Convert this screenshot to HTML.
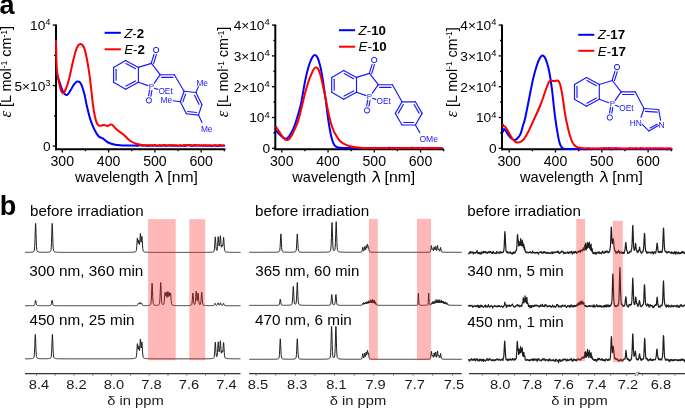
<!DOCTYPE html>
<html><head><meta charset="utf-8"><style>
html,body{margin:0;padding:0;background:#fff;}
svg{display:block;will-change:transform;}
text{font-family:"Liberation Sans", sans-serif;}
</style></head><body>
<svg width="685" height="409" viewBox="0 0 685 409">
<rect width="685" height="409" fill="#fff"/>
<text x="-0.5" y="14.3" font-size="27" font-weight="bold" fill="#000">a</text>
<text x="-0.3" y="215.2" font-size="27" font-weight="bold" fill="#000">b</text>
<line x1="55" y1="149.2" x2="225.5" y2="149.2" stroke="#000" stroke-width="2"/>
<line x1="56" y1="150.2" x2="56" y2="24.5" stroke="#000" stroke-width="2"/>
<line x1="62.3" y1="149.2" x2="62.3" y2="152.5" stroke="#000" stroke-width="1.3"/>
<line x1="85.45" y1="149.2" x2="85.45" y2="151.2" stroke="#000" stroke-width="1.3"/>
<line x1="108.6" y1="149.2" x2="108.6" y2="152.5" stroke="#000" stroke-width="1.3"/>
<line x1="131.75" y1="149.2" x2="131.75" y2="151.2" stroke="#000" stroke-width="1.3"/>
<line x1="154.9" y1="149.2" x2="154.9" y2="152.5" stroke="#000" stroke-width="1.3"/>
<line x1="178.05" y1="149.2" x2="178.05" y2="151.2" stroke="#000" stroke-width="1.3"/>
<line x1="201.2" y1="149.2" x2="201.2" y2="152.5" stroke="#000" stroke-width="1.3"/>
<line x1="224.35" y1="149.2" x2="224.35" y2="151.2" stroke="#000" stroke-width="1.3"/>
<line x1="52.7" y1="25.1" x2="56" y2="25.1" stroke="#000" stroke-width="1.3"/>
<line x1="52.7" y1="85.6" x2="56" y2="85.6" stroke="#000" stroke-width="1.3"/>
<line x1="52.7" y1="146.1" x2="56" y2="146.1" stroke="#000" stroke-width="1.3"/>
<line x1="54" y1="55.4" x2="56" y2="55.4" stroke="#000" stroke-width="1.3"/>
<line x1="54" y1="115.9" x2="56" y2="115.9" stroke="#000" stroke-width="1.3"/>
<text x="62.3" y="165.8" font-size="14.1" text-anchor="middle" fill="#000">300</text>
<text x="108.6" y="165.8" font-size="14.1" text-anchor="middle" fill="#000">400</text>
<text x="154.9" y="165.8" font-size="14.1" text-anchor="middle" fill="#000">500</text>
<text x="201.2" y="165.8" font-size="14.1" text-anchor="middle" fill="#000">600</text>
<text x="50.5" y="30" font-size="13.7" text-anchor="end" fill="#000">10<tspan dy="-4.9" font-size="9.4">4</tspan></text>
<text x="50.5" y="90.5" font-size="13.7" text-anchor="end" fill="#000">5×10<tspan dy="-4.9" font-size="9.4">3</tspan></text>
<text x="50.6" y="151" font-size="13.7" text-anchor="end" fill="#000">0</text>
<line x1="274.3" y1="149.2" x2="443.8" y2="149.2" stroke="#000" stroke-width="2"/>
<line x1="275.3" y1="150.2" x2="275.3" y2="24.5" stroke="#000" stroke-width="2"/>
<line x1="281.8" y1="149.2" x2="281.8" y2="152.5" stroke="#000" stroke-width="1.3"/>
<line x1="304.93" y1="149.2" x2="304.93" y2="151.2" stroke="#000" stroke-width="1.3"/>
<line x1="328.05" y1="149.2" x2="328.05" y2="152.5" stroke="#000" stroke-width="1.3"/>
<line x1="351.18" y1="149.2" x2="351.18" y2="151.2" stroke="#000" stroke-width="1.3"/>
<line x1="374.3" y1="149.2" x2="374.3" y2="152.5" stroke="#000" stroke-width="1.3"/>
<line x1="397.43" y1="149.2" x2="397.43" y2="151.2" stroke="#000" stroke-width="1.3"/>
<line x1="420.55" y1="149.2" x2="420.55" y2="152.5" stroke="#000" stroke-width="1.3"/>
<line x1="443.68" y1="149.2" x2="443.68" y2="151.2" stroke="#000" stroke-width="1.3"/>
<line x1="272" y1="25.1" x2="275.3" y2="25.1" stroke="#000" stroke-width="1.3"/>
<line x1="272" y1="55.9" x2="275.3" y2="55.9" stroke="#000" stroke-width="1.3"/>
<line x1="272" y1="86.7" x2="275.3" y2="86.7" stroke="#000" stroke-width="1.3"/>
<line x1="272" y1="117.5" x2="275.3" y2="117.5" stroke="#000" stroke-width="1.3"/>
<line x1="272" y1="148.3" x2="275.3" y2="148.3" stroke="#000" stroke-width="1.3"/>
<line x1="273.3" y1="40.5" x2="275.3" y2="40.5" stroke="#000" stroke-width="1.3"/>
<line x1="273.3" y1="71.3" x2="275.3" y2="71.3" stroke="#000" stroke-width="1.3"/>
<line x1="273.3" y1="102.1" x2="275.3" y2="102.1" stroke="#000" stroke-width="1.3"/>
<line x1="273.3" y1="132.9" x2="275.3" y2="132.9" stroke="#000" stroke-width="1.3"/>
<text x="281.8" y="165.8" font-size="14.1" text-anchor="middle" fill="#000">300</text>
<text x="328.05" y="165.8" font-size="14.1" text-anchor="middle" fill="#000">400</text>
<text x="374.3" y="165.8" font-size="14.1" text-anchor="middle" fill="#000">500</text>
<text x="420.55" y="165.8" font-size="14.1" text-anchor="middle" fill="#000">600</text>
<text x="269.7" y="30" font-size="13.7" text-anchor="end" fill="#000">4×10<tspan dy="-4.9" font-size="9.4">4</tspan></text>
<text x="269.7" y="60.8" font-size="13.7" text-anchor="end" fill="#000">3×10<tspan dy="-4.9" font-size="9.4">4</tspan></text>
<text x="269.7" y="91.6" font-size="13.7" text-anchor="end" fill="#000">2×10<tspan dy="-4.9" font-size="9.4">4</tspan></text>
<text x="269.7" y="122.4" font-size="13.7" text-anchor="end" fill="#000">10<tspan dy="-4.9" font-size="9.4">4</tspan></text>
<text x="270" y="153.2" font-size="13.7" text-anchor="end" fill="#000">0</text>
<line x1="501" y1="149.2" x2="672.5" y2="149.2" stroke="#000" stroke-width="2"/>
<line x1="502" y1="150.2" x2="502" y2="24.5" stroke="#000" stroke-width="2"/>
<line x1="509.2" y1="149.2" x2="509.2" y2="152.5" stroke="#000" stroke-width="1.3"/>
<line x1="532.35" y1="149.2" x2="532.35" y2="151.2" stroke="#000" stroke-width="1.3"/>
<line x1="555.5" y1="149.2" x2="555.5" y2="152.5" stroke="#000" stroke-width="1.3"/>
<line x1="578.65" y1="149.2" x2="578.65" y2="151.2" stroke="#000" stroke-width="1.3"/>
<line x1="601.8" y1="149.2" x2="601.8" y2="152.5" stroke="#000" stroke-width="1.3"/>
<line x1="624.95" y1="149.2" x2="624.95" y2="151.2" stroke="#000" stroke-width="1.3"/>
<line x1="648.1" y1="149.2" x2="648.1" y2="152.5" stroke="#000" stroke-width="1.3"/>
<line x1="671.25" y1="149.2" x2="671.25" y2="151.2" stroke="#000" stroke-width="1.3"/>
<line x1="498.7" y1="25.1" x2="502" y2="25.1" stroke="#000" stroke-width="1.3"/>
<line x1="498.7" y1="55.9" x2="502" y2="55.9" stroke="#000" stroke-width="1.3"/>
<line x1="498.7" y1="86.7" x2="502" y2="86.7" stroke="#000" stroke-width="1.3"/>
<line x1="498.7" y1="117.5" x2="502" y2="117.5" stroke="#000" stroke-width="1.3"/>
<line x1="498.7" y1="148.3" x2="502" y2="148.3" stroke="#000" stroke-width="1.3"/>
<line x1="500" y1="40.5" x2="502" y2="40.5" stroke="#000" stroke-width="1.3"/>
<line x1="500" y1="71.3" x2="502" y2="71.3" stroke="#000" stroke-width="1.3"/>
<line x1="500" y1="102.1" x2="502" y2="102.1" stroke="#000" stroke-width="1.3"/>
<line x1="500" y1="132.9" x2="502" y2="132.9" stroke="#000" stroke-width="1.3"/>
<text x="509.2" y="165.8" font-size="14.1" text-anchor="middle" fill="#000">300</text>
<text x="555.5" y="165.8" font-size="14.1" text-anchor="middle" fill="#000">400</text>
<text x="601.8" y="165.8" font-size="14.1" text-anchor="middle" fill="#000">500</text>
<text x="648.1" y="165.8" font-size="14.1" text-anchor="middle" fill="#000">600</text>
<text x="496.4" y="30" font-size="13.7" text-anchor="end" fill="#000">4×10<tspan dy="-4.9" font-size="9.4">4</tspan></text>
<text x="496.4" y="60.8" font-size="13.7" text-anchor="end" fill="#000">3×10<tspan dy="-4.9" font-size="9.4">4</tspan></text>
<text x="496.4" y="91.6" font-size="13.7" text-anchor="end" fill="#000">2×10<tspan dy="-4.9" font-size="9.4">4</tspan></text>
<text x="496.4" y="122.4" font-size="13.7" text-anchor="end" fill="#000">10<tspan dy="-4.9" font-size="9.4">4</tspan></text>
<text x="496.7" y="153.2" font-size="13.7" text-anchor="end" fill="#000">0</text>
<text transform="translate(11.2,71.7) rotate(-90)" x="0" y="0" font-size="14.5" text-anchor="middle" textLength="91.6" lengthAdjust="spacingAndGlyphs"><tspan font-style="italic" style="font-family:&quot;Liberation Serif&quot;,serif" font-size="16.5">ε</tspan> [L mol<tspan dy="-4.5" font-size="8.5">-1</tspan><tspan dy="4.5"> cm</tspan><tspan dy="-4.5" font-size="8.5">-1</tspan><tspan dy="4.5">]</tspan></text>
<text transform="translate(228.2,72) rotate(-90)" x="0" y="0" font-size="14.5" text-anchor="middle" textLength="90.6" lengthAdjust="spacingAndGlyphs"><tspan font-style="italic" style="font-family:&quot;Liberation Serif&quot;,serif" font-size="16.5">ε</tspan> [L mol<tspan dy="-4.5" font-size="8.5">-1</tspan><tspan dy="4.5"> cm</tspan><tspan dy="-4.5" font-size="8.5">-1</tspan><tspan dy="4.5">]</tspan></text>
<text transform="translate(456.5,72.3) rotate(-90)" x="0" y="0" font-size="14.5" text-anchor="middle" textLength="90" lengthAdjust="spacingAndGlyphs"><tspan font-style="italic" style="font-family:&quot;Liberation Serif&quot;,serif" font-size="16.5">ε</tspan> [L mol<tspan dy="-4.5" font-size="8.5">-1</tspan><tspan dy="4.5"> cm</tspan><tspan dy="-4.5" font-size="8.5">-1</tspan><tspan dy="4.5">]</tspan></text>
<text x="75" y="181.5" font-size="14.6" textLength="73.8" lengthAdjust="spacingAndGlyphs" fill="#000">wavelength</text>
<path d="M156.6 171.6 Q158.8 170.6 159.8 173.9 L162.2 181.7" fill="none" stroke="#000" stroke-width="1.35" stroke-linecap="round"/>
<path d="M159.8 175.1 L155.5 181.7" fill="none" stroke="#000" stroke-width="1.25" stroke-linecap="round"/>
<text x="167.3" y="181.5" font-size="14.6" textLength="30.6" lengthAdjust="spacingAndGlyphs" fill="#000">[nm]</text>
<text x="292.3" y="181.5" font-size="14.6" textLength="73.8" lengthAdjust="spacingAndGlyphs" fill="#000">wavelength</text>
<path d="M373.9 171.6 Q376.1 170.6 377.1 173.9 L379.5 181.7" fill="none" stroke="#000" stroke-width="1.35" stroke-linecap="round"/>
<path d="M377.1 175.1 L372.8 181.7" fill="none" stroke="#000" stroke-width="1.25" stroke-linecap="round"/>
<text x="384.6" y="181.5" font-size="14.6" textLength="30.6" lengthAdjust="spacingAndGlyphs" fill="#000">[nm]</text>
<text x="520" y="181.5" font-size="14.6" textLength="73.8" lengthAdjust="spacingAndGlyphs" fill="#000">wavelength</text>
<path d="M601.6 171.6 Q603.8 170.6 604.8 173.9 L607.2 181.7" fill="none" stroke="#000" stroke-width="1.35" stroke-linecap="round"/>
<path d="M604.8 175.1 L600.5 181.7" fill="none" stroke="#000" stroke-width="1.25" stroke-linecap="round"/>
<text x="612.3" y="181.5" font-size="14.6" textLength="30.6" lengthAdjust="spacingAndGlyphs" fill="#000">[nm]</text>
<path d="M56.2 72.5 C56.63 73.73 57.7 76.8 58.8 79.9 C59.9 83 61.47 88.57 62.8 91.1 C64.13 93.63 65.5 95.23 66.8 95.1 C68.1 94.97 69.4 92.1 70.6 90.3 C71.8 88.5 72.88 85.75 74 84.3 C75.12 82.85 76.17 81.75 77.3 81.6 C78.43 81.45 79.63 81.38 80.8 83.4 C81.97 85.42 83.3 89.98 84.3 93.7 C85.3 97.42 85.8 101.42 86.8 105.7 C87.8 109.98 89.02 115.4 90.3 119.4 C91.58 123.4 93.08 126.85 94.5 129.7 C95.92 132.55 97.37 135.02 98.8 136.5 C100.23 137.98 101.53 137.6 103.1 138.6 C104.67 139.6 106.2 141.47 108.2 142.5 C110.2 143.53 112.8 144.32 115.1 144.8 C117.4 145.28 119.52 145.27 122 145.4 C124.48 145.53 128.33 145.59 130 145.6 C131.67 145.61 131.42 145.44 132 145.44 C132.58 145.45 133 145.61 133.5 145.63 C134 145.64 134.5 145.52 135 145.52 C135.5 145.53 136 145.64 136.5 145.66 C137 145.69 137.5 145.73 138 145.68 C138.5 145.62 139 145.4 139.5 145.34 C140 145.28 140.5 145.23 141 145.31 C141.5 145.39 142 145.78 142.5 145.8 C143 145.83 143.5 145.52 144 145.46 C144.5 145.4 145 145.37 145.5 145.44 C146 145.51 146.5 145.87 147 145.9 C147.5 145.92 148 145.6 148.5 145.58 C149 145.57 149.5 145.8 150 145.8 C150.5 145.8 151 145.61 151.5 145.59 C152 145.57 152.5 145.72 153 145.68 C153.5 145.65 154 145.39 154.5 145.39 C155 145.39 155.5 145.61 156 145.68 C156.5 145.75 157 145.83 157.5 145.82 C158 145.81 158.5 145.63 159 145.61 C159.5 145.6 160 145.73 160.5 145.74 C161 145.76 161.5 145.77 162 145.7 C162.5 145.64 163 145.33 163.5 145.34 C164 145.35 164.5 145.7 165 145.75 C165.5 145.81 166 145.7 166.5 145.65 C167 145.61 167.5 145.54 168 145.48 C168.5 145.42 169 145.26 169.5 145.32 C170 145.38 170.5 145.78 171 145.82 C171.5 145.86 172 145.6 172.5 145.58 C173 145.57 173.5 145.69 174 145.73 C174.5 145.77 175 145.83 175.5 145.83 C176 145.83 176.5 145.72 177 145.73 C177.5 145.73 178 145.88 178.5 145.85 C179 145.82 179.5 145.55 180 145.54 C180.5 145.52 181 145.78 181.5 145.78 C182 145.79 182.5 145.55 183 145.57 C183.5 145.58 184 145.82 184.5 145.86 C185 145.9 185.5 145.91 186 145.83 C186.5 145.74 187 145.43 187.5 145.36 C188 145.28 188.5 145.37 189 145.38 C189.5 145.39 190 145.35 190.5 145.43 C191 145.51 191.5 145.86 192 145.88 C192.5 145.9 193 145.6 193.5 145.56 C194 145.53 194.5 145.69 195 145.68 C195.5 145.66 196 145.49 196.5 145.48 C197 145.47 197.5 145.6 198 145.6 C198.5 145.61 199 145.55 199.5 145.53 C200 145.52 200.5 145.49 201 145.51 C201.5 145.53 202 145.63 202.5 145.65 C203 145.67 203.5 145.62 204 145.65 C204.5 145.68 205 145.83 205.5 145.84 C206 145.85 206.5 145.71 207 145.71 C207.5 145.71 208 145.84 208.5 145.86 C209 145.87 209.5 145.81 210 145.81 C210.5 145.82 211 145.91 211.5 145.89 C212 145.88 212.5 145.79 213 145.7 C213.5 145.62 214 145.38 214.5 145.4 C215 145.42 215.5 145.74 216 145.82 C216.5 145.9 217 145.87 217.5 145.88 C218 145.88 218.5 145.88 219 145.84 C219.5 145.8 220 145.66 220.5 145.64 C221 145.62 221.5 145.76 222 145.73 C222.5 145.69 223 145.41 223.5 145.43 C224 145.44 224.75 145.74 225 145.8" fill="none" stroke="#0000ff" stroke-width="2" stroke-linejoin="round"/>
<path d="M56 40.3 C56.07 43.58 56.2 54.72 56.4 60 C56.6 65.28 56.77 68.25 57.2 72 C57.63 75.75 58.37 79.42 59 82.5 C59.63 85.58 60.37 88.72 61 90.5 C61.63 92.28 62.13 93.12 62.8 93.2 C63.47 93.28 64 93.2 65 91 C66 88.8 67.38 85.28 68.8 80 C70.22 74.72 72.13 64.72 73.5 59.3 C74.87 53.88 75.83 50.07 77 47.5 C78.17 44.93 79.33 43.9 80.5 43.9 C81.67 43.9 82.97 45.15 84 47.5 C85.03 49.85 85.78 53.42 86.7 58 C87.62 62.58 88.73 69.67 89.5 75 C90.27 80.33 90.72 85 91.3 90 C91.88 95 92.42 100.67 93 105 C93.58 109.33 94.17 113 94.8 116 C95.43 119 96.1 121.4 96.8 123 C97.5 124.6 98.22 125.17 99 125.6 C99.78 126.03 100.67 125.72 101.5 125.6 C102.33 125.48 103.02 124.85 104 124.9 C104.98 124.95 106.32 125.95 107.4 125.9 C108.48 125.85 109.65 124.75 110.5 124.6 C111.35 124.45 111.73 124.43 112.5 125 C113.27 125.57 114.1 127 115.1 128 C116.1 129 117.07 129.87 118.5 131 C119.93 132.13 121.78 133.17 123.7 134.8 C125.62 136.43 127.83 139.27 130 140.8 C132.17 142.33 134.37 143.27 136.7 144 C139.03 144.73 141.78 144.98 144 145.2 C146.22 145.42 148.67 145.27 150 145.3 C151.33 145.33 151.42 145.38 152 145.35 C152.58 145.33 153 145.21 153.5 145.15 C154 145.09 154.5 144.93 155 144.99 C155.5 145.06 156 145.44 156.5 145.55 C157 145.66 157.5 145.73 158 145.64 C158.5 145.55 159 145.03 159.5 145.01 C160 144.99 160.5 145.47 161 145.51 C161.5 145.55 162 145.31 162.5 145.24 C163 145.16 163.5 145.07 164 145.06 C164.5 145.04 165 145.08 165.5 145.16 C166 145.23 166.5 145.42 167 145.49 C167.5 145.56 168 145.65 168.5 145.56 C169 145.48 169.5 145.01 170 144.98 C170.5 144.95 171 145.38 171.5 145.38 C172 145.38 172.5 144.97 173 144.98 C173.5 144.99 174 145.42 174.5 145.45 C175 145.49 175.5 145.16 176 145.18 C176.5 145.2 177 145.49 177.5 145.57 C178 145.64 178.5 145.68 179 145.64 C179.5 145.59 180 145.3 180.5 145.3 C181 145.31 181.5 145.67 182 145.65 C182.5 145.63 183 145.27 183.5 145.17 C184 145.06 184.5 144.97 185 145 C185.5 145.04 186 145.38 186.5 145.37 C187 145.36 187.5 145.02 188 144.97 C188.5 144.93 189 145.04 189.5 145.09 C190 145.13 190.5 145.19 191 145.24 C191.5 145.28 192 145.41 192.5 145.38 C193 145.35 193.5 145.13 194 145.06 C194.5 144.99 195 144.9 195.5 144.98 C196 145.06 196.5 145.53 197 145.56 C197.5 145.59 198 145.16 198.5 145.17 C199 145.18 199.5 145.55 200 145.62 C200.5 145.69 201 145.65 201.5 145.58 C202 145.51 202.5 145.27 203 145.21 C203.5 145.16 204 145.26 204.5 145.27 C205 145.29 205.5 145.29 206 145.31 C206.5 145.34 207 145.39 207.5 145.4 C208 145.41 208.5 145.38 209 145.37 C209.5 145.36 210 145.34 210.5 145.34 C211 145.34 211.5 145.34 212 145.38 C212.5 145.43 213 145.62 213.5 145.61 C214 145.6 214.5 145.36 215 145.3 C215.5 145.25 216 145.23 216.5 145.25 C217 145.28 217.5 145.48 218 145.45 C218.5 145.43 219 145.17 219.5 145.12 C220 145.07 220.5 145.07 221 145.16 C221.5 145.25 222 145.61 222.5 145.63 C223 145.66 223.75 145.37 224 145.31" fill="none" stroke="#ff0000" stroke-width="2" stroke-linejoin="round"/>
<path d="M275.6 130.2 C276.33 130.97 278.68 133.53 280 134.8 C281.32 136.07 282.45 137.13 283.5 137.8 C284.55 138.47 285.38 139.03 286.3 138.8 C287.22 138.57 288.05 137.62 289 136.4 C289.95 135.18 291 133.48 292 131.5 C293 129.52 294.08 127 295 124.5 C295.92 122 296.5 119.97 297.5 116.5 C298.5 113.03 299.8 109.27 301 103.7 C302.2 98.13 303.7 88.3 304.7 83.1 C305.7 77.9 306.18 75.77 307 72.5 C307.82 69.23 308.72 66.05 309.6 63.5 C310.48 60.95 311.42 58.62 312.3 57.2 C313.18 55.78 314.03 54.95 314.9 55 C315.77 55.05 316.63 55.75 317.5 57.5 C318.37 59.25 319.32 62.42 320.1 65.5 C320.88 68.58 321.5 71.92 322.2 76 C322.9 80.08 323.67 85.67 324.3 90 C324.93 94.33 325.42 97.58 326 102 C326.58 106.42 327.2 112.17 327.8 116.5 C328.4 120.83 328.98 124.5 329.6 128 C330.22 131.5 330.85 134.92 331.5 137.5 C332.15 140.08 332.75 141.98 333.5 143.5 C334.25 145.02 334.88 145.88 336 146.6 C337.12 147.32 337.65 147.55 340.2 147.8 C342.75 148.05 349 148.05 351.3 148.1 C353.6 148.15 353.3 148.15 354 148.12 C354.7 148.09 355 147.91 355.5 147.9 C356 147.9 356.5 148.03 357 148.07 C357.5 148.1 358 148.16 358.5 148.13 C359 148.11 359.5 147.91 360 147.91 C360.5 147.91 361 148.11 361.5 148.15 C362 148.19 362.5 148.19 363 148.15 C363.5 148.12 364 147.92 364.5 147.92 C365 147.92 365.5 148.12 366 148.15 C366.5 148.18 367 148.08 367.5 148.09 C368 148.09 368.5 148.18 369 148.17 C369.5 148.16 370 148.04 370.5 148.04 C371 148.04 371.5 148.16 372 148.18 C372.5 148.21 373 148.24 373.5 148.2 C374 148.15 374.5 147.95 375 147.91 C375.5 147.86 376 147.88 376.5 147.92 C377 147.97 377.5 148.11 378 148.17 C378.5 148.23 379 148.31 379.5 148.29 C380 148.26 380.5 148.03 381 148 C381.5 147.97 382 148.06 382.5 148.08 C383 148.11 383.5 148.15 384 148.14 C384.5 148.13 385 148.04 385.5 148.03 C386 148.01 386.5 148.05 387 148.05 C387.5 148.05 388 148.02 388.5 148.03 C389 148.03 389.5 148.03 390 148.05 C390.5 148.07 391 148.14 391.5 148.14 C392 148.13 392.5 148.03 393 148.02 C393.5 148.01 394 148.02 394.5 148.05 C395 148.08 395.5 148.23 396 148.21 C396.5 148.19 397 147.92 397.5 147.91 C398 147.9 398.5 148.08 399 148.13 C399.5 148.17 400 148.21 400.5 148.19 C401 148.18 401.5 148.06 402 148.02 C402.5 147.99 403 147.96 403.5 147.99 C404 148.02 404.5 148.22 405 148.22 C405.5 148.22 406 148.04 406.5 148 C407 147.95 407.5 147.96 408 147.97 C408.5 147.99 409 148.04 409.5 148.07 C410 148.11 410.5 148.2 411 148.18 C411.5 148.16 412 147.97 412.5 147.94 C413 147.92 413.5 148.01 414 148.03 C414.5 148.04 415 148 415.5 148.03 C416 148.07 416.5 148.23 417 148.23 C417.5 148.24 418 148.07 418.5 148.08 C419 148.08 419.5 148.26 420 148.24 C420.5 148.22 421 148 421.5 147.97 C422 147.93 422.5 148 423 148.03 C423.5 148.07 424 148.12 424.5 148.16 C425 148.2 425.5 148.27 426 148.25 C426.5 148.24 427 148.12 427.5 148.08 C428 148.04 428.5 148.01 429 147.99 C429.5 147.97 430 147.93 430.5 147.95 C431 147.97 431.5 148.11 432 148.11 C432.5 148.12 433 147.96 433.5 147.98 C434 147.99 434.5 148.18 435 148.22 C435.5 148.27 436 148.28 436.5 148.24 C437 148.19 437.5 148.01 438 147.97 C438.5 147.94 439 147.97 439.5 148.01 C440 148.05 440.5 148.2 441 148.22 C441.5 148.25 442.25 148.17 442.5 148.16" fill="none" stroke="#0000ff" stroke-width="2" stroke-linejoin="round"/>
<path d="M275.6 126.2 C276 126.8 277.1 128.42 278 129.8 C278.9 131.18 280 133.05 281 134.5 C282 135.95 283.12 137.6 284 138.5 C284.88 139.4 285.47 139.78 286.3 139.9 C287.13 140.02 288.05 140.02 289 139.2 C289.95 138.38 291 136.78 292 135 C293 133.22 293.93 130.98 295 128.5 C296.07 126.02 297.15 124.23 298.4 120.1 C299.65 115.97 301.32 108.47 302.5 103.7 C303.68 98.93 304.5 95.2 305.5 91.5 C306.5 87.8 307.58 84.25 308.5 81.5 C309.42 78.75 310.17 77 311 75 C311.83 73 312.65 70.78 313.5 69.5 C314.35 68.22 315.27 67.3 316.1 67.3 C316.93 67.3 317.72 67.97 318.5 69.5 C319.28 71.03 320.08 73.92 320.8 76.5 C321.52 79.08 322.15 82.08 322.8 85 C323.45 87.92 324.08 91 324.7 94 C325.32 97 325.87 99.83 326.5 103 C327.13 106.17 327.83 109.92 328.5 113 C329.17 116.08 329.72 118.7 330.5 121.5 C331.28 124.3 332.35 127.62 333.2 129.8 C334.05 131.98 334.67 132.97 335.6 134.6 C336.53 136.23 337.73 138.27 338.8 139.6 C339.87 140.93 340.85 141.77 342 142.6 C343.15 143.43 344.37 144 345.7 144.6 C347.03 145.2 348.37 145.75 350 146.2 C351.63 146.65 353.5 147.02 355.5 147.3 C357.5 147.58 359.58 147.78 362 147.9 C364.42 148.02 368.33 147.96 370 148 C371.67 148.04 371.42 148.13 372 148.12 C372.58 148.11 373 147.98 373.5 147.94 C374 147.89 374.5 147.86 375 147.85 C375.5 147.85 376 147.87 376.5 147.92 C377 147.96 377.5 148.12 378 148.12 C378.5 148.12 379 147.94 379.5 147.91 C380 147.88 380.5 147.93 381 147.94 C381.5 147.95 382 147.96 382.5 147.97 C383 147.97 383.5 147.97 384 147.97 C384.5 147.97 385 147.93 385.5 147.96 C386 148 386.5 148.19 387 148.17 C387.5 148.15 388 147.92 388.5 147.86 C389 147.8 389.5 147.75 390 147.8 C390.5 147.85 391 148.12 391.5 148.18 C392 148.24 392.5 148.15 393 148.15 C393.5 148.15 394 148.22 394.5 148.19 C395 148.17 395.5 147.98 396 147.97 C396.5 147.97 397 148.15 397.5 148.18 C398 148.21 398.5 148.22 399 148.17 C399.5 148.12 400 147.9 400.5 147.89 C401 147.88 401.5 148.06 402 148.1 C402.5 148.14 403 148.14 403.5 148.13 C404 148.13 404.5 148.09 405 148.07 C405.5 148.04 406 148.03 406.5 148.01 C407 147.98 407.5 147.93 408 147.92 C408.5 147.9 409 147.94 409.5 147.94 C410 147.93 410.5 147.91 411 147.89 C411.5 147.87 412 147.8 412.5 147.83 C413 147.85 413.5 148.02 414 148.04 C414.5 148.05 415 147.9 415.5 147.91 C416 147.93 416.5 148.14 417 148.12 C417.5 148.11 418 147.81 418.5 147.82 C419 147.82 419.5 148.12 420 148.16 C420.5 148.2 421 148.08 421.5 148.08 C422 148.08 422.5 148.16 423 148.17 C423.5 148.18 424 148.16 424.5 148.16 C425 148.16 425.5 148.18 426 148.16 C426.5 148.14 427 148.09 427.5 148.03 C428 147.97 428.5 147.79 429 147.81 C429.5 147.82 430 148.09 430.5 148.1 C431 148.11 431.5 147.9 432 147.87 C432.5 147.84 433 147.89 433.5 147.92 C434 147.95 434.5 148.05 435 148.07 C435.5 148.08 436 148.03 436.5 148.01 C437 147.99 437.5 147.94 438 147.97 C438.5 147.99 439 148.16 439.5 148.18 C440 148.19 440.5 148.08 441 148.04 C441.5 148.01 442.25 147.95 442.5 147.94" fill="none" stroke="#ff0000" stroke-width="2" stroke-linejoin="round"/>
<path d="M502.8 132.5 C502.95 131.95 503.33 129.65 503.7 129.2 C504.07 128.75 504.52 129.3 505 129.8 C505.48 130.3 505.97 131.25 506.6 132.2 C507.23 133.15 507.98 134.45 508.8 135.5 C509.62 136.55 510.52 137.77 511.5 138.5 C512.48 139.23 513.7 139.95 514.7 139.9 C515.7 139.85 516.53 139.18 517.5 138.2 C518.47 137.22 519.58 136.12 520.5 134 C521.42 131.88 522.27 127.95 523 125.5 C523.73 123.05 524.08 122.77 524.9 119.3 C525.72 115.83 526.92 109.58 527.9 104.7 C528.88 99.82 529.92 94.37 530.8 90 C531.68 85.63 532.35 82.08 533.2 78.5 C534.05 74.92 534.93 71.62 535.9 68.5 C536.87 65.38 537.9 61.95 539 59.8 C540.1 57.65 541.42 55.77 542.5 55.6 C543.58 55.43 544.53 56.82 545.5 58.8 C546.47 60.78 547.47 64.13 548.3 67.5 C549.13 70.87 549.83 74.92 550.5 79 C551.17 83.08 551.75 87.5 552.3 92 C552.85 96.5 553.3 101.58 553.8 106 C554.3 110.42 554.73 114.33 555.3 118.5 C555.87 122.67 556.55 127.17 557.2 131 C557.85 134.83 558.52 138.87 559.2 141.5 C559.88 144.13 560.58 145.62 561.3 146.8 C562.02 147.98 562.55 148.23 563.5 148.6 C564.45 148.97 566.08 148.95 567 149 C567.92 149.05 568.42 148.88 569 148.9 C569.58 148.93 570 149.13 570.5 149.14 C571 149.16 571.5 149 572 148.99 C572.5 148.99 573 149.12 573.5 149.11 C574 149.1 574.5 148.98 575 148.94 C575.5 148.9 576 148.87 576.5 148.88 C577 148.89 577.5 148.97 578 149.01 C578.5 149.06 579 149.15 579.5 149.13 C580 149.1 580.5 148.87 581 148.87 C581.5 148.87 582 149.07 582.5 149.12 C583 149.17 583.5 149.17 584 149.17 C584.5 149.17 585 149.13 585.5 149.12 C586 149.12 586.5 149.18 587 149.13 C587.5 149.08 588 148.82 588.5 148.8 C589 148.79 589.5 148.99 590 149.05 C590.5 149.11 591 149.18 591.5 149.15 C592 149.11 592.5 148.86 593 148.82 C593.5 148.78 594 148.89 594.5 148.91 C595 148.92 595.5 148.89 596 148.91 C596.5 148.92 597 149 597.5 149.01 C598 149.02 598.5 148.97 599 148.97 C599.5 148.97 600 148.97 600.5 148.99 C601 149.01 601.5 149.14 602 149.11 C602.5 149.08 603 148.85 603.5 148.8 C604 148.75 604.5 148.81 605 148.82 C605.5 148.83 606 148.85 606.5 148.85 C607 148.86 607.5 148.85 608 148.85 C608.5 148.85 609 148.77 609.5 148.83 C610 148.88 610.5 149.14 611 149.19 C611.5 149.24 612 149.2 612.5 149.14 C613 149.08 613.5 148.86 614 148.83 C614.5 148.81 615 148.99 615.5 149 C616 149.02 616.5 148.94 617 148.93 C617.5 148.91 618 148.92 618.5 148.93 C619 148.93 619.5 148.92 620 148.94 C620.5 148.96 621 149.04 621.5 149.06 C622 149.07 622.5 149.05 623 149.03 C623.5 149.02 624 148.97 624.5 148.94 C625 148.92 625.5 148.88 626 148.88 C626.5 148.87 627 148.94 627.5 148.93 C628 148.93 628.5 148.83 629 148.85 C629.5 148.86 630 148.98 630.5 149.02 C631 149.06 631.5 149.1 632 149.09 C632.5 149.07 633 148.99 633.5 148.95 C634 148.91 634.5 148.85 635 148.83 C635.5 148.82 636 148.85 636.5 148.87 C637 148.89 637.5 148.92 638 148.95 C638.5 148.98 639 149.01 639.5 149.04 C640 149.07 640.5 149.13 641 149.11 C641.5 149.1 642 148.95 642.5 148.95 C643 148.95 643.5 149.1 644 149.12 C644.5 149.14 645 149.07 645.5 149.05 C646 149.02 646.5 148.99 647 148.97 C647.5 148.96 648 148.94 648.5 148.95 C649 148.95 649.5 148.98 650 149 C650.5 149.02 651 149.09 651.5 149.08 C652 149.08 652.5 148.97 653 148.97 C653.5 148.97 654 149.07 654.5 149.08 C655 149.08 655.5 149.01 656 148.98 C656.5 148.95 657 148.89 657.5 148.9 C658 148.9 658.5 148.98 659 149.01 C659.5 149.04 660 149.11 660.5 149.08 C661 149.05 661.5 148.85 662 148.83 C662.5 148.81 663 148.95 663.5 148.97 C664 148.99 664.5 148.94 665 148.97 C665.5 149 666 149.12 666.5 149.15 C667 149.19 667.5 149.21 668 149.17 C668.5 149.14 669 148.95 669.5 148.95 C670 148.95 670.75 149.12 671 149.16" fill="none" stroke="#0000ff" stroke-width="2" stroke-linejoin="round"/>
<path d="M502.8 124.2 C502.95 124.55 503.33 125.9 503.7 126.3 C504.07 126.7 504.52 126.18 505 126.6 C505.48 127.02 505.97 127.82 506.6 128.8 C507.23 129.78 508.07 131.22 508.8 132.5 C509.53 133.78 510.27 135.32 511 136.5 C511.73 137.68 512.45 138.72 513.2 139.6 C513.95 140.48 514.77 141.3 515.5 141.8 C516.23 142.3 516.77 142.58 517.6 142.6 C518.43 142.62 519.52 142.38 520.5 141.9 C521.48 141.42 522.5 140.85 523.5 139.7 C524.5 138.55 525.53 136.68 526.5 135 C527.47 133.32 528.22 131.85 529.3 129.6 C530.38 127.35 531.77 124.18 533 121.5 C534.23 118.82 535.53 116.08 536.7 113.5 C537.87 110.92 539.03 108.33 540 106 C540.97 103.67 541.75 101.58 542.5 99.5 C543.25 97.42 543.83 95.42 544.5 93.5 C545.17 91.58 545.88 89.67 546.5 88 C547.12 86.33 547.68 84.63 548.2 83.5 C548.72 82.37 549.13 81.68 549.6 81.2 C550.07 80.72 550.43 80.65 551 80.6 C551.57 80.55 552.33 80.85 553 80.9 C553.67 80.95 554.33 80.97 555 80.9 C555.67 80.83 556.42 80.48 557 80.5 C557.58 80.52 558.03 80.5 558.5 81 C558.97 81.5 559.38 82.33 559.8 83.5 C560.22 84.67 560.58 86.08 561 88 C561.42 89.92 561.88 92.5 562.3 95 C562.72 97.5 563.08 100.08 563.5 103 C563.92 105.92 564.3 109.42 564.8 112.5 C565.3 115.58 565.88 118.55 566.5 121.5 C567.12 124.45 567.87 127.65 568.5 130.2 C569.13 132.75 569.7 134.9 570.3 136.8 C570.9 138.7 571.4 140.2 572.1 141.6 C572.8 143 573.63 144.28 574.5 145.2 C575.37 146.12 576.3 146.65 577.3 147.1 C578.3 147.55 579.53 147.72 580.5 147.9 C581.47 148.08 582.35 148.11 583.1 148.2 C583.85 148.29 584.43 148.42 585 148.42 C585.57 148.42 586 148.23 586.5 148.2 C587 148.18 587.5 148.29 588 148.29 C588.5 148.28 589 148.13 589.5 148.15 C590 148.17 590.5 148.39 591 148.43 C591.5 148.46 592 148.36 592.5 148.36 C593 148.37 593.5 148.45 594 148.45 C594.5 148.46 595 148.43 595.5 148.42 C596 148.4 596.5 148.37 597 148.37 C597.5 148.36 598 148.4 598.5 148.39 C599 148.39 599.5 148.37 600 148.33 C600.5 148.28 601 148.14 601.5 148.14 C602 148.14 602.5 148.34 603 148.34 C603.5 148.33 604 148.13 604.5 148.1 C605 148.07 605.5 148.11 606 148.16 C606.5 148.21 607 148.42 607.5 148.41 C608 148.4 608.5 148.16 609 148.12 C609.5 148.07 610 148.13 610.5 148.14 C611 148.14 611.5 148.09 612 148.14 C612.5 148.19 613 148.45 613.5 148.45 C614 148.46 614.5 148.23 615 148.17 C615.5 148.11 616 148.07 616.5 148.11 C617 148.15 617.5 148.43 618 148.44 C618.5 148.44 619 148.15 619.5 148.15 C620 148.15 620.5 148.4 621 148.44 C621.5 148.47 622 148.37 622.5 148.37 C623 148.37 623.5 148.42 624 148.43 C624.5 148.45 625 148.5 625.5 148.48 C626 148.46 626.5 148.34 627 148.33 C627.5 148.32 628 148.46 628.5 148.42 C629 148.38 629.5 148.12 630 148.11 C630.5 148.11 631 148.38 631.5 148.41 C632 148.44 632.5 148.31 633 148.3 C633.5 148.3 634 148.41 634.5 148.39 C635 148.36 635.5 148.14 636 148.14 C636.5 148.14 637 148.34 637.5 148.4 C638 148.45 638.5 148.52 639 148.47 C639.5 148.43 640 148.17 640.5 148.12 C641 148.08 641.5 148.2 642 148.23 C642.5 148.26 643 148.29 643.5 148.33 C644 148.36 644.5 148.45 645 148.43 C645.5 148.41 646 148.24 646.5 148.2 C647 148.15 647.5 148.17 648 148.17 C648.5 148.17 649 148.17 649.5 148.2 C650 148.23 650.5 148.31 651 148.35 C651.5 148.38 652 148.42 652.5 148.4 C653 148.39 653.5 148.28 654 148.26 C654.5 148.23 655 148.25 655.5 148.25 C656 148.25 656.5 148.26 657 148.26 C657.5 148.26 658 148.24 658.5 148.24 C659 148.24 659.5 148.29 660 148.27 C660.5 148.25 661 148.13 661.5 148.13 C662 148.14 662.5 148.24 663 148.3 C663.5 148.36 664 148.5 664.5 148.49 C665 148.48 665.5 148.28 666 148.27 C666.5 148.25 667 148.42 667.5 148.4 C668 148.38 668.5 148.17 669 148.16 C669.5 148.16 670 148.34 670.5 148.38 C671 148.42 671.75 148.4 672 148.4" fill="none" stroke="#ff0000" stroke-width="2" stroke-linejoin="round"/>
<line x1="104.6" y1="32.8" x2="120.9" y2="32.8" stroke="#0000ff" stroke-width="2"/>
<line x1="104.6" y1="49.3" x2="120.9" y2="49.3" stroke="#ff0000" stroke-width="2"/>
<text x="124.2" y="37.6" font-size="13.3" fill="#000"><tspan font-style="italic">Z</tspan>-<tspan font-weight="bold">2</tspan></text>
<text x="124.2" y="53.7" font-size="13.3" fill="#000"><tspan font-style="italic">E</tspan>-<tspan font-weight="bold">2</tspan></text>
<line x1="339" y1="30.2" x2="355.1" y2="30.2" stroke="#0000ff" stroke-width="2"/>
<line x1="339" y1="46.7" x2="355.1" y2="46.7" stroke="#ff0000" stroke-width="2"/>
<text x="358.6" y="34.8" font-size="13.3" fill="#000"><tspan font-style="italic">Z</tspan>-<tspan font-weight="bold">10</tspan></text>
<text x="358.6" y="51.1" font-size="13.3" fill="#000"><tspan font-style="italic">E</tspan>-<tspan font-weight="bold">10</tspan></text>
<line x1="578.2" y1="34.8" x2="594.3" y2="34.8" stroke="#0000ff" stroke-width="2"/>
<line x1="578.2" y1="50.8" x2="594.3" y2="50.8" stroke="#ff0000" stroke-width="2"/>
<text x="597.8" y="39.4" font-size="13.3" fill="#000"><tspan font-style="italic">Z</tspan>-<tspan font-weight="bold">17</tspan></text>
<text x="597.8" y="55.7" font-size="13.3" fill="#000"><tspan font-style="italic">E</tspan>-<tspan font-weight="bold">17</tspan></text>
<line x1="125.6" y1="60.4" x2="138.4" y2="67.4" stroke="#1818ff" stroke-width="1.15" stroke-linecap="round"/>
<line x1="138.4" y1="67.4" x2="138.4" y2="82.2" stroke="#1818ff" stroke-width="1.15" stroke-linecap="round"/>
<line x1="138.4" y1="82.2" x2="125.6" y2="89.2" stroke="#1818ff" stroke-width="1.15" stroke-linecap="round"/>
<line x1="125.6" y1="89.2" x2="113.6" y2="82.2" stroke="#1818ff" stroke-width="1.15" stroke-linecap="round"/>
<line x1="113.6" y1="82.2" x2="113.6" y2="67.4" stroke="#1818ff" stroke-width="1.15" stroke-linecap="round"/>
<line x1="113.6" y1="67.4" x2="125.6" y2="60.4" stroke="#1818ff" stroke-width="1.15" stroke-linecap="round"/>
<line x1="126.03" y1="63.48" x2="135.5" y2="68.66" stroke="#1818ff" stroke-width="1.15" stroke-linecap="round"/>
<line x1="135.5" y1="80.94" x2="126.03" y2="86.12" stroke="#1818ff" stroke-width="1.15" stroke-linecap="round"/>
<line x1="116.1" y1="80.28" x2="116.1" y2="69.32" stroke="#1818ff" stroke-width="1.15" stroke-linecap="round"/>
<line x1="138.4" y1="67.4" x2="151.4" y2="63.4" stroke="#1818ff" stroke-width="1.15" stroke-linecap="round"/>
<line x1="151.4" y1="63.4" x2="160.2" y2="74.7" stroke="#1818ff" stroke-width="1.15" stroke-linecap="round"/>
<line x1="151.2" y1="63.4" x2="154" y2="54.3" stroke="#1818ff" stroke-width="1.15" stroke-linecap="round"/>
<line x1="153.6" y1="63.6" x2="156.4" y2="54.6" stroke="#1818ff" stroke-width="1.15" stroke-linecap="round"/>
<ellipse cx="156.1" cy="50" rx="2.65" ry="2.7" fill="none" stroke="#1818ff" stroke-width="1.0"/>
<line x1="160.2" y1="74.7" x2="174.3" y2="74.7" stroke="#1818ff" stroke-width="1.15" stroke-linecap="round"/>
<line x1="161.6" y1="77.4" x2="172.9" y2="77.4" stroke="#1818ff" stroke-width="1.15" stroke-linecap="round"/>
<line x1="138.4" y1="82.2" x2="147.9" y2="85.6" stroke="#1818ff" stroke-width="1.15" stroke-linecap="round"/>
<line x1="160.2" y1="74.7" x2="154.3" y2="83.2" stroke="#1818ff" stroke-width="1.15" stroke-linecap="round"/>
<text x="151.4" y="88.9" font-size="8" text-anchor="middle" fill="#1818ff">P</text>
<line x1="154.5" y1="88.2" x2="157.8" y2="89.4" stroke="#1818ff" stroke-width="1.15" stroke-linecap="round"/>
<text x="158.4" y="93.7" font-size="8.3" fill="#1818ff">OEt</text>
<line x1="149.6" y1="90.2" x2="148.6" y2="95.8" stroke="#1818ff" stroke-width="1.15" stroke-linecap="round"/>
<line x1="151.9" y1="90.5" x2="150.9" y2="96.1" stroke="#1818ff" stroke-width="1.15" stroke-linecap="round"/>
<ellipse cx="148.9" cy="100.4" rx="2.65" ry="2.7" fill="none" stroke="#1818ff" stroke-width="1.0"/>
<line x1="174.3" y1="74.7" x2="184.1" y2="91.2" stroke="#1818ff" stroke-width="1.15" stroke-linecap="round"/>
<line x1="184.1" y1="91.2" x2="195.9" y2="92.5" stroke="#1818ff" stroke-width="1.15" stroke-linecap="round"/>
<line x1="195.9" y1="92.5" x2="201.9" y2="104.6" stroke="#1818ff" stroke-width="1.15" stroke-linecap="round"/>
<line x1="201.9" y1="104.6" x2="198.5" y2="115.1" stroke="#1818ff" stroke-width="1.15" stroke-linecap="round"/>
<line x1="198.5" y1="115.1" x2="186.4" y2="113.8" stroke="#1818ff" stroke-width="1.15" stroke-linecap="round"/>
<line x1="186.4" y1="113.8" x2="180.3" y2="101.7" stroke="#1818ff" stroke-width="1.15" stroke-linecap="round"/>
<line x1="180.3" y1="101.7" x2="184.1" y2="91.2" stroke="#1818ff" stroke-width="1.15" stroke-linecap="round"/>
<line x1="185.6" y1="94.08" x2="182.79" y2="101.85" stroke="#1818ff" stroke-width="1.15" stroke-linecap="round"/>
<line x1="194.53" y1="95.35" x2="198.97" y2="104.31" stroke="#1818ff" stroke-width="1.15" stroke-linecap="round"/>
<line x1="196.63" y1="112.45" x2="187.68" y2="111.49" stroke="#1818ff" stroke-width="1.15" stroke-linecap="round"/>
<line x1="195.9" y1="92.5" x2="198.4" y2="86.6" stroke="#1818ff" stroke-width="1.15" stroke-linecap="round"/>
<text x="196.4" y="86" font-size="8.4" fill="#1818ff">Me</text>
<line x1="180.3" y1="101.7" x2="173.3" y2="100.8" stroke="#1818ff" stroke-width="1.15" stroke-linecap="round"/>
<text x="160.6" y="103.4" font-size="8.4" fill="#1818ff">Me</text>
<line x1="198.5" y1="115.1" x2="202" y2="122.4" stroke="#1818ff" stroke-width="1.15" stroke-linecap="round"/>
<text x="200.9" y="131.6" font-size="8.4" fill="#1818ff">Me</text>
<line x1="343.7" y1="70.4" x2="356.5" y2="77.4" stroke="#1818ff" stroke-width="1.15" stroke-linecap="round"/>
<line x1="356.5" y1="77.4" x2="356.5" y2="92.2" stroke="#1818ff" stroke-width="1.15" stroke-linecap="round"/>
<line x1="356.5" y1="92.2" x2="343.7" y2="99.2" stroke="#1818ff" stroke-width="1.15" stroke-linecap="round"/>
<line x1="343.7" y1="99.2" x2="331.7" y2="92.2" stroke="#1818ff" stroke-width="1.15" stroke-linecap="round"/>
<line x1="331.7" y1="92.2" x2="331.7" y2="77.4" stroke="#1818ff" stroke-width="1.15" stroke-linecap="round"/>
<line x1="331.7" y1="77.4" x2="343.7" y2="70.4" stroke="#1818ff" stroke-width="1.15" stroke-linecap="round"/>
<line x1="344.13" y1="73.48" x2="353.6" y2="78.66" stroke="#1818ff" stroke-width="1.15" stroke-linecap="round"/>
<line x1="353.6" y1="90.94" x2="344.13" y2="96.12" stroke="#1818ff" stroke-width="1.15" stroke-linecap="round"/>
<line x1="334.2" y1="90.28" x2="334.2" y2="79.32" stroke="#1818ff" stroke-width="1.15" stroke-linecap="round"/>
<line x1="356.5" y1="77.4" x2="369.5" y2="73.4" stroke="#1818ff" stroke-width="1.15" stroke-linecap="round"/>
<line x1="369.5" y1="73.4" x2="378.3" y2="84.7" stroke="#1818ff" stroke-width="1.15" stroke-linecap="round"/>
<line x1="369.3" y1="73.4" x2="372.1" y2="64.3" stroke="#1818ff" stroke-width="1.15" stroke-linecap="round"/>
<line x1="371.7" y1="73.6" x2="374.5" y2="64.6" stroke="#1818ff" stroke-width="1.15" stroke-linecap="round"/>
<ellipse cx="374.2" cy="60" rx="2.65" ry="2.7" fill="none" stroke="#1818ff" stroke-width="1.0"/>
<line x1="378.3" y1="84.7" x2="392.4" y2="84.7" stroke="#1818ff" stroke-width="1.15" stroke-linecap="round"/>
<line x1="379.7" y1="87.4" x2="391" y2="87.4" stroke="#1818ff" stroke-width="1.15" stroke-linecap="round"/>
<line x1="356.5" y1="92.2" x2="366" y2="95.6" stroke="#1818ff" stroke-width="1.15" stroke-linecap="round"/>
<line x1="378.3" y1="84.7" x2="372.4" y2="93.2" stroke="#1818ff" stroke-width="1.15" stroke-linecap="round"/>
<text x="369.5" y="98.9" font-size="8" text-anchor="middle" fill="#1818ff">P</text>
<line x1="372.6" y1="98.2" x2="375.9" y2="99.4" stroke="#1818ff" stroke-width="1.15" stroke-linecap="round"/>
<text x="376.5" y="103.7" font-size="8.3" fill="#1818ff">OEt</text>
<line x1="367.7" y1="100.2" x2="366.7" y2="105.8" stroke="#1818ff" stroke-width="1.15" stroke-linecap="round"/>
<line x1="370" y1="100.5" x2="369" y2="106.1" stroke="#1818ff" stroke-width="1.15" stroke-linecap="round"/>
<ellipse cx="367" cy="110.4" rx="2.65" ry="2.7" fill="none" stroke="#1818ff" stroke-width="1.0"/>
<line x1="392.4" y1="84.7" x2="402" y2="101.8" stroke="#1818ff" stroke-width="1.15" stroke-linecap="round"/>
<line x1="402" y1="101.8" x2="415.4" y2="101.8" stroke="#1818ff" stroke-width="1.15" stroke-linecap="round"/>
<line x1="415.4" y1="101.8" x2="422.1" y2="113.4" stroke="#1818ff" stroke-width="1.15" stroke-linecap="round"/>
<line x1="422.1" y1="113.4" x2="415.4" y2="125" stroke="#1818ff" stroke-width="1.15" stroke-linecap="round"/>
<line x1="415.4" y1="125" x2="402" y2="125" stroke="#1818ff" stroke-width="1.15" stroke-linecap="round"/>
<line x1="402" y1="125" x2="395.3" y2="113.4" stroke="#1818ff" stroke-width="1.15" stroke-linecap="round"/>
<line x1="395.3" y1="113.4" x2="402" y2="101.8" stroke="#1818ff" stroke-width="1.15" stroke-linecap="round"/>
<line x1="403.29" y1="104.55" x2="398.34" y2="113.14" stroke="#1818ff" stroke-width="1.15" stroke-linecap="round"/>
<line x1="414.11" y1="104.55" x2="419.06" y2="113.14" stroke="#1818ff" stroke-width="1.15" stroke-linecap="round"/>
<line x1="413.66" y1="122.5" x2="403.74" y2="122.5" stroke="#1818ff" stroke-width="1.15" stroke-linecap="round"/>
<line x1="415.4" y1="125" x2="419.8" y2="132.6" stroke="#1818ff" stroke-width="1.15" stroke-linecap="round"/>
<text x="419.4" y="141.5" font-size="8.6" fill="#1818ff">OMe</text>
<line x1="586.5" y1="77.5" x2="599.3" y2="84.5" stroke="#1818ff" stroke-width="1.15" stroke-linecap="round"/>
<line x1="599.3" y1="84.5" x2="599.3" y2="99.3" stroke="#1818ff" stroke-width="1.15" stroke-linecap="round"/>
<line x1="599.3" y1="99.3" x2="586.5" y2="106.3" stroke="#1818ff" stroke-width="1.15" stroke-linecap="round"/>
<line x1="586.5" y1="106.3" x2="574.5" y2="99.3" stroke="#1818ff" stroke-width="1.15" stroke-linecap="round"/>
<line x1="574.5" y1="99.3" x2="574.5" y2="84.5" stroke="#1818ff" stroke-width="1.15" stroke-linecap="round"/>
<line x1="574.5" y1="84.5" x2="586.5" y2="77.5" stroke="#1818ff" stroke-width="1.15" stroke-linecap="round"/>
<line x1="586.93" y1="80.58" x2="596.4" y2="85.76" stroke="#1818ff" stroke-width="1.15" stroke-linecap="round"/>
<line x1="596.4" y1="98.04" x2="586.93" y2="103.22" stroke="#1818ff" stroke-width="1.15" stroke-linecap="round"/>
<line x1="577" y1="97.38" x2="577" y2="86.42" stroke="#1818ff" stroke-width="1.15" stroke-linecap="round"/>
<line x1="599.3" y1="84.5" x2="612.3" y2="80.5" stroke="#1818ff" stroke-width="1.15" stroke-linecap="round"/>
<line x1="612.3" y1="80.5" x2="621.1" y2="91.8" stroke="#1818ff" stroke-width="1.15" stroke-linecap="round"/>
<line x1="612.1" y1="80.5" x2="614.9" y2="71.4" stroke="#1818ff" stroke-width="1.15" stroke-linecap="round"/>
<line x1="614.5" y1="80.7" x2="617.3" y2="71.7" stroke="#1818ff" stroke-width="1.15" stroke-linecap="round"/>
<ellipse cx="617" cy="67.1" rx="2.65" ry="2.7" fill="none" stroke="#1818ff" stroke-width="1.0"/>
<line x1="621.1" y1="91.8" x2="635.2" y2="91.8" stroke="#1818ff" stroke-width="1.15" stroke-linecap="round"/>
<line x1="622.5" y1="94.5" x2="633.8" y2="94.5" stroke="#1818ff" stroke-width="1.15" stroke-linecap="round"/>
<line x1="599.3" y1="99.3" x2="608.8" y2="102.7" stroke="#1818ff" stroke-width="1.15" stroke-linecap="round"/>
<line x1="621.1" y1="91.8" x2="615.2" y2="100.3" stroke="#1818ff" stroke-width="1.15" stroke-linecap="round"/>
<text x="612.3" y="106" font-size="8" text-anchor="middle" fill="#1818ff">P</text>
<line x1="615.4" y1="105.3" x2="618.7" y2="106.5" stroke="#1818ff" stroke-width="1.15" stroke-linecap="round"/>
<text x="619.3" y="110.8" font-size="8.3" fill="#1818ff">OEt</text>
<line x1="610.5" y1="107.3" x2="609.5" y2="112.9" stroke="#1818ff" stroke-width="1.15" stroke-linecap="round"/>
<line x1="612.8" y1="107.6" x2="611.8" y2="113.2" stroke="#1818ff" stroke-width="1.15" stroke-linecap="round"/>
<ellipse cx="609.8" cy="117.5" rx="2.65" ry="2.7" fill="none" stroke="#1818ff" stroke-width="1.0"/>
<line x1="635.2" y1="91.8" x2="644" y2="108.5" stroke="#1818ff" stroke-width="1.15" stroke-linecap="round"/>
<line x1="644" y1="108.5" x2="658.6" y2="109.5" stroke="#1818ff" stroke-width="1.15" stroke-linecap="round"/>
<line x1="645.4" y1="111.4" x2="657.2" y2="112.1" stroke="#1818ff" stroke-width="1.15" stroke-linecap="round"/>
<line x1="658.6" y1="109.5" x2="660.6" y2="120.2" stroke="#1818ff" stroke-width="1.15" stroke-linecap="round"/>
<text x="661.6" y="128" font-size="8.4" text-anchor="middle" fill="#1818ff">N</text>
<line x1="648.8" y1="130.9" x2="658.4" y2="125.6" stroke="#1818ff" stroke-width="1.15" stroke-linecap="round"/>
<line x1="650.1" y1="128" x2="657.2" y2="124.2" stroke="#1818ff" stroke-width="1.15" stroke-linecap="round"/>
<line x1="641" y1="117.3" x2="644" y2="108.5" stroke="#1818ff" stroke-width="1.15" stroke-linecap="round"/>
<line x1="642.2" y1="124.3" x2="648.8" y2="130.9" stroke="#1818ff" stroke-width="1.15" stroke-linecap="round"/>
<text x="641.9" y="125.6" font-size="8.4" text-anchor="end" fill="#1818ff">HN</text>
<polyline points="25,252.37 25.25,252.37 25.5,252.37 25.75,252.36 26,252.36 26.25,252.36 26.5,252.36 26.75,252.36 27,252.35 27.25,252.35 27.5,252.35 27.75,252.34 28,252.34 28.25,252.34 28.5,252.33 28.75,252.33 29,252.32 29.25,252.31 29.5,252.31 29.75,252.3 30,252.29 30.25,252.28 30.5,252.27 30.75,252.25 31,252.24 31.25,252.22 31.5,252.19 31.75,252.17 32,252.14 32.25,252.1 32.5,252.05 32.75,251.98 33,251.9 33.25,251.8 33.5,251.65 33.75,251.45 34,251.12 34.25,250.48 34.5,248.99 34.75,245.65 35,239.48 35.25,231 35.5,224.17 35.6,223.4 35.75,225.08 36,232.75 36.25,240.95 36.5,246.53 36.75,249.4 37,250.65 37.25,251.21 37.5,251.5 37.75,251.69 38,251.82 38.25,251.92 38.5,251.98 38.75,252.04 39,252.08 39.25,252.12 39.5,252.15 39.75,252.18 40,252.2 40.25,252.22 40.5,252.23 40.75,252.24 41,252.25 41.25,252.26 41.5,252.27 41.75,252.28 42,252.28 42.25,252.29 42.5,252.29 42.75,252.29 43,252.29 43.25,252.3 43.5,252.3 43.75,252.3 44,252.3 44.25,252.3 44.5,252.3 44.75,252.3 45,252.29 45.25,252.29 45.5,252.29 45.75,252.28 46,252.28 46.25,252.27 46.5,252.26 46.75,252.25 47,252.24 47.25,252.23 47.5,252.22 47.75,252.2 48,252.18 48.25,252.16 48.5,252.13 48.75,252.09 49,252.05 49.25,251.99 49.5,251.94 49.75,251.84 50,251.72 50.25,251.54 50.5,251.28 50.75,250.8 51,249.74 51.25,247.29 51.5,242.31 51.75,234.51 52,226.28 52.2,223.4 52.25,223.59 52.5,229.3 52.75,237.9 53,244.66 53.25,248.51 53.5,250.28 53.75,251.03 54,251.4 54.25,251.62 54.5,251.77 54.75,251.88 55,251.97 55.25,252.03 55.5,252.09 55.75,252.13 56,252.16 56.25,252.19 56.5,252.21 56.75,252.23 57,252.25 57.25,252.26 57.5,252.28 57.75,252.29 58,252.3 58.25,252.3 58.5,252.31 58.75,252.32 59,252.32 59.25,252.33 59.5,252.33 59.75,252.34 60,252.34 60.25,252.35 60.5,252.35 60.75,252.35 61,252.35 61.25,252.36 61.5,252.36 61.75,252.36 62,252.36 62.25,252.37 62.5,252.37 62.75,252.37 63,252.37 63.25,252.37 63.5,252.37 63.75,252.37 64,252.37 64.25,252.38 64.5,252.38 64.75,252.38 65,252.38 65.25,252.38 65.5,252.38 65.75,252.38 66,252.4 66.25,252.4 66.5,252.4 66.75,252.4 67,252.4 67.25,252.4 67.5,252.4 67.75,252.4 68,252.4 68.25,252.4 68.5,252.4 68.75,252.4 69,252.4 69.25,252.4 69.5,252.4 69.75,252.4 70,252.4 70.25,252.4 70.5,252.4 70.75,252.4 71,252.4 71.25,252.4 71.5,252.4 71.75,252.4 72,252.4 72.25,252.4 72.5,252.4 72.75,252.4 73,252.4 73.25,252.4 73.5,252.4 73.75,252.4 74,252.4 74.25,252.4 74.5,252.4 74.75,252.4 75,252.4 75.25,252.4 75.5,252.4 75.75,252.4 76,252.4 76.25,252.4 76.5,252.4 76.75,252.4 77,252.4 77.25,252.4 77.5,252.4 77.75,252.4 78,252.4 78.25,252.4 78.5,252.4 78.75,252.4 79,252.4 79.25,252.4 79.5,252.4 79.75,252.4 80,252.4 80.25,252.4 80.5,252.4 80.75,252.4 81,252.4 81.25,252.4 81.5,252.4 81.75,252.4 82,252.4 82.25,252.4 82.5,252.4 82.75,252.4 83,252.4 83.25,252.4 83.5,252.4 83.75,252.4 84,252.4 84.25,252.4 84.5,252.4 84.75,252.4 85,252.4 85.25,252.4 85.5,252.4 85.75,252.4 86,252.4 86.25,252.4 86.5,252.4 86.75,252.4 87,252.4 87.25,252.4 87.5,252.4 87.75,252.4 88,252.4 88.25,252.4 88.5,252.4 88.75,252.4 89,252.4 89.25,252.4 89.5,252.4 89.75,252.4 90,252.4 90.25,252.4 90.5,252.4 90.75,252.4 91,252.4 91.25,252.4 91.5,252.4 91.75,252.4 92,252.4 92.25,252.4 92.5,252.4 92.75,252.4 93,252.4 93.25,252.4 93.5,252.4 93.75,252.4 94,252.4 94.25,252.4 94.5,252.4 94.75,252.4 95,252.4 95.25,252.4 95.5,252.4 95.75,252.4 96,252.4 96.25,252.4 96.5,252.4 96.75,252.4 97,252.4 97.25,252.4 97.5,252.4 97.75,252.4 98,252.4 98.25,252.4 98.5,252.4 98.75,252.4 99,252.4 99.25,252.4 99.5,252.4 99.75,252.4 100,252.4 100.25,252.4 100.5,252.4 100.75,252.4 101,252.4 101.25,252.4 101.5,252.4 101.75,252.4 102,252.4 102.25,252.4 102.5,252.4 102.75,252.4 103,252.4 103.25,252.4 103.5,252.4 103.75,252.4 104,252.4 104.25,252.4 104.5,252.4 104.75,252.4 105,252.4 105.25,252.4 105.5,252.4 105.75,252.4 106,252.4 106.25,252.4 106.5,252.4 106.75,252.4 107,252.4 107.25,252.4 107.5,252.4 107.75,252.4 108,252.4 108.25,252.4 108.5,252.4 108.75,252.4 109,252.4 109.25,252.4 109.5,252.4 109.75,252.4 110,252.4 110.25,252.4 110.5,252.4 110.75,252.4 111,252.4 111.25,252.4 111.5,252.4 111.75,252.4 112,252.4 112.25,252.4 112.5,252.4 112.75,252.4 113,252.4 113.25,252.4 113.5,252.4 113.75,252.4 114,252.4 114.25,252.4 114.5,252.4 114.75,252.4 115,252.4 115.25,252.4 115.5,252.4 115.75,252.4 116,252.4 116.25,252.4 116.5,252.4 116.75,252.4 117,252.4 117.25,252.4 117.5,252.4 117.75,252.4 118,252.4 118.25,252.4 118.5,252.4 118.75,252.4 119,252.4 119.25,252.4 119.5,252.4 119.75,252.4 120,252.4 120.25,252.4 120.5,252.4 120.75,252.4 121,252.4 121.25,252.4 121.5,252.4 121.75,252.4 122,252.4 122.25,252.4 122.5,252.4 122.75,252.4 123,252.4 123.25,252.4 123.5,252.4 123.75,252.39 124,252.39 124.25,252.39 124.5,252.39 124.75,252.39 125,252.39 125.25,252.38 125.5,252.38 125.75,252.38 126,252.38 126.25,252.38 126.5,252.38 126.75,252.37 127,252.36 127.25,252.36 127.5,252.36 127.75,252.36 128,252.36 128.25,252.35 128.5,252.34 128.75,252.34 129,252.34 129.25,252.33 129.5,252.33 129.75,252.33 130,252.32 130.25,252.32 130.5,252.31 130.75,252.31 131,252.3 131.25,252.29 131.5,252.29 131.75,252.28 132,252.27 132.25,252.26 132.5,252.25 132.75,252.23 133,252.22 133.25,252.2 133.5,252.18 133.75,252.16 134,252.13 134.25,252.09 134.5,252.05 134.75,252 135,251.93 135.25,251.85 135.5,251.74 135.75,251.57 136,251.27 136.25,250.64 136.5,249.24 136.75,246.57 137,242.64 137.25,238.9 137.4,237.95 137.5,238.15 137.75,240.64 138,243.12 138.25,243.45 138.5,241.75 138.75,240.18 138.8,240.13 139,241.09 139.25,243.42 139.5,244.56 139.75,242.99 140,238.89 140.25,234.52 140.4,233.5 140.5,233.89 140.75,237.48 141,241.19 141.25,242.1 141.5,239.92 141.75,236.88 141.9,236.3 142,236.83 142.25,240.59 142.5,245.11 142.75,248.41 143,250.22 143.25,251.05 143.5,251.43 143.75,251.63 144,251.77 144.25,251.87 144.5,251.95 144.75,252.01 145,252.06 145.25,252.1 145.5,252.13 145.75,252.16 146,252.18 146.25,252.2 146.5,252.22 146.75,252.23 147,252.25 147.25,252.26 147.5,252.27 147.75,252.28 148,252.29 148.25,252.29 148.5,252.3 148.75,252.31 149,252.31 149.25,252.32 149.5,252.32 149.75,252.33 150,252.33 150.25,252.33 150.5,252.34 150.75,252.34 151,252.34 151.25,252.35 151.5,252.36 151.75,252.36 152,252.36 152.25,252.36 152.5,252.36 152.75,252.37 153,252.37 153.25,252.37 153.5,252.37 153.75,252.38 154,252.38 154.25,252.39 154.5,252.39 154.75,252.39 155,252.39 155.25,252.39 155.5,252.39 155.75,252.4 156,252.4 156.25,252.4 156.5,252.4 156.75,252.4 157,252.4 157.25,252.4 157.5,252.4 157.75,252.4 158,252.4 158.25,252.4 158.5,252.4 158.75,252.4 159,252.4 159.25,252.4 159.5,252.4 159.75,252.4 160,252.4 160.25,252.4 160.5,252.4 160.75,252.4 161,252.4 161.25,252.4 161.5,252.4 161.75,252.4 162,252.4 162.25,252.4 162.5,252.4 162.75,252.4 163,252.4 163.25,252.4 163.5,252.4 163.75,252.4 164,252.4 164.25,252.4 164.5,252.4 164.75,252.4 165,252.4 165.25,252.4 165.5,252.4 165.75,252.4 166,252.4 166.25,252.4 166.5,252.4 166.75,252.4 167,252.4 167.25,252.4 167.5,252.4 167.75,252.4 168,252.4 168.25,252.4 168.5,252.4 168.75,252.4 169,252.4 169.25,252.4 169.5,252.4 169.75,252.4 170,252.4 170.25,252.4 170.5,252.4 170.75,252.4 171,252.4 171.25,252.4 171.5,252.4 171.75,252.4 172,252.4 172.25,252.4 172.5,252.4 172.75,252.4 173,252.4 173.25,252.4 173.5,252.4 173.75,252.4 174,252.4 174.25,252.4 174.5,252.4 174.75,252.4 175,252.4 175.25,252.4 175.5,252.4 175.75,252.4 176,252.4 176.25,252.4 176.5,252.4 176.75,252.4 177,252.4 177.25,252.4 177.5,252.4 177.75,252.4 178,252.4 178.25,252.4 178.5,252.4 178.75,252.4 179,252.4 179.25,252.4 179.5,252.4 179.75,252.4 180,252.4 180.25,252.4 180.5,252.4 180.75,252.4 181,252.4 181.25,252.4 181.5,252.4 181.75,252.4 182,252.4 182.25,252.4 182.5,252.4 182.75,252.4 183,252.4 183.25,252.4 183.5,252.4 183.75,252.4 184,252.4 184.25,252.4 184.5,252.4 184.75,252.4 185,252.4 185.25,252.4 185.5,252.4 185.75,252.4 186,252.4 186.25,252.4 186.5,252.4 186.75,252.4 187,252.4 187.25,252.4 187.5,252.4 187.75,252.4 188,252.4 188.25,252.4 188.5,252.4 188.75,252.4 189,252.4 189.25,252.4 189.5,252.4 189.75,252.4 190,252.4 190.25,252.4 190.5,252.4 190.75,252.4 191,252.4 191.25,252.4 191.5,252.4 191.75,252.4 192,252.4 192.25,252.4 192.5,252.4 192.75,252.4 193,252.4 193.25,252.4 193.5,252.4 193.75,252.4 194,252.4 194.25,252.4 194.5,252.4 194.75,252.4 195,252.4 195.25,252.4 195.5,252.4 195.75,252.4 196,252.4 196.25,252.4 196.5,252.4 196.75,252.4 197,252.4 197.25,252.4 197.5,252.4 197.75,252.4 198,252.4 198.25,252.4 198.5,252.4 198.75,252.4 199,252.4 199.25,252.4 199.5,252.4 199.75,252.4 200,252.4 200.25,252.4 200.5,252.4 200.75,252.4 201,252.4 201.25,252.4 201.5,252.4 201.75,252.39 202,252.39 202.25,252.39 202.5,252.39 202.75,252.39 203,252.39 203.25,252.39 203.5,252.39 203.75,252.39 204,252.39 204.25,252.38 204.5,252.37 204.75,252.37 205,252.37 205.25,252.37 205.5,252.37 205.75,252.37 206,252.37 206.25,252.36 206.5,252.36 206.75,252.35 207,252.35 207.25,252.34 207.5,252.34 207.75,252.34 208,252.33 208.25,252.33 208.5,252.32 208.75,252.32 209,252.31 209.25,252.31 209.5,252.3 209.75,252.29 210,252.27 210.25,252.26 210.5,252.25 210.75,252.24 211,252.23 211.25,252.21 211.5,252.19 211.75,252.17 212,252.14 212.25,252.1 212.5,252.06 212.75,252.01 213,251.94 213.25,251.85 213.5,251.72 213.75,251.51 214,251.1 214.25,250.16 214.5,248.12 214.75,244.55 215,240.01 215.25,236.98 215.3,236.86 215.5,238.33 215.75,242.59 216,246.59 216.25,249.09 216.5,250.22 216.75,250.5 217,250.18 217.25,249.02 217.5,246.52 217.75,242.53 218,238.27 218.2,236.69 218.25,236.75 218.5,239.33 218.75,243.09 219,245.54 219.25,246.16 219.4,245.86 219.5,245.44 219.75,243.41 220,239.91 220.25,236.39 220.4,235.7 220.5,236.19 220.75,239.87 221,244.15 221.25,246.78 221.5,247.26 221.75,246.24 222,245.03 222.1,244.87 222.25,245.1 222.5,246.07 222.75,246.19 223,244.33 223.25,240.74 223.5,237.62 223.6,237.31 223.75,238.23 224,242.16 224.25,246.32 224.5,249.16 224.75,250.63 225,251.29 225.25,251.59 225.5,251.76 225.75,251.87 226,251.95 226.25,252.02 226.5,252.07 226.75,252.11 227,252.14 227.25,252.16 227.5,252.19 227.75,252.21 228,252.22 228.25,252.24 228.5,252.25 228.75,252.26 229,252.27 229.25,252.29 229.5,252.3 229.75,252.3 230,252.31 230.25,252.32 230.5,252.32 230.75,252.33 231,252.33 231.25,252.33 231.5,252.34 231.75,252.34 232,252.35 232.25,252.35 232.5,252.36 232.75,252.36 233,252.36 233.25,252.36 233.5,252.37 233.75,252.37 234,252.37 234.25,252.38 234.5,252.38 234.75,252.38 235,252.38 235.25,252.38 235.5,252.38 235.75,252.38 236,252.39 236.25,252.39 236.5,252.39 236.75,252.39 237,252.39 237.25,252.39 237.5,252.4 237.75,252.4 238,252.4 238.25,252.4 238.5,252.4 238.75,252.4 239,252.4 239.25,252.4 239.5,252.4 239.75,252.4 240,252.4 240.25,252.4 240.5,252.4" fill="none" stroke="#1e1e1e" stroke-width="1" stroke-linejoin="round"/>
<polyline points="25,305.69 25.25,305.69 25.5,305.69 25.75,305.69 26,305.69 26.25,305.69 26.5,305.69 26.75,305.69 27,305.69 27.25,305.69 27.5,305.69 27.75,305.69 28,305.69 28.25,305.69 28.5,305.69 28.75,305.69 29,305.68 29.25,305.68 29.5,305.68 29.75,305.68 30,305.68 30.25,305.68 30.5,305.67 30.75,305.67 31,305.67 31.25,305.67 31.5,305.66 31.75,305.66 32,305.65 32.25,305.64 32.5,305.63 32.75,305.62 33,305.61 33.25,305.59 33.5,305.56 33.75,305.52 34,305.46 34.25,305.34 34.5,305.05 34.75,304.42 35,303.25 35.25,301.64 35.5,300.35 35.6,300.2 35.75,300.52 36,301.97 36.25,303.53 36.5,304.59 36.75,305.13 37,305.37 37.25,305.47 37.5,305.53 37.75,305.56 38,305.59 38.25,305.61 38.5,305.62 38.75,305.63 39,305.64 39.25,305.65 39.5,305.65 39.75,305.66 40,305.66 40.25,305.66 40.5,305.67 40.75,305.67 41,305.67 41.25,305.67 41.5,305.68 41.75,305.68 42,305.68 42.25,305.68 42.5,305.68 42.75,305.68 43,305.68 43.25,305.68 43.5,305.68 43.75,305.68 44,305.68 44.25,305.68 44.5,305.68 44.75,305.68 45,305.68 45.25,305.68 45.5,305.68 45.75,305.68 46,305.68 46.25,305.67 46.5,305.67 46.75,305.67 47,305.67 47.25,305.67 47.5,305.66 47.75,305.66 48,305.66 48.25,305.65 48.5,305.65 48.75,305.64 49,305.63 49.25,305.62 49.5,305.61 49.75,305.59 50,305.56 50.25,305.52 50.5,305.46 50.75,305.34 51,305.05 51.25,304.42 51.5,303.25 51.75,301.64 52,300.35 52.1,300.2 52.25,300.52 52.5,301.97 52.75,303.53 53,304.59 53.25,305.13 53.5,305.37 53.75,305.47 54,305.53 54.25,305.56 54.5,305.59 54.75,305.61 55,305.62 55.25,305.63 55.5,305.64 55.75,305.65 56,305.66 56.25,305.66 56.5,305.67 56.75,305.67 57,305.67 57.25,305.68 57.5,305.68 57.75,305.68 58,305.68 58.25,305.68 58.5,305.68 58.75,305.69 59,305.69 59.25,305.69 59.5,305.69 59.75,305.69 60,305.69 60.25,305.69 60.5,305.69 60.75,305.69 61,305.69 61.25,305.69 61.5,305.69 61.75,305.69 62,305.69 62.25,305.69 62.5,305.69 62.75,305.69 63,305.69 63.25,305.69 63.5,305.69 63.75,305.7 64,305.7 64.25,305.7 64.5,305.7 64.75,305.7 65,305.7 65.25,305.7 65.5,305.7 65.75,305.7 66,305.7 66.25,305.7 66.5,305.7 66.75,305.7 67,305.7 67.25,305.7 67.5,305.7 67.75,305.7 68,305.7 68.25,305.7 68.5,305.7 68.75,305.7 69,305.7 69.25,305.7 69.5,305.7 69.75,305.7 70,305.7 70.25,305.7 70.5,305.7 70.75,305.7 71,305.7 71.25,305.7 71.5,305.7 71.75,305.7 72,305.7 72.25,305.7 72.5,305.7 72.75,305.7 73,305.7 73.25,305.7 73.5,305.7 73.75,305.7 74,305.7 74.25,305.7 74.5,305.7 74.75,305.7 75,305.7 75.25,305.7 75.5,305.7 75.75,305.7 76,305.7 76.25,305.7 76.5,305.7 76.75,305.7 77,305.7 77.25,305.7 77.5,305.7 77.75,305.7 78,305.7 78.25,305.7 78.5,305.7 78.75,305.7 79,305.7 79.25,305.7 79.5,305.7 79.75,305.7 80,305.7 80.25,305.7 80.5,305.7 80.75,305.7 81,305.7 81.25,305.7 81.5,305.7 81.75,305.7 82,305.7 82.25,305.7 82.5,305.7 82.75,305.7 83,305.7 83.25,305.7 83.5,305.7 83.75,305.7 84,305.7 84.25,305.7 84.5,305.7 84.75,305.7 85,305.7 85.25,305.7 85.5,305.7 85.75,305.7 86,305.7 86.25,305.7 86.5,305.7 86.75,305.7 87,305.7 87.25,305.7 87.5,305.7 87.75,305.7 88,305.7 88.25,305.7 88.5,305.7 88.75,305.7 89,305.7 89.25,305.7 89.5,305.7 89.75,305.7 90,305.7 90.25,305.7 90.5,305.7 90.75,305.7 91,305.7 91.25,305.7 91.5,305.7 91.75,305.7 92,305.7 92.25,305.7 92.5,305.7 92.75,305.7 93,305.7 93.25,305.7 93.5,305.7 93.75,305.7 94,305.7 94.25,305.7 94.5,305.7 94.75,305.7 95,305.7 95.25,305.7 95.5,305.7 95.75,305.7 96,305.7 96.25,305.7 96.5,305.7 96.75,305.7 97,305.7 97.25,305.7 97.5,305.7 97.75,305.7 98,305.7 98.25,305.7 98.5,305.7 98.75,305.7 99,305.7 99.25,305.7 99.5,305.7 99.75,305.7 100,305.7 100.25,305.7 100.5,305.7 100.75,305.7 101,305.7 101.25,305.7 101.5,305.7 101.75,305.7 102,305.7 102.25,305.7 102.5,305.7 102.75,305.7 103,305.7 103.25,305.7 103.5,305.7 103.75,305.7 104,305.7 104.25,305.7 104.5,305.7 104.75,305.7 105,305.7 105.25,305.7 105.5,305.7 105.75,305.7 106,305.7 106.25,305.7 106.5,305.7 106.75,305.7 107,305.7 107.25,305.7 107.5,305.7 107.75,305.7 108,305.7 108.25,305.7 108.5,305.7 108.75,305.7 109,305.7 109.25,305.7 109.5,305.7 109.75,305.7 110,305.7 110.25,305.7 110.5,305.7 110.75,305.7 111,305.7 111.25,305.7 111.5,305.7 111.75,305.7 112,305.7 112.25,305.7 112.5,305.7 112.75,305.7 113,305.7 113.25,305.7 113.5,305.7 113.75,305.7 114,305.7 114.25,305.7 114.5,305.7 114.75,305.7 115,305.7 115.25,305.7 115.5,305.7 115.75,305.7 116,305.7 116.25,305.7 116.5,305.7 116.75,305.7 117,305.7 117.25,305.7 117.5,305.7 117.75,305.7 118,305.7 118.25,305.7 118.5,305.7 118.75,305.7 119,305.7 119.25,305.7 119.5,305.7 119.75,305.7 120,305.7 120.25,305.7 120.5,305.7 120.75,305.7 121,305.7 121.25,305.7 121.5,305.7 121.75,305.7 122,305.7 122.25,305.7 122.5,305.7 122.75,305.7 123,305.7 123.25,305.7 123.5,305.7 123.75,305.7 124,305.7 124.25,305.7 124.5,305.7 124.75,305.7 125,305.7 125.25,305.7 125.5,305.7 125.75,305.7 126,305.7 126.25,305.7 126.5,305.7 126.75,305.7 127,305.7 127.25,305.7 127.5,305.7 127.75,305.69 128,305.69 128.25,305.69 128.5,305.69 128.75,305.69 129,305.69 129.25,305.69 129.5,305.69 129.75,305.69 130,305.69 130.25,305.69 130.5,305.69 130.75,305.69 131,305.69 131.25,305.69 131.5,305.69 131.75,305.69 132,305.68 132.25,305.68 132.5,305.68 132.75,305.68 133,305.68 133.25,305.68 133.5,305.68 133.75,305.67 134,305.67 134.25,305.67 134.5,305.66 134.75,305.66 135,305.66 135.25,305.65 135.5,305.64 135.75,305.64 136,305.62 136.25,305.61 136.5,305.59 136.75,305.57 137,305.53 137.25,305.45 137.5,305.27 137.75,304.91 138,304.31 138.25,303.6 138.5,303.2 138.75,303.44 139,303.89 139.25,304.01 139.5,303.58 139.75,302.85 140,302.43 140.25,302.83 140.5,303.54 140.75,303.92 141,303.73 141.25,303.18 141.5,302.89 141.75,303.33 142,304.12 142.25,304.79 142.5,305.2 142.75,305.4 143,305.48 143.25,305.52 143.5,305.55 143.75,305.57 144,305.58 144.25,305.59 144.5,305.59 144.75,305.6 145,305.6 145.25,305.6 145.5,305.6 145.75,305.6 146,305.6 146.25,305.59 146.5,305.59 146.75,305.58 147,305.56 147.25,305.55 147.5,305.54 147.75,305.52 148,305.51 148.25,305.49 148.5,305.46 148.75,305.43 149,305.39 149.25,305.34 149.5,305.28 149.75,305.2 150,305.09 150.25,304.93 150.5,304.67 150.75,304.17 151,303.02 151.25,300.42 151.5,295.63 151.75,289.05 152,283.74 152.1,283.15 152.25,284.45 152.5,290.4 152.75,296.75 153,301.07 153.25,303.3 153.5,304.27 153.75,304.69 154,304.92 154.25,305.05 154.5,305.15 154.75,305.22 155,305.27 155.25,305.3 155.5,305.32 155.75,305.34 156,305.35 156.25,305.35 156.5,305.35 156.75,305.34 157,305.32 157.25,305.3 157.5,305.27 157.75,305.23 158,305.17 158.25,305.1 158.5,305 158.75,304.86 159,304.64 159.25,304.26 159.5,303.42 159.75,301.46 160,297.51 160.25,291.31 160.5,284.77 160.7,282.48 160.75,282.63 161,287.14 161.25,293.94 161.5,299.28 161.75,302.3 162,303.67 162.25,304.22 162.5,304.46 162.75,304.56 163,304.59 163.25,304.55 163.5,304.4 163.75,304.04 164,303.15 164.25,301.29 164.5,298.17 164.75,294.49 165,292.38 165.25,293.43 165.5,295.38 165.75,295.65 166,293.97 166.25,292.39 166.3,292.36 166.5,293.47 166.75,296.1 167,297.57 167.25,296.62 167.5,293.81 167.75,291.6 167.8,291.51 168,292.52 168.25,295.18 168.5,296.59 168.75,295.62 169,293.3 169.2,292.33 169.25,292.38 169.5,294.05 169.75,295.86 170,295.74 170.25,293.96 170.5,293 170.75,295.06 171,298.62 171.25,301.64 171.5,303.47 171.75,304.36 172,304.77 172.25,304.97 172.5,305.1 172.75,305.2 173,305.27 173.25,305.32 173.5,305.37 173.75,305.4 174,305.43 174.25,305.46 174.5,305.5 174.75,305.51 175,305.53 175.25,305.54 175.5,305.56 175.75,305.57 176,305.58 176.25,305.58 176.5,305.59 176.75,305.6 177,305.6 177.25,305.61 177.5,305.62 177.75,305.62 178,305.62 178.25,305.63 178.5,305.63 178.75,305.64 179,305.65 179.25,305.64 179.5,305.64 179.75,305.64 180,305.65 180.25,305.65 180.5,305.66 180.75,305.66 181,305.66 181.25,305.66 181.5,305.66 181.75,305.67 182,305.67 182.25,305.67 182.5,305.66 182.75,305.66 183,305.67 183.25,305.67 183.5,305.66 183.75,305.66 184,305.66 184.25,305.66 184.5,305.66 184.75,305.66 185,305.65 185.25,305.65 185.5,305.65 185.75,305.65 186,305.64 186.25,305.64 186.5,305.63 186.75,305.63 187,305.63 187.25,305.62 187.5,305.61 187.75,305.61 188,305.59 188.25,305.58 188.5,305.57 188.75,305.56 189,305.54 189.25,305.53 189.5,305.5 189.75,305.48 190,305.45 190.25,305.41 190.5,305.36 190.75,305.3 191,305.21 191.25,305.07 191.5,304.82 191.75,304.27 192,303.02 192.25,300.6 192.5,297.05 192.75,293.71 192.9,292.97 193,293.29 193.25,296.2 193.5,299.81 193.75,302.42 194,303.79 194.25,304.33 194.5,304.47 194.75,304.36 195,303.91 195.25,302.76 195.5,300.37 195.75,296.59 196,292.58 196.2,291.14 196.25,291.22 196.5,293.85 196.75,297.74 197,300.39 197.25,300.87 197.5,299.17 197.75,296.02 198,293.36 198.1,293.09 198.25,293.83 198.5,297.06 198.75,300.49 199,302.81 199.25,303.99 199.5,304.47 199.75,304.64 200,304.66 200.25,304.53 200.5,304.11 200.75,303.02 201,300.74 201.25,297.14 201.5,293.34 201.7,292.01 201.75,292.11 202,294.78 202.25,298.8 202.5,301.96 202.75,303.77 203,304.6 203.25,304.96 203.5,305.14 203.75,305.25 204,305.32 204.25,305.38 204.5,305.42 204.75,305.46 205,305.49 205.25,305.51 205.5,305.53 205.75,305.54 206,305.56 206.25,305.57 206.5,305.58 206.75,305.59 207,305.6 207.25,305.61 207.5,305.61 207.75,305.62 208,305.62 208.25,305.62 208.5,305.63 208.75,305.63 209,305.63 209.25,305.63 209.5,305.64 209.75,305.64 210,305.64 210.25,305.64 210.5,305.64 210.75,305.64 211,305.64 211.25,305.64 211.5,305.64 211.75,305.63 212,305.64 212.25,305.63 212.5,305.62 212.75,305.61 213,305.6 213.25,305.58 213.5,305.54 213.75,305.46 214,305.29 214.25,304.92 214.5,304.31 214.75,303.6 215,303.24 215.25,303.59 215.5,304.29 215.75,304.88 216,305.23 216.25,305.38 216.5,305.41 216.75,305.35 217,305.17 217.25,304.75 217.5,304.05 217.75,303.23 218,302.81 218.25,303.22 218.5,304.03 218.75,304.71 219,305.1 219.25,305.21 219.5,305.1 219.75,304.71 220,304.03 220.25,303.22 220.5,302.81 220.75,303.23 221,304.05 221.25,304.75 221.5,305.17 221.75,305.35 222,305.41 222.25,305.38 222.5,305.23 222.75,304.88 223,304.29 223.25,303.6 223.5,303.25 223.75,303.61 224,304.32 224.25,304.93 224.5,305.3 224.75,305.48 225,305.55 225.25,305.59 225.5,305.61 225.75,305.63 226,305.64 226.25,305.65 226.5,305.65 226.75,305.66 227,305.66 227.25,305.67 227.5,305.67 227.75,305.67 228,305.67 228.25,305.68 228.5,305.68 228.75,305.68 229,305.68 229.25,305.68 229.5,305.69 229.75,305.69 230,305.69 230.25,305.69 230.5,305.69 230.75,305.69 231,305.69 231.25,305.69 231.5,305.69 231.75,305.69 232,305.69 232.25,305.69 232.5,305.69 232.75,305.69 233,305.69 233.25,305.69 233.5,305.7 233.75,305.7 234,305.7 234.25,305.7 234.5,305.7 234.75,305.7 235,305.7 235.25,305.7 235.5,305.7 235.75,305.7 236,305.7 236.25,305.7 236.5,305.7 236.75,305.7 237,305.7 237.25,305.7 237.5,305.7 237.75,305.7 238,305.7 238.25,305.7 238.5,305.7 238.75,305.7 239,305.7 239.25,305.7 239.5,305.7 239.75,305.7 240,305.7 240.25,305.7 240.5,305.7" fill="none" stroke="#1e1e1e" stroke-width="1" stroke-linejoin="round"/>
<polyline points="25,358.77 25.25,358.77 25.5,358.77 25.75,358.77 26,358.77 26.25,358.76 26.5,358.76 26.75,358.76 27,358.76 27.25,358.75 27.5,358.75 27.75,358.75 28,358.74 28.25,358.74 28.5,358.74 28.75,358.73 29,358.73 29.25,358.72 29.5,358.71 29.75,358.71 30,358.7 30.25,358.69 30.5,358.67 30.75,358.66 31,358.64 31.25,358.62 31.5,358.6 31.75,358.57 32,358.54 32.25,358.49 32.5,358.44 32.75,358.37 33,358.27 33.25,358.14 33.5,357.96 33.75,357.65 34,357.01 34.25,355.53 34.5,352.29 34.75,346.6 35,339.37 35.25,334.56 35.3,334.4 35.5,336.82 35.75,343.75 36,350.31 36.25,354.5 36.5,356.57 36.75,357.45 37,357.86 37.25,358.08 37.5,358.23 37.75,358.33 38,358.41 38.25,358.47 38.5,358.52 38.75,358.54 39,358.57 39.25,358.6 39.5,358.62 39.75,358.63 40,358.65 40.25,358.66 40.5,358.67 40.75,358.68 41,358.69 41.25,358.69 41.5,358.7 41.75,358.7 42,358.71 42.25,358.71 42.5,358.71 42.75,358.72 43,358.72 43.25,358.72 43.5,358.72 43.75,358.72 44,358.72 44.25,358.72 44.5,358.72 44.75,358.72 45,358.72 45.25,358.71 45.5,358.71 45.75,358.71 46,358.7 46.25,358.7 46.5,358.69 46.75,358.69 47,358.68 47.25,358.67 47.5,358.66 47.75,358.65 48,358.63 48.25,358.61 48.5,358.59 48.75,358.57 49,358.54 49.25,358.51 49.5,358.46 49.75,358.4 50,358.31 50.25,358.2 50.5,358.04 50.75,357.8 51,357.33 51.25,356.28 51.5,353.86 51.75,349.17 52,342.27 52.25,335.81 52.4,334.4 52.5,335.04 52.75,340.8 53,347.93 53.25,353.12 53.5,355.93 53.75,357.19 54,357.73 54.25,358 54.5,358.17 54.75,358.29 55,358.38 55.25,358.45 55.5,358.5 55.75,358.54 56,358.58 56.25,358.6 56.5,358.63 56.75,358.65 57,358.66 57.25,358.68 57.5,358.69 57.75,358.7 58,358.71 58.25,358.71 58.5,358.72 58.75,358.73 59,358.73 59.25,358.74 59.5,358.74 59.75,358.75 60,358.75 60.25,358.75 60.5,358.76 60.75,358.76 61,358.76 61.25,358.76 61.5,358.76 61.75,358.77 62,358.77 62.25,358.77 62.5,358.77 62.75,358.77 63,358.77 63.25,358.77 63.5,358.78 63.75,358.78 64,358.78 64.25,358.78 64.5,358.78 64.75,358.78 65,358.78 65.25,358.78 65.5,358.78 65.75,358.78 66,358.78 66.25,358.8 66.5,358.8 66.75,358.8 67,358.8 67.25,358.8 67.5,358.8 67.75,358.8 68,358.8 68.25,358.8 68.5,358.8 68.75,358.8 69,358.8 69.25,358.8 69.5,358.8 69.75,358.8 70,358.8 70.25,358.8 70.5,358.8 70.75,358.8 71,358.8 71.25,358.8 71.5,358.8 71.75,358.8 72,358.8 72.25,358.8 72.5,358.8 72.75,358.8 73,358.8 73.25,358.8 73.5,358.8 73.75,358.8 74,358.8 74.25,358.8 74.5,358.8 74.75,358.8 75,358.8 75.25,358.8 75.5,358.8 75.75,358.8 76,358.8 76.25,358.8 76.5,358.8 76.75,358.8 77,358.8 77.25,358.8 77.5,358.8 77.75,358.8 78,358.8 78.25,358.8 78.5,358.8 78.75,358.8 79,358.8 79.25,358.8 79.5,358.8 79.75,358.8 80,358.8 80.25,358.8 80.5,358.8 80.75,358.8 81,358.8 81.25,358.8 81.5,358.8 81.75,358.8 82,358.8 82.25,358.8 82.5,358.8 82.75,358.8 83,358.8 83.25,358.8 83.5,358.8 83.75,358.8 84,358.8 84.25,358.8 84.5,358.8 84.75,358.8 85,358.8 85.25,358.8 85.5,358.8 85.75,358.8 86,358.8 86.25,358.8 86.5,358.8 86.75,358.8 87,358.8 87.25,358.8 87.5,358.8 87.75,358.8 88,358.8 88.25,358.8 88.5,358.8 88.75,358.8 89,358.8 89.25,358.8 89.5,358.8 89.75,358.8 90,358.8 90.25,358.8 90.5,358.8 90.75,358.8 91,358.8 91.25,358.8 91.5,358.8 91.75,358.8 92,358.8 92.25,358.8 92.5,358.8 92.75,358.8 93,358.8 93.25,358.8 93.5,358.8 93.75,358.8 94,358.8 94.25,358.8 94.5,358.8 94.75,358.8 95,358.8 95.25,358.8 95.5,358.8 95.75,358.8 96,358.8 96.25,358.8 96.5,358.8 96.75,358.8 97,358.8 97.25,358.8 97.5,358.8 97.75,358.8 98,358.8 98.25,358.8 98.5,358.8 98.75,358.8 99,358.8 99.25,358.8 99.5,358.8 99.75,358.8 100,358.8 100.25,358.8 100.5,358.8 100.75,358.8 101,358.8 101.25,358.8 101.5,358.8 101.75,358.8 102,358.8 102.25,358.8 102.5,358.8 102.75,358.8 103,358.8 103.25,358.8 103.5,358.8 103.75,358.8 104,358.8 104.25,358.8 104.5,358.8 104.75,358.8 105,358.8 105.25,358.8 105.5,358.8 105.75,358.8 106,358.8 106.25,358.8 106.5,358.8 106.75,358.8 107,358.8 107.25,358.8 107.5,358.8 107.75,358.8 108,358.8 108.25,358.8 108.5,358.8 108.75,358.8 109,358.8 109.25,358.8 109.5,358.8 109.75,358.8 110,358.8 110.25,358.8 110.5,358.8 110.75,358.8 111,358.8 111.25,358.8 111.5,358.8 111.75,358.8 112,358.8 112.25,358.8 112.5,358.8 112.75,358.8 113,358.8 113.25,358.8 113.5,358.8 113.75,358.8 114,358.8 114.25,358.8 114.5,358.8 114.75,358.8 115,358.8 115.25,358.8 115.5,358.8 115.75,358.8 116,358.8 116.25,358.8 116.5,358.8 116.75,358.8 117,358.8 117.25,358.8 117.5,358.8 117.75,358.8 118,358.8 118.25,358.8 118.5,358.8 118.75,358.8 119,358.8 119.25,358.8 119.5,358.8 119.75,358.8 120,358.8 120.25,358.8 120.5,358.8 120.75,358.8 121,358.8 121.25,358.8 121.5,358.8 121.75,358.8 122,358.8 122.25,358.8 122.5,358.8 122.75,358.8 123,358.8 123.25,358.8 123.5,358.8 123.75,358.79 124,358.79 124.25,358.79 124.5,358.79 124.75,358.79 125,358.79 125.25,358.78 125.5,358.78 125.75,358.78 126,358.78 126.25,358.78 126.5,358.78 126.75,358.76 127,358.76 127.25,358.76 127.5,358.76 127.75,358.76 128,358.75 128.25,358.74 128.5,358.74 128.75,358.74 129,358.73 129.25,358.73 129.5,358.73 129.75,358.72 130,358.72 130.25,358.71 130.5,358.71 130.75,358.7 131,358.7 131.25,358.69 131.5,358.68 131.75,358.67 132,358.66 132.25,358.65 132.5,358.64 132.75,358.63 133,358.61 133.25,358.59 133.5,358.57 133.75,358.54 134,358.51 134.25,358.48 134.5,358.43 134.75,358.38 135,358.31 135.25,358.22 135.5,358.1 135.75,357.93 136,357.62 136.25,356.95 136.5,355.48 136.75,352.67 137,348.55 137.25,344.62 137.4,343.63 137.5,343.84 137.75,346.45 138,349.05 138.25,349.4 138.5,347.62 138.75,345.97 138.8,345.92 139,346.92 139.25,349.37 139.5,350.56 139.75,348.92 140,344.61 140.25,340.03 140.4,338.95 140.5,339.36 140.75,343.14 141,347.03 141.25,347.98 141.5,345.69 141.75,342.51 141.9,341.9 142,342.45 142.25,346.4 142.5,351.15 142.75,354.61 143,356.51 143.25,357.38 143.5,357.78 143.75,358 144,358.14 144.25,358.25 144.5,358.33 144.75,358.39 145,358.44 145.25,358.48 145.5,358.52 145.75,358.55 146,358.57 146.25,358.59 146.5,358.61 146.75,358.62 147,358.64 147.25,358.65 147.5,358.66 147.75,358.67 148,358.68 148.25,358.69 148.5,358.69 148.75,358.7 149,358.71 149.25,358.71 149.5,358.72 149.75,358.72 150,358.73 150.25,358.73 150.5,358.73 150.75,358.74 151,358.74 151.25,358.75 151.5,358.75 151.75,358.76 152,358.76 152.25,358.76 152.5,358.76 152.75,358.77 153,358.77 153.25,358.77 153.5,358.77 153.75,358.77 154,358.78 154.25,358.79 154.5,358.79 154.75,358.79 155,358.79 155.25,358.79 155.5,358.79 155.75,358.8 156,358.8 156.25,358.8 156.5,358.8 156.75,358.8 157,358.8 157.25,358.8 157.5,358.8 157.75,358.8 158,358.8 158.25,358.8 158.5,358.8 158.75,358.8 159,358.8 159.25,358.8 159.5,358.8 159.75,358.8 160,358.8 160.25,358.8 160.5,358.8 160.75,358.8 161,358.8 161.25,358.8 161.5,358.8 161.75,358.8 162,358.8 162.25,358.8 162.5,358.8 162.75,358.8 163,358.8 163.25,358.8 163.5,358.8 163.75,358.8 164,358.8 164.25,358.8 164.5,358.8 164.75,358.8 165,358.8 165.25,358.8 165.5,358.8 165.75,358.8 166,358.8 166.25,358.8 166.5,358.8 166.75,358.8 167,358.8 167.25,358.8 167.5,358.8 167.75,358.8 168,358.8 168.25,358.8 168.5,358.8 168.75,358.8 169,358.8 169.25,358.8 169.5,358.8 169.75,358.8 170,358.8 170.25,358.8 170.5,358.8 170.75,358.8 171,358.8 171.25,358.8 171.5,358.8 171.75,358.8 172,358.8 172.25,358.8 172.5,358.8 172.75,358.8 173,358.8 173.25,358.8 173.5,358.8 173.75,358.8 174,358.8 174.25,358.8 174.5,358.8 174.75,358.8 175,358.8 175.25,358.8 175.5,358.8 175.75,358.8 176,358.8 176.25,358.8 176.5,358.8 176.75,358.8 177,358.8 177.25,358.8 177.5,358.8 177.75,358.8 178,358.8 178.25,358.8 178.5,358.8 178.75,358.8 179,358.8 179.25,358.8 179.5,358.8 179.75,358.8 180,358.8 180.25,358.8 180.5,358.8 180.75,358.8 181,358.8 181.25,358.8 181.5,358.8 181.75,358.8 182,358.8 182.25,358.8 182.5,358.8 182.75,358.8 183,358.8 183.25,358.8 183.5,358.8 183.75,358.8 184,358.8 184.25,358.8 184.5,358.8 184.75,358.8 185,358.8 185.25,358.8 185.5,358.8 185.75,358.8 186,358.8 186.25,358.8 186.5,358.8 186.75,358.8 187,358.8 187.25,358.8 187.5,358.8 187.75,358.8 188,358.8 188.25,358.8 188.5,358.8 188.75,358.8 189,358.8 189.25,358.8 189.5,358.8 189.75,358.8 190,358.8 190.25,358.8 190.5,358.8 190.75,358.8 191,358.8 191.25,358.8 191.5,358.8 191.75,358.8 192,358.8 192.25,358.8 192.5,358.8 192.75,358.8 193,358.8 193.25,358.8 193.5,358.8 193.75,358.8 194,358.8 194.25,358.8 194.5,358.8 194.75,358.8 195,358.8 195.25,358.8 195.5,358.8 195.75,358.8 196,358.8 196.25,358.8 196.5,358.8 196.75,358.8 197,358.8 197.25,358.8 197.5,358.8 197.75,358.8 198,358.8 198.25,358.8 198.5,358.8 198.75,358.8 199,358.8 199.25,358.8 199.5,358.8 199.75,358.8 200,358.8 200.25,358.8 200.5,358.8 200.75,358.8 201,358.8 201.25,358.8 201.5,358.8 201.75,358.79 202,358.79 202.25,358.79 202.5,358.79 202.75,358.79 203,358.79 203.25,358.79 203.5,358.79 203.75,358.79 204,358.78 204.25,358.78 204.5,358.77 204.75,358.77 205,358.77 205.25,358.77 205.5,358.77 205.75,358.76 206,358.76 206.25,358.76 206.5,358.76 206.75,358.75 207,358.74 207.25,358.74 207.5,358.74 207.75,358.73 208,358.73 208.25,358.72 208.5,358.72 208.75,358.71 209,358.7 209.25,358.7 209.5,358.69 209.75,358.68 210,358.66 210.25,358.65 210.5,358.64 210.75,358.63 211,358.61 211.25,358.59 211.5,358.57 211.75,358.55 212,358.52 212.25,358.48 212.5,358.43 212.75,358.38 213,358.3 213.25,358.2 213.5,358.07 213.75,357.84 214,357.4 214.25,356.38 214.5,354.17 214.75,350.32 215,345.42 215.25,342.14 215.3,342.02 215.5,343.61 215.75,348.2 216,352.53 216.25,355.23 216.5,356.45 216.75,356.75 217,356.4 217.25,355.15 217.5,352.45 217.75,348.14 218,343.54 218.2,341.83 218.25,341.89 218.5,344.68 218.75,348.74 219,351.39 219.25,352.06 219.4,351.74 219.5,351.28 219.75,349.09 220,345.31 220.25,341.51 220.4,340.76 220.5,341.29 220.75,345.27 221,349.89 221.25,352.73 221.5,353.25 221.75,352.15 222,350.84 222.1,350.67 222.25,350.92 222.5,351.97 222.75,352.09 223,350.08 223.25,346.21 223.5,342.84 223.6,342.51 223.75,343.5 224,347.74 224.25,352.23 224.5,355.3 224.75,356.89 225,357.6 225.25,357.93 225.5,358.11 225.75,358.23 226,358.32 226.25,358.38 226.5,358.44 226.75,358.48 227,358.52 227.25,358.55 227.5,358.57 227.75,358.59 228,358.61 228.25,358.63 228.5,358.64 228.75,358.65 229,358.66 229.25,358.68 229.5,358.69 229.75,358.7 230,358.7 230.25,358.71 230.5,358.71 230.75,358.72 231,358.72 231.25,358.73 231.5,358.73 231.75,358.73 232,358.75 232.25,358.75 232.5,358.75 232.75,358.76 233,358.76 233.25,358.76 233.5,358.76 233.75,358.76 234,358.77 234.25,358.78 234.5,358.78 234.75,358.78 235,358.78 235.25,358.78 235.5,358.78 235.75,358.78 236,358.79 236.25,358.79 236.5,358.79 236.75,358.79 237,358.79 237.25,358.79 237.5,358.8 237.75,358.8 238,358.8 238.25,358.8 238.5,358.8 238.75,358.8 239,358.8 239.25,358.8 239.5,358.8 239.75,358.8 240,358.8 240.25,358.8 240.5,358.8" fill="none" stroke="#1e1e1e" stroke-width="1" stroke-linejoin="round"/>
<rect x="148.1" y="219.1" width="27.6" height="141.1" fill="rgba(255,40,40,0.33)"/>
<rect x="189.3" y="219.1" width="15.9" height="141.1" fill="rgba(255,40,40,0.33)"/>
<polyline points="249.2,252.3 249.45,252.3 249.7,252.3 249.95,252.3 250.2,252.3 250.45,252.3 250.7,252.3 250.95,252.3 251.2,252.3 251.45,252.3 251.7,252.3 251.95,252.3 252.2,252.3 252.45,252.3 252.7,252.3 252.95,252.3 253.2,252.3 253.45,252.3 253.7,252.3 253.95,252.3 254.2,252.3 254.45,252.3 254.7,252.3 254.95,252.3 255.2,252.3 255.45,252.3 255.7,252.3 255.95,252.3 256.2,252.3 256.45,252.3 256.7,252.3 256.95,252.3 257.2,252.3 257.45,252.3 257.7,252.3 257.95,252.3 258.2,252.3 258.45,252.3 258.7,252.3 258.95,252.3 259.2,252.3 259.45,252.3 259.7,252.3 259.95,252.3 260.2,252.3 260.45,252.3 260.7,252.3 260.95,252.3 261.2,252.3 261.45,252.3 261.7,252.3 261.95,252.3 262.2,252.3 262.45,252.3 262.7,252.3 262.95,252.3 263.2,252.3 263.45,252.3 263.7,252.3 263.95,252.3 264.2,252.3 264.45,252.3 264.7,252.3 264.95,252.3 265.2,252.3 265.45,252.3 265.7,252.3 265.95,252.3 266.2,252.3 266.45,252.3 266.7,252.3 266.95,252.3 267.2,252.29 267.45,252.29 267.7,252.29 267.95,252.29 268.2,252.29 268.45,252.29 268.7,252.29 268.95,252.28 269.2,252.28 269.45,252.28 269.7,252.28 269.95,252.28 270.2,252.28 270.45,252.28 270.7,252.28 270.95,252.28 271.2,252.28 271.45,252.28 271.7,252.27 271.95,252.27 272.2,252.27 272.45,252.27 272.7,252.27 272.95,252.26 273.2,252.26 273.45,252.26 273.7,252.26 273.95,252.25 274.2,252.25 274.45,252.25 274.7,252.24 274.95,252.24 275.2,252.23 275.45,252.23 275.7,252.22 275.95,252.21 276.2,252.2 276.45,252.19 276.7,252.18 276.95,252.16 277.2,252.14 277.45,252.12 277.7,252.09 277.95,252.05 278.2,252.01 278.45,251.95 278.7,251.87 278.95,251.76 279.2,251.59 279.45,251.28 279.7,250.61 279.95,249.06 280.2,245.9 280.45,240.95 280.7,235.73 280.9,233.9 280.95,234.02 281.2,237.64 281.45,243.1 281.7,247.39 281.95,249.83 282.2,250.95 282.45,251.43 282.7,251.66 282.95,251.81 283.2,251.9 283.45,251.97 283.7,252.01 283.95,252.06 284.2,252.09 284.45,252.11 284.7,252.13 284.95,252.15 285.2,252.17 285.45,252.18 285.7,252.19 285.95,252.2 286.2,252.2 286.45,252.21 286.7,252.21 286.95,252.22 287.2,252.22 287.45,252.23 287.7,252.23 287.95,252.23 288.2,252.23 288.45,252.23 288.7,252.23 288.95,252.23 289.2,252.23 289.45,252.23 289.7,252.23 289.95,252.23 290.2,252.23 290.45,252.23 290.7,252.23 290.95,252.22 291.2,252.22 291.45,252.22 291.7,252.21 291.95,252.2 292.2,252.2 292.45,252.19 292.7,252.18 292.95,252.17 293.2,252.16 293.45,252.14 293.7,252.12 293.95,252.09 294.2,252.06 294.45,252.02 294.7,251.98 294.95,251.92 295.2,251.83 295.45,251.7 295.7,251.49 295.95,251.08 296.2,250.14 296.45,248.02 296.7,244.1 296.95,238.72 297.2,234.39 297.3,233.9 297.45,234.96 297.7,239.83 297.95,245.04 298.2,248.57 298.45,250.4 298.7,251.19 298.95,251.54 299.2,251.73 299.45,251.85 299.7,251.93 299.95,252 300.2,252.04 300.45,252.08 300.7,252.11 300.95,252.14 301.2,252.16 301.45,252.17 301.7,252.19 301.95,252.2 302.2,252.21 302.45,252.22 302.7,252.22 302.95,252.23 303.2,252.24 303.45,252.24 303.7,252.25 303.95,252.25 304.2,252.25 304.45,252.26 304.7,252.26 304.95,252.26 305.2,252.26 305.45,252.27 305.7,252.27 305.95,252.27 306.2,252.27 306.45,252.27 306.7,252.27 306.95,252.28 307.2,252.28 307.45,252.28 307.7,252.28 307.95,252.28 308.2,252.28 308.45,252.28 308.7,252.28 308.95,252.28 309.2,252.28 309.45,252.28 309.7,252.29 309.95,252.29 310.2,252.29 310.45,252.29 310.7,252.29 310.95,252.29 311.2,252.3 311.45,252.3 311.7,252.3 311.95,252.3 312.2,252.3 312.45,252.3 312.7,252.3 312.95,252.3 313.2,252.3 313.45,252.3 313.7,252.3 313.95,252.3 314.2,252.3 314.45,252.3 314.7,252.3 314.95,252.3 315.2,252.3 315.45,252.3 315.7,252.3 315.95,252.3 316.2,252.3 316.45,252.3 316.7,252.3 316.95,252.3 317.2,252.3 317.45,252.3 317.7,252.3 317.95,252.3 318.2,252.3 318.45,252.28 318.7,252.28 318.95,252.28 319.2,252.28 319.45,252.28 319.7,252.28 319.95,252.28 320.2,252.27 320.45,252.27 320.7,252.27 320.95,252.27 321.2,252.27 321.45,252.27 321.7,252.27 321.95,252.26 322.2,252.26 322.45,252.24 322.7,252.24 322.95,252.24 323.2,252.23 323.45,252.23 323.7,252.22 323.95,252.22 324.2,252.22 324.45,252.21 324.7,252.21 324.95,252.2 325.2,252.19 325.45,252.19 325.7,252.18 325.95,252.17 326.2,252.16 326.45,252.15 326.7,252.13 326.95,252.12 327.2,252.1 327.45,252.08 327.7,252.06 327.95,252.03 328.2,252 328.45,251.96 328.7,251.91 328.95,251.86 329.2,251.79 329.45,251.69 329.7,251.57 329.95,251.41 330.2,251.18 330.45,250.79 330.7,250.01 330.95,248.2 331.2,244.26 331.45,237.34 331.7,228.55 331.95,222.7 332,222.49 332.2,225.41 332.45,233.78 332.7,241.71 332.95,246.74 333.2,249.19 333.45,250.2 333.7,250.59 333.95,250.74 334.2,250.75 334.45,250.62 334.7,250.28 334.95,249.42 335.2,247.29 335.45,242.73 335.7,235.1 335.95,226.19 336.2,221.7 336.45,226.24 336.7,235.2 336.95,242.88 337.2,247.5 337.45,249.7 337.7,250.64 337.95,251.09 338.2,251.35 338.45,251.53 338.7,251.66 338.95,251.76 339.2,251.84 339.45,251.9 339.7,251.95 339.95,251.99 340.2,252.02 340.45,252.05 340.7,252.07 340.95,252.09 341.2,252.11 341.45,252.13 341.7,252.14 341.95,252.15 342.2,252.16 342.45,252.17 342.7,252.18 342.95,252.19 343.2,252.2 343.45,252.2 343.7,252.21 343.95,252.21 344.2,252.22 344.45,252.22 344.7,252.23 344.95,252.23 345.2,252.23 345.45,252.24 345.7,252.24 345.95,252.26 346.2,252.26 346.45,252.27 346.7,252.27 346.95,252.27 347.2,252.27 347.45,252.27 347.7,252.27 347.95,252.27 348.2,252.27 348.45,252.28 348.7,252.28 348.95,252.28 349.2,252.28 349.45,252.28 349.7,252.28 349.95,252.28 350.2,252.3 350.45,252.3 350.7,252.3 350.95,252.3 351.2,252.3 351.45,252.3 351.7,252.3 351.95,252.3 352.2,252.3 352.45,252.3 352.7,252.3 352.95,252.3 353.2,252.3 353.45,252.3 353.7,252.29 353.95,252.29 354.2,252.29 354.45,252.29 354.7,252.29 354.95,252.29 355.2,252.28 355.45,252.28 355.7,252.28 355.95,252.28 356.2,252.28 356.45,252.27 356.7,252.27 356.95,252.27 357.2,252.27 357.45,252.26 357.7,252.26 357.95,252.26 358.2,252.25 358.45,252.25 358.7,252.24 358.95,252.24 359.2,252.23 359.45,252.22 359.7,252.22 359.95,252.2 360.2,252.19 360.45,252.17 360.7,252.15 360.95,252.12 361.2,252.08 361.45,252.01 361.7,251.87 361.95,251.5 362.2,250.58 362.45,248.93 362.7,247.32 362.8,247.11 362.95,247.5 363.2,249.17 363.45,250.57 363.7,251.12 363.95,250.82 364.2,249.62 364.45,247.74 364.7,246.59 364.95,247.62 365.2,249.26 365.45,249.88 365.7,248.96 365.95,246.97 366.2,245.68 366.45,246.74 366.7,248.24 366.95,248.12 367.2,246.16 367.45,244.23 367.5,244.13 367.7,244.88 367.95,246.53 368.2,246.85 368.45,246.47 368.5,246.53 368.7,247.5 368.95,249.44 369.2,250.88 369.45,251.57 369.7,251.85 369.95,251.97 370.2,252.04 370.45,252.09 370.7,252.12 370.95,252.15 371.2,252.17 371.45,252.18 371.7,252.2 371.95,252.21 372.2,252.22 372.45,252.23 372.7,252.23 372.95,252.24 373.2,252.24 373.45,252.25 373.7,252.25 373.95,252.26 374.2,252.26 374.45,252.26 374.7,252.27 374.95,252.27 375.2,252.27 375.45,252.27 375.7,252.27 375.95,252.28 376.2,252.28 376.45,252.28 376.7,252.28 376.95,252.28 377.2,252.28 377.45,252.29 377.7,252.29 377.95,252.29 378.2,252.29 378.45,252.29 378.7,252.29 378.95,252.3 379.2,252.3 379.45,252.3 379.7,252.3 379.95,252.3 380.2,252.3 380.45,252.3 380.7,252.3 380.95,252.3 381.2,252.3 381.45,252.3 381.7,252.3 381.95,252.3 382.2,252.3 382.45,252.3 382.7,252.3 382.95,252.3 383.2,252.3 383.45,252.3 383.7,252.3 383.95,252.3 384.2,252.3 384.45,252.3 384.7,252.3 384.95,252.3 385.2,252.3 385.45,252.3 385.7,252.3 385.95,252.3 386.2,252.3 386.45,252.3 386.7,252.3 386.95,252.3 387.2,252.3 387.45,252.3 387.7,252.3 387.95,252.3 388.2,252.3 388.45,252.3 388.7,252.3 388.95,252.3 389.2,252.3 389.45,252.3 389.7,252.3 389.95,252.3 390.2,252.3 390.45,252.3 390.7,252.3 390.95,252.3 391.2,252.3 391.45,252.3 391.7,252.3 391.95,252.3 392.2,252.3 392.45,252.3 392.7,252.3 392.95,252.3 393.2,252.3 393.45,252.3 393.7,252.3 393.95,252.3 394.2,252.3 394.45,252.3 394.7,252.3 394.95,252.3 395.2,252.3 395.45,252.3 395.7,252.3 395.95,252.3 396.2,252.3 396.45,252.3 396.7,252.3 396.95,252.3 397.2,252.3 397.45,252.3 397.7,252.3 397.95,252.3 398.2,252.3 398.45,252.3 398.7,252.3 398.95,252.3 399.2,252.3 399.45,252.3 399.7,252.3 399.95,252.3 400.2,252.3 400.45,252.3 400.7,252.3 400.95,252.3 401.2,252.3 401.45,252.3 401.7,252.3 401.95,252.3 402.2,252.3 402.45,252.3 402.7,252.3 402.95,252.3 403.2,252.3 403.45,252.3 403.7,252.3 403.95,252.3 404.2,252.3 404.45,252.3 404.7,252.3 404.95,252.3 405.2,252.3 405.45,252.3 405.7,252.3 405.95,252.3 406.2,252.3 406.45,252.3 406.7,252.3 406.95,252.3 407.2,252.3 407.45,252.3 407.7,252.3 407.95,252.3 408.2,252.3 408.45,252.3 408.7,252.3 408.95,252.3 409.2,252.3 409.45,252.3 409.7,252.3 409.95,252.3 410.2,252.3 410.45,252.3 410.7,252.3 410.95,252.3 411.2,252.3 411.45,252.3 411.7,252.3 411.95,252.3 412.2,252.3 412.45,252.3 412.7,252.3 412.95,252.3 413.2,252.3 413.45,252.3 413.7,252.3 413.95,252.3 414.2,252.3 414.45,252.3 414.7,252.3 414.95,252.3 415.2,252.3 415.45,252.3 415.7,252.3 415.95,252.3 416.2,252.3 416.45,252.3 416.7,252.3 416.95,252.3 417.2,252.3 417.45,252.3 417.7,252.3 417.95,252.3 418.2,252.3 418.45,252.3 418.7,252.3 418.95,252.3 419.2,252.3 419.45,252.3 419.7,252.3 419.95,252.3 420.2,252.3 420.45,252.3 420.7,252.3 420.95,252.3 421.2,252.3 421.45,252.29 421.7,252.29 421.95,252.29 422.2,252.29 422.45,252.29 422.7,252.29 422.95,252.29 423.2,252.29 423.45,252.29 423.7,252.28 423.95,252.28 424.2,252.28 424.45,252.28 424.7,252.28 424.95,252.27 425.2,252.27 425.45,252.27 425.7,252.27 425.95,252.27 426.2,252.26 426.45,252.26 426.7,252.25 426.95,252.25 427.2,252.24 427.45,252.24 427.7,252.23 427.95,252.22 428.2,252.21 428.45,252.2 428.7,252.18 428.95,252.16 429.2,252.14 429.45,252.1 429.7,252.06 429.95,251.99 430.2,251.86 430.45,251.54 430.7,250.7 430.95,248.94 431.2,246.61 431.4,245.64 431.45,245.68 431.7,247.24 431.95,248.96 432.2,249.38 432.45,248.87 432.6,248.73 432.7,248.88 432.95,249.83 433.2,250.64 433.45,250.67 433.7,249.67 433.95,247.95 434.2,246.89 434.45,247.88 434.7,249.45 434.95,250.06 435.2,249.24 435.45,247.41 435.7,246.28 435.95,247.45 436.2,249.38 436.45,250.54 436.7,250.56 436.95,249.38 437.2,247.18 437.45,245.4 437.5,245.33 437.7,246.23 437.95,248.4 438.2,249.65 438.45,249.53 438.7,248.88 438.8,248.81 438.95,249.11 439.2,250.17 439.45,251.01 439.7,251.22 439.95,250.69 440.2,249.33 440.45,247.72 440.6,247.34 440.7,247.54 440.95,249.08 441.2,250.66 441.45,251.54 441.7,251.89 441.95,252.03 442.2,252.09 442.45,252.13 442.7,252.16 442.95,252.18 443.2,252.2 443.45,252.21 443.7,252.22 443.95,252.23 444.2,252.24 444.45,252.25 444.7,252.25 444.95,252.25 445.2,252.26 445.45,252.26 445.7,252.27 445.95,252.27 446.2,252.27 446.45,252.27 446.7,252.28 446.95,252.28 447.2,252.28 447.45,252.28 447.7,252.28 447.95,252.29 448.2,252.29 448.45,252.29 448.7,252.29 448.95,252.29 449.2,252.29 449.45,252.29 449.7,252.29 449.95,252.29 450.2,252.3 450.45,252.3 450.7,252.3 450.95,252.3 451.2,252.3 451.45,252.3 451.7,252.3 451.95,252.3 452.2,252.3 452.45,252.3 452.7,252.3 452.95,252.3 453.2,252.3 453.45,252.3 453.7,252.3 453.95,252.3 454.2,252.3 454.45,252.3 454.7,252.3 454.95,252.3 455.2,252.3 455.45,252.3 455.7,252.3 455.95,252.3 456.2,252.3 456.45,252.3 456.7,252.3 456.95,252.3 457.2,252.3 457.45,252.3 457.7,252.3 457.95,252.3 458.2,252.3 458.45,252.3 458.7,252.3 458.95,252.3 459.2,252.3 459.45,252.3 459.7,252.3 459.95,252.3 460.2,252.3 460.45,252.3 460.7,252.3 460.95,252.3 461.2,252.3 461.45,252.3 461.7,252.3" fill="none" stroke="#1e1e1e" stroke-width="1" stroke-linejoin="round"/>
<polyline points="249.2,305.4 249.45,305.4 249.7,305.4 249.95,305.4 250.2,305.4 250.45,305.4 250.7,305.4 250.95,305.4 251.2,305.4 251.45,305.4 251.7,305.4 251.95,305.4 252.2,305.4 252.45,305.4 252.7,305.4 252.95,305.4 253.2,305.4 253.45,305.4 253.7,305.4 253.95,305.4 254.2,305.4 254.45,305.4 254.7,305.4 254.95,305.4 255.2,305.4 255.45,305.4 255.7,305.4 255.95,305.4 256.2,305.4 256.45,305.4 256.7,305.4 256.95,305.4 257.2,305.4 257.45,305.4 257.7,305.4 257.95,305.4 258.2,305.4 258.45,305.4 258.7,305.4 258.95,305.4 259.2,305.4 259.45,305.4 259.7,305.4 259.95,305.4 260.2,305.4 260.45,305.4 260.7,305.4 260.95,305.4 261.2,305.4 261.45,305.4 261.7,305.4 261.95,305.4 262.2,305.4 262.45,305.4 262.7,305.4 262.95,305.4 263.2,305.4 263.45,305.4 263.7,305.4 263.95,305.4 264.2,305.4 264.45,305.4 264.7,305.4 264.95,305.4 265.2,305.4 265.45,305.4 265.7,305.4 265.95,305.4 266.2,305.4 266.45,305.4 266.7,305.4 266.95,305.4 267.2,305.4 267.45,305.4 267.7,305.4 267.95,305.4 268.2,305.39 268.45,305.39 268.7,305.39 268.95,305.39 269.2,305.39 269.45,305.39 269.7,305.39 269.95,305.39 270.2,305.39 270.45,305.39 270.7,305.39 270.95,305.39 271.2,305.39 271.45,305.39 271.7,305.39 271.95,305.39 272.2,305.39 272.45,305.39 272.7,305.39 272.95,305.39 273.2,305.38 273.45,305.38 273.7,305.38 273.95,305.38 274.2,305.38 274.45,305.38 274.7,305.38 274.95,305.37 275.2,305.37 275.45,305.37 275.7,305.36 275.95,305.36 276.2,305.35 276.45,305.35 276.7,305.34 276.95,305.33 277.2,305.32 277.45,305.31 277.7,305.29 277.95,305.27 278.2,305.24 278.45,305.19 278.7,305.12 278.95,304.98 279.2,304.66 279.45,303.93 279.7,302.58 279.95,300.74 280.2,299.25 280.3,299.09 280.45,299.45 280.7,301.12 280.95,302.9 281.2,304.11 281.45,304.73 281.7,305 281.95,305.12 282.2,305.18 282.45,305.22 282.7,305.25 282.95,305.27 283.2,305.29 283.45,305.3 283.7,305.3 283.95,305.3 284.2,305.31 284.45,305.31 284.7,305.31 284.95,305.31 285.2,305.31 285.45,305.31 285.7,305.31 285.95,305.31 286.2,305.31 286.45,305.31 286.7,305.3 286.95,305.3 287.2,305.3 287.45,305.29 287.7,305.28 287.95,305.28 288.2,305.27 288.45,305.26 288.7,305.24 288.95,305.23 289.2,305.21 289.45,305.19 289.7,305.17 289.95,305.14 290.2,305.11 290.45,305.06 290.7,305.01 290.95,304.93 291.2,304.84 291.45,304.7 291.7,304.48 291.95,304.05 292.2,303.08 292.45,300.9 292.7,296.89 292.95,291.38 293.2,286.93 293.3,286.42 293.45,287.5 293.7,292.45 293.95,297.73 294.2,301.31 294.45,303.13 294.7,303.88 294.95,304.15 295.2,304.23 295.45,304.19 295.7,304.02 295.95,303.58 296.2,302.46 296.45,299.87 296.7,295.05 296.95,288.41 297.2,283.05 297.3,282.46 297.45,283.79 297.7,289.84 297.95,296.29 298.2,300.69 298.45,302.96 298.7,303.95 298.95,304.39 299.2,304.63 299.45,304.78 299.7,304.89 299.95,304.97 300.2,305.03 300.45,305.08 300.7,305.12 300.95,305.16 301.2,305.18 301.45,305.21 301.7,305.23 301.95,305.24 302.2,305.26 302.45,305.27 302.7,305.28 302.95,305.29 303.2,305.3 303.45,305.3 303.7,305.31 303.95,305.32 304.2,305.32 304.45,305.33 304.7,305.33 304.95,305.33 305.2,305.34 305.45,305.34 305.7,305.34 305.95,305.35 306.2,305.35 306.45,305.35 306.7,305.35 306.95,305.36 307.2,305.37 307.45,305.37 307.7,305.37 307.95,305.37 308.2,305.37 308.45,305.38 308.7,305.38 308.95,305.38 309.2,305.38 309.45,305.38 309.7,305.38 309.95,305.38 310.2,305.38 310.45,305.38 310.7,305.38 310.95,305.38 311.2,305.4 311.45,305.4 311.7,305.4 311.95,305.4 312.2,305.4 312.45,305.4 312.7,305.4 312.95,305.4 313.2,305.4 313.45,305.4 313.7,305.4 313.95,305.4 314.2,305.4 314.45,305.4 314.7,305.4 314.95,305.4 315.2,305.4 315.45,305.4 315.7,305.4 315.95,305.4 316.2,305.4 316.45,305.4 316.7,305.4 316.95,305.4 317.2,305.4 317.45,305.4 317.7,305.4 317.95,305.4 318.2,305.39 318.45,305.39 318.7,305.39 318.95,305.39 319.2,305.39 319.45,305.39 319.7,305.39 319.95,305.39 320.2,305.39 320.45,305.39 320.7,305.39 320.95,305.38 321.2,305.38 321.45,305.38 321.7,305.38 321.95,305.38 322.2,305.37 322.45,305.37 322.7,305.37 322.95,305.37 323.2,305.37 323.45,305.37 323.7,305.37 323.95,305.37 324.2,305.36 324.45,305.36 324.7,305.36 324.95,305.36 325.2,305.35 325.45,305.35 325.7,305.35 325.95,305.34 326.2,305.34 326.45,305.34 326.7,305.33 326.95,305.32 327.2,305.32 327.45,305.31 327.7,305.3 327.95,305.29 328.2,305.27 328.45,305.26 328.7,305.24 328.95,305.21 329.2,305.18 329.45,305.14 329.7,305.08 329.95,305 330.2,304.88 330.45,304.64 330.7,304.08 330.95,302.83 331.2,300.52 331.45,297.36 331.7,294.81 331.8,294.52 331.95,295.14 332.2,297.98 332.45,301.02 332.7,303.08 332.95,304.13 333.2,304.57 333.45,304.74 333.7,304.8 333.95,304.81 334.2,304.76 334.45,304.62 334.7,304.25 334.95,303.36 335.2,301.52 335.45,298.63 335.7,295.58 335.9,294.52 335.95,294.59 336.2,296.72 336.45,299.93 336.7,302.46 336.95,303.89 337.2,304.56 337.45,304.84 337.7,304.98 337.95,305.07 338.2,305.13 338.45,305.17 338.7,305.2 338.95,305.23 339.2,305.25 339.45,305.27 339.7,305.28 339.95,305.29 340.2,305.3 340.45,305.31 340.7,305.32 340.95,305.32 341.2,305.33 341.45,305.33 341.7,305.34 341.95,305.34 342.2,305.34 342.45,305.35 342.7,305.35 342.95,305.35 343.2,305.35 343.45,305.36 343.7,305.36 343.95,305.36 344.2,305.36 344.45,305.36 344.7,305.36 344.95,305.36 345.2,305.36 345.45,305.36 345.7,305.37 345.95,305.37 346.2,305.37 346.45,305.37 346.7,305.37 346.95,305.37 347.2,305.37 347.45,305.37 347.7,305.37 347.95,305.37 348.2,305.37 348.45,305.37 348.7,305.37 348.95,305.37 349.2,305.37 349.45,305.37 349.7,305.38 349.95,305.38 350.2,305.38 350.45,305.38 350.7,305.38 350.95,305.38 351.2,305.38 351.45,305.38 351.7,305.38 351.95,305.38 352.2,305.38 352.45,305.37 352.7,305.37 352.95,305.37 353.2,305.37 353.45,305.37 353.7,305.37 353.95,305.37 354.2,305.37 354.45,305.37 354.7,305.37 354.95,305.37 355.2,305.36 355.45,305.36 355.7,305.36 355.95,305.36 356.2,305.36 356.45,305.36 356.7,305.36 356.95,305.35 357.2,305.35 357.45,305.35 357.7,305.35 357.95,305.34 358.2,305.34 358.45,305.34 358.7,305.33 358.95,305.33 359.2,305.32 359.45,305.32 359.7,305.31 359.95,305.31 360.2,305.3 360.45,305.29 360.7,305.27 360.95,305.26 361.2,305.24 361.45,305.21 361.7,305.17 361.95,305.07 362.2,304.68 362.45,303.83 362.6,303.52 362.7,303.63 362.95,304.29 363.2,304.01 363.45,302.67 363.5,302.59 363.7,303.44 363.95,304.35 364.2,303.72 364.4,303.05 364.45,303.1 364.7,304.03 364.95,303.96 365.2,302.46 365.3,302.14 365.45,302.72 365.7,303.95 365.95,303.54 366.2,302.53 366.45,303.42 366.7,303.69 366.95,302.19 367.1,301.47 367.2,301.79 367.45,303.34 367.7,303.23 367.95,301.93 368,301.84 368.2,302.61 368.45,303.29 368.7,301.89 368.9,300.62 368.95,300.72 369.2,302.58 369.45,302.94 369.7,301.42 369.8,301.09 369.95,301.72 370,302.07 370.2,302.95 370.45,301.78 370.7,299.74 370.95,301.79 371.2,302.89 371.45,301.35 371.6,300.59 371.7,300.99 371.95,302.81 372.2,302.18 372.45,299.54 372.5,299.39 372.7,301.17 372.95,303.07 373.2,301.85 373.4,300.53 373.45,300.66 373.7,302.79 373.95,302.97 374.2,300.49 374.3,299.98 374.45,301.1 374.7,303.46 374.95,303.09 375.2,301.76 375.45,303.31 375.7,304.27 375.95,303.67 376.1,303.36 376.2,303.58 376.45,304.59 376.7,304.98 376.95,305.08 377.2,305.13 377.45,305.16 377.7,305.19 377.95,305.21 378.2,305.23 378.45,305.25 378.7,305.26 378.95,305.28 379.2,305.29 379.45,305.29 379.7,305.3 379.95,305.31 380.2,305.32 380.45,305.32 380.7,305.33 380.95,305.33 381.2,305.33 381.45,305.34 381.7,305.34 381.95,305.34 382.2,305.35 382.45,305.35 382.7,305.35 382.95,305.35 383.2,305.35 383.45,305.36 383.7,305.36 383.95,305.36 384.2,305.36 384.45,305.36 384.7,305.36 384.95,305.36 385.2,305.36 385.45,305.37 385.7,305.37 385.95,305.37 386.2,305.37 386.45,305.37 386.7,305.37 386.95,305.37 387.2,305.37 387.45,305.37 387.7,305.37 387.95,305.37 388.2,305.37 388.45,305.37 388.7,305.37 388.95,305.37 389.2,305.37 389.45,305.37 389.7,305.38 389.95,305.38 390.2,305.38 390.45,305.38 390.7,305.38 390.95,305.38 391.2,305.38 391.45,305.38 391.7,305.38 391.95,305.38 392.2,305.38 392.45,305.38 392.7,305.38 392.95,305.38 393.2,305.38 393.45,305.38 393.7,305.38 393.95,305.38 394.2,305.38 394.45,305.38 394.7,305.38 394.95,305.38 395.2,305.38 395.45,305.38 395.7,305.38 395.95,305.38 396.2,305.38 396.45,305.38 396.7,305.38 396.95,305.38 397.2,305.38 397.45,305.38 397.7,305.38 397.95,305.38 398.2,305.38 398.45,305.38 398.7,305.38 398.95,305.38 399.2,305.38 399.45,305.38 399.7,305.38 399.95,305.38 400.2,305.38 400.45,305.38 400.7,305.38 400.95,305.38 401.2,305.38 401.45,305.38 401.7,305.38 401.95,305.38 402.2,305.38 402.45,305.38 402.7,305.38 402.95,305.38 403.2,305.38 403.45,305.38 403.7,305.38 403.95,305.38 404.2,305.38 404.45,305.38 404.7,305.38 404.95,305.38 405.2,305.38 405.45,305.38 405.7,305.38 405.95,305.38 406.2,305.38 406.45,305.38 406.7,305.38 406.95,305.38 407.2,305.38 407.45,305.38 407.7,305.38 407.95,305.38 408.2,305.38 408.45,305.38 408.7,305.38 408.95,305.38 409.2,305.38 409.45,305.38 409.7,305.38 409.95,305.38 410.2,305.38 410.45,305.37 410.7,305.37 410.95,305.37 411.2,305.37 411.45,305.37 411.7,305.37 411.95,305.37 412.2,305.36 412.45,305.36 412.7,305.36 412.95,305.36 413.2,305.36 413.45,305.36 413.7,305.35 413.95,305.35 414.2,305.35 414.45,305.34 414.7,305.34 414.95,305.33 415.2,305.33 415.45,305.32 415.7,305.31 415.95,305.29 416.2,305.27 416.45,305.24 416.7,305.2 416.95,305.14 417.2,305.05 417.45,304.86 417.7,304.26 417.95,301.87 418.2,296.27 418.4,293.17 418.45,293.41 418.7,298.79 418.95,303.19 419.2,304.6 419.45,304.95 419.7,305.08 419.95,305.16 420.2,305.21 420.45,305.24 420.7,305.27 420.95,305.28 421.2,305.29 421.45,305.29 421.7,305.3 421.95,305.3 422.2,305.31 422.45,305.31 422.7,305.31 422.95,305.31 423.2,305.31 423.45,305.31 423.7,305.31 423.95,305.31 424.2,305.3 424.45,305.3 424.7,305.29 424.95,305.29 425.2,305.28 425.45,305.27 425.7,305.26 425.95,305.25 426.2,305.23 426.45,305.22 426.7,305.19 426.95,305.15 427.2,305.09 427.45,304.99 427.7,304.82 427.95,304.36 428.2,302.5 428.45,297.43 428.7,293.05 428.95,297.41 429.2,302.46 429.45,304.29 429.7,304.73 429.95,304.86 430.2,304.93 430.45,304.95 430.7,304.94 430.95,304.87 431.2,304.54 431.45,303.41 431.6,302.89 431.7,303.1 431.95,304.08 432.2,303.53 432.45,301.69 432.5,301.58 432.7,302.71 432.95,303.92 433.2,303.08 433.4,302.19 433.45,302.26 433.7,303.5 433.95,303.38 434.2,301.32 434.3,300.88 434.45,301.69 434.7,303.43 434.95,302.93 435.2,301.64 435.45,302.8 435.7,303.03 435.95,300.65 436.1,299.54 436.2,300.05 436.45,302.58 436.7,302.65 436.95,301 437,300.9 437.2,301.94 437.45,302.87 437.7,301.18 437.9,299.63 437.95,299.75 438.2,302.08 438.45,302.64 438.7,301.04 438.8,300.69 438.95,301.37 439.2,302.73 439.45,301.66 439.5,301.17 439.7,299.73 439.95,301.68 440.2,302.79 440.45,301.56 440.6,300.94 440.7,301.27 440.95,302.78 441.2,302.31 441.45,300.22 441.5,300.1 441.7,301.52 441.95,303.05 442.2,302.18 442.4,301.23 442.45,301.33 442.7,302.92 442.95,303.1 443.2,301.39 443.3,301.04 443.45,301.83 443.7,303.46 443.95,303.09 444.2,302 444.45,303.2 444.7,303.74 444.95,302.43 445.1,301.8 445.2,302.15 445.45,303.76 445.7,303.82 445.95,302.79 446,302.74 446.2,303.49 446.45,304.24 446.7,303.47 446.9,302.71 446.95,302.79 447.2,304.09 447.45,304.56 447.7,304.11 447.8,304.03 447.95,304.3 448.2,304.88 448.45,305.07 448.7,305.13 448.95,305.16 449.2,305.18 449.45,305.2 449.7,305.22 449.95,305.23 450.2,305.25 450.45,305.26 450.7,305.27 450.95,305.28 451.2,305.28 451.45,305.29 451.7,305.3 451.95,305.3 452.2,305.31 452.45,305.32 452.7,305.32 452.95,305.32 453.2,305.33 453.45,305.33 453.7,305.33 453.95,305.34 454.2,305.34 454.45,305.34 454.7,305.34 454.95,305.34 455.2,305.35 455.45,305.35 455.7,305.35 455.95,305.35 456.2,305.35 456.45,305.35 456.7,305.36 456.95,305.36 457.2,305.36 457.45,305.36 457.7,305.36 457.95,305.36 458.2,305.36 458.45,305.36 458.7,305.36 458.95,305.36 459.2,305.37 459.45,305.37 459.7,305.37 459.95,305.37 460.2,305.37 460.45,305.37 460.7,305.37 460.95,305.37 461.2,305.37 461.45,305.37 461.7,305.37" fill="none" stroke="#1e1e1e" stroke-width="1" stroke-linejoin="round"/>
<polyline points="249.2,359.3 249.45,359.3 249.7,359.3 249.95,359.3 250.2,359.3 250.45,359.3 250.7,359.3 250.95,359.3 251.2,359.3 251.45,359.3 251.7,359.3 251.95,359.3 252.2,359.3 252.45,359.3 252.7,359.3 252.95,359.3 253.2,359.3 253.45,359.3 253.7,359.3 253.95,359.3 254.2,359.3 254.45,359.3 254.7,359.3 254.95,359.3 255.2,359.3 255.45,359.3 255.7,359.3 255.95,359.3 256.2,359.3 256.45,359.3 256.7,359.3 256.95,359.3 257.2,359.3 257.45,359.3 257.7,359.3 257.95,359.3 258.2,359.3 258.45,359.3 258.7,359.3 258.95,359.3 259.2,359.3 259.45,359.3 259.7,359.3 259.95,359.3 260.2,359.3 260.45,359.3 260.7,359.3 260.95,359.3 261.2,359.3 261.45,359.3 261.7,359.3 261.95,359.3 262.2,359.3 262.45,359.3 262.7,359.3 262.95,359.3 263.2,359.3 263.45,359.3 263.7,359.3 263.95,359.3 264.2,359.3 264.45,359.3 264.7,359.3 264.95,359.3 265.2,359.3 265.45,359.3 265.7,359.3 265.95,359.3 266.2,359.3 266.45,359.3 266.7,359.29 266.95,359.29 267.2,359.29 267.45,359.29 267.7,359.28 267.95,359.28 268.2,359.28 268.45,359.28 268.7,359.28 268.95,359.28 269.2,359.28 269.45,359.28 269.7,359.28 269.95,359.28 270.2,359.28 270.45,359.27 270.7,359.27 270.95,359.27 271.2,359.27 271.45,359.27 271.7,359.27 271.95,359.26 272.2,359.26 272.45,359.26 272.7,359.26 272.95,359.25 273.2,359.25 273.45,359.25 273.7,359.24 273.95,359.24 274.2,359.23 274.45,359.23 274.7,359.22 274.95,359.21 275.2,359.21 275.45,359.2 275.7,359.18 275.95,359.17 276.2,359.16 276.45,359.14 276.7,359.11 276.95,359.08 277.2,359.05 277.45,359.01 277.7,358.95 277.95,358.87 278.2,358.77 278.45,358.63 278.7,358.4 278.95,357.94 279.2,356.89 279.45,354.53 279.7,350.17 279.95,344.17 280.2,339.34 280.3,338.8 280.45,339.99 280.7,345.41 280.95,351.21 281.2,355.15 281.45,357.18 281.7,358.07 281.95,358.46 282.2,358.66 282.45,358.8 282.7,358.89 282.95,358.96 283.2,359.02 283.45,359.06 283.7,359.08 283.95,359.1 284.2,359.13 284.45,359.14 284.7,359.16 284.95,359.17 285.2,359.18 285.45,359.19 285.7,359.2 285.95,359.2 286.2,359.21 286.45,359.21 286.7,359.22 286.95,359.22 287.2,359.22 287.45,359.23 287.7,359.23 287.95,359.23 288.2,359.23 288.45,359.23 288.7,359.23 288.95,359.23 289.2,359.23 289.45,359.23 289.7,359.23 289.95,359.23 290.2,359.23 290.45,359.22 290.7,359.22 290.95,359.22 291.2,359.21 291.45,359.21 291.7,359.2 291.95,359.2 292.2,359.19 292.45,359.18 292.7,359.17 292.95,359.16 293.2,359.14 293.45,359.12 293.7,359.1 293.95,359.07 294.2,359.05 294.45,359.01 294.7,358.95 294.95,358.87 295.2,358.77 295.45,358.63 295.7,358.4 295.95,357.94 296.2,356.89 296.45,354.53 296.7,350.17 296.95,344.17 297.2,339.34 297.3,338.8 297.45,339.99 297.7,345.41 297.95,351.21 298.2,355.15 298.45,357.18 298.7,358.07 298.95,358.46 299.2,358.66 299.45,358.8 299.7,358.89 299.95,358.96 300.2,359.02 300.45,359.06 300.7,359.09 300.95,359.12 301.2,359.14 301.45,359.16 301.7,359.17 301.95,359.19 302.2,359.2 302.45,359.21 302.7,359.22 302.95,359.22 303.2,359.23 303.45,359.23 303.7,359.24 303.95,359.24 304.2,359.25 304.45,359.25 304.7,359.25 304.95,359.26 305.2,359.26 305.45,359.26 305.7,359.26 305.95,359.27 306.2,359.27 306.45,359.27 306.7,359.27 306.95,359.27 307.2,359.27 307.45,359.28 307.7,359.28 307.95,359.28 308.2,359.28 308.45,359.28 308.7,359.28 308.95,359.28 309.2,359.28 309.45,359.28 309.7,359.28 309.95,359.28 310.2,359.29 310.45,359.29 310.7,359.29 310.95,359.29 311.2,359.3 311.45,359.3 311.7,359.3 311.95,359.3 312.2,359.3 312.45,359.3 312.7,359.3 312.95,359.3 313.2,359.3 313.45,359.3 313.7,359.3 313.95,359.3 314.2,359.3 314.45,359.3 314.7,359.3 314.95,359.3 315.2,359.3 315.45,359.3 315.7,359.3 315.95,359.3 316.2,359.3 316.45,359.3 316.7,359.3 316.95,359.3 317.2,359.3 317.45,359.3 317.7,359.3 317.95,359.28 318.2,359.28 318.45,359.28 318.7,359.28 318.95,359.28 319.2,359.27 319.45,359.27 319.7,359.27 319.95,359.27 320.2,359.27 320.45,359.27 320.7,359.27 320.95,359.27 321.2,359.26 321.45,359.26 321.7,359.26 321.95,359.26 322.2,359.23 322.45,359.23 322.7,359.23 322.95,359.22 323.2,359.22 323.45,359.22 323.7,359.21 323.95,359.21 324.2,359.2 324.45,359.19 324.7,359.19 324.95,359.18 325.2,359.17 325.45,359.16 325.7,359.15 325.95,359.14 326.2,359.12 326.45,359.11 326.7,359.09 326.95,359.07 327.2,359.05 327.45,359.02 327.7,358.99 327.95,358.95 328.2,358.9 328.45,358.84 328.7,358.77 328.95,358.68 329.2,358.56 329.45,358.4 329.7,358.18 329.95,357.85 330.2,357.22 330.45,355.8 330.7,352.55 330.95,346.27 331.2,337.04 331.45,328.39 331.6,326.49 331.7,327.34 331.95,335 332.2,344.49 332.45,351.39 332.7,355.1 332.95,356.71 333.2,357.35 333.45,357.61 333.7,357.69 333.95,357.66 334.2,357.48 334.45,357.03 334.7,355.92 334.95,353.21 335.2,347.66 335.45,338.93 335.7,329.71 335.9,326.49 335.95,326.71 336.2,333.15 336.45,342.83 336.7,350.45 336.95,354.79 337.2,356.79 337.45,357.65 337.7,358.07 337.95,358.33 338.2,358.5 338.45,358.64 338.7,358.74 338.95,358.82 339.2,358.88 339.45,358.93 339.7,358.97 339.95,359.01 340.2,359.04 340.45,359.06 340.7,359.08 340.95,359.1 341.2,359.12 341.45,359.13 341.7,359.15 341.95,359.16 342.2,359.17 342.45,359.18 342.7,359.18 342.95,359.19 343.2,359.2 343.45,359.2 343.7,359.21 343.95,359.21 344.2,359.22 344.45,359.22 344.7,359.23 344.95,359.23 345.2,359.23 345.45,359.26 345.7,359.26 345.95,359.26 346.2,359.26 346.45,359.26 346.7,359.27 346.95,359.27 347.2,359.27 347.45,359.27 347.7,359.27 347.95,359.27 348.2,359.27 348.45,359.28 348.7,359.28 348.95,359.28 349.2,359.28 349.45,359.28 349.7,359.3 349.95,359.3 350.2,359.3 350.45,359.3 350.7,359.3 350.95,359.3 351.2,359.3 351.45,359.3 351.7,359.3 351.95,359.3 352.2,359.3 352.45,359.3 352.7,359.3 352.95,359.3 353.2,359.3 353.45,359.29 353.7,359.29 353.95,359.29 354.2,359.29 354.45,359.29 354.7,359.29 354.95,359.29 355.2,359.28 355.45,359.28 355.7,359.28 355.95,359.28 356.2,359.28 356.45,359.27 356.7,359.27 356.95,359.27 357.2,359.26 357.45,359.26 357.7,359.26 357.95,359.25 358.2,359.25 358.45,359.24 358.7,359.24 358.95,359.23 359.2,359.23 359.45,359.22 359.7,359.21 359.95,359.19 360.2,359.18 360.45,359.16 360.7,359.14 360.95,359.1 361.2,359.05 361.45,358.98 361.7,358.83 361.95,358.42 362.2,357.4 362.45,355.59 362.7,353.82 362.8,353.59 362.95,354.02 363.2,355.86 363.45,357.4 363.7,358 363.95,357.67 364.2,356.35 364.45,354.28 364.7,353.02 364.95,354.15 365.2,355.96 365.45,356.64 365.7,355.63 365.95,353.44 366.2,352.02 366.45,353.19 366.7,354.84 366.95,354.7 367.2,352.54 367.45,350.42 367.5,350.31 367.7,351.13 367.95,352.95 368.2,353.31 368.45,352.89 368.5,352.95 368.7,354.02 368.95,356.15 369.2,357.73 369.45,358.5 369.7,358.8 369.95,358.93 370.2,359.01 370.45,359.06 370.7,359.1 370.95,359.13 371.2,359.15 371.45,359.17 371.7,359.19 371.95,359.2 372.2,359.21 372.45,359.22 372.7,359.23 372.95,359.23 373.2,359.24 373.45,359.24 373.7,359.25 373.95,359.25 374.2,359.26 374.45,359.26 374.7,359.26 374.95,359.27 375.2,359.27 375.45,359.27 375.7,359.27 375.95,359.28 376.2,359.28 376.45,359.28 376.7,359.28 376.95,359.28 377.2,359.28 377.45,359.29 377.7,359.29 377.95,359.29 378.2,359.29 378.45,359.29 378.7,359.29 378.95,359.3 379.2,359.3 379.45,359.3 379.7,359.3 379.95,359.3 380.2,359.3 380.45,359.3 380.7,359.3 380.95,359.3 381.2,359.3 381.45,359.3 381.7,359.3 381.95,359.3 382.2,359.3 382.45,359.3 382.7,359.3 382.95,359.3 383.2,359.3 383.45,359.3 383.7,359.3 383.95,359.3 384.2,359.3 384.45,359.3 384.7,359.3 384.95,359.3 385.2,359.3 385.45,359.3 385.7,359.3 385.95,359.3 386.2,359.3 386.45,359.3 386.7,359.3 386.95,359.3 387.2,359.3 387.45,359.3 387.7,359.3 387.95,359.3 388.2,359.3 388.45,359.3 388.7,359.3 388.95,359.3 389.2,359.3 389.45,359.3 389.7,359.3 389.95,359.3 390.2,359.3 390.45,359.3 390.7,359.3 390.95,359.3 391.2,359.3 391.45,359.3 391.7,359.3 391.95,359.3 392.2,359.3 392.45,359.3 392.7,359.3 392.95,359.3 393.2,359.3 393.45,359.3 393.7,359.3 393.95,359.3 394.2,359.3 394.45,359.3 394.7,359.3 394.95,359.3 395.2,359.3 395.45,359.3 395.7,359.3 395.95,359.3 396.2,359.3 396.45,359.3 396.7,359.3 396.95,359.3 397.2,359.3 397.45,359.3 397.7,359.3 397.95,359.3 398.2,359.3 398.45,359.3 398.7,359.3 398.95,359.3 399.2,359.3 399.45,359.3 399.7,359.3 399.95,359.3 400.2,359.3 400.45,359.3 400.7,359.3 400.95,359.3 401.2,359.3 401.45,359.3 401.7,359.3 401.95,359.3 402.2,359.3 402.45,359.3 402.7,359.3 402.95,359.3 403.2,359.3 403.45,359.3 403.7,359.3 403.95,359.3 404.2,359.3 404.45,359.3 404.7,359.3 404.95,359.3 405.2,359.3 405.45,359.3 405.7,359.3 405.95,359.3 406.2,359.3 406.45,359.3 406.7,359.3 406.95,359.3 407.2,359.3 407.45,359.3 407.7,359.3 407.95,359.3 408.2,359.3 408.45,359.3 408.7,359.3 408.95,359.3 409.2,359.3 409.45,359.3 409.7,359.3 409.95,359.3 410.2,359.3 410.45,359.3 410.7,359.3 410.95,359.3 411.2,359.3 411.45,359.3 411.7,359.3 411.95,359.3 412.2,359.3 412.45,359.3 412.7,359.3 412.95,359.3 413.2,359.3 413.45,359.3 413.7,359.3 413.95,359.3 414.2,359.3 414.45,359.3 414.7,359.3 414.95,359.3 415.2,359.3 415.45,359.3 415.7,359.3 415.95,359.3 416.2,359.3 416.45,359.3 416.7,359.3 416.95,359.3 417.2,359.3 417.45,359.3 417.7,359.3 417.95,359.3 418.2,359.3 418.45,359.3 418.7,359.3 418.95,359.3 419.2,359.3 419.45,359.3 419.7,359.3 419.95,359.3 420.2,359.3 420.45,359.29 420.7,359.29 420.95,359.29 421.2,359.29 421.45,359.29 421.7,359.29 421.95,359.29 422.2,359.29 422.45,359.29 422.7,359.29 422.95,359.29 423.2,359.28 423.45,359.28 423.7,359.28 423.95,359.28 424.2,359.28 424.45,359.28 424.7,359.27 424.95,359.27 425.2,359.27 425.45,359.27 425.7,359.26 425.95,359.26 426.2,359.26 426.45,359.25 426.7,359.24 426.95,359.24 427.2,359.23 427.45,359.22 427.7,359.21 427.95,359.2 428.2,359.19 428.45,359.18 428.7,359.16 428.95,359.14 429.2,359.11 429.45,359.06 429.7,359.01 429.95,358.92 430.2,358.77 430.45,358.39 430.7,357.38 430.95,355.27 431.2,352.47 431.4,351.31 431.45,351.36 431.7,353.22 431.95,355.29 432.2,355.8 432.45,355.18 432.6,355.01 432.7,355.2 432.95,356.33 433.2,357.31 433.45,357.34 433.7,356.15 433.95,354.08 434.2,352.81 434.45,353.99 434.7,355.88 434.95,356.61 435.2,355.62 435.45,353.44 435.7,352.08 435.95,353.48 436.2,355.8 436.45,357.19 436.7,357.21 436.95,355.8 437.2,353.16 437.45,351.02 437.5,350.94 437.7,352.02 437.95,354.62 438.2,356.12 438.45,355.97 438.7,355.19 438.8,355.11 438.95,355.47 439.2,356.74 439.45,357.75 439.7,358.01 439.95,357.36 440.2,355.74 440.45,353.81 440.6,353.34 440.7,353.58 440.95,355.44 441.2,357.33 441.45,358.39 441.7,358.81 441.95,358.97 442.2,359.05 442.45,359.1 442.7,359.14 442.95,359.16 443.2,359.18 443.45,359.2 443.7,359.21 443.95,359.22 444.2,359.23 444.45,359.23 444.7,359.24 444.95,359.25 445.2,359.25 445.45,359.26 445.7,359.26 445.95,359.26 446.2,359.27 446.45,359.27 446.7,359.27 446.95,359.28 447.2,359.28 447.45,359.28 447.7,359.28 447.95,359.28 448.2,359.28 448.45,359.28 448.7,359.28 448.95,359.29 449.2,359.29 449.45,359.29 449.7,359.29 449.95,359.29 450.2,359.29 450.45,359.3 450.7,359.3 450.95,359.3 451.2,359.3 451.45,359.3 451.7,359.3 451.95,359.3 452.2,359.3 452.45,359.3 452.7,359.3 452.95,359.3 453.2,359.3 453.45,359.3 453.7,359.3 453.95,359.3 454.2,359.3 454.45,359.3 454.7,359.3 454.95,359.3 455.2,359.3 455.45,359.3 455.7,359.3 455.95,359.3 456.2,359.3 456.45,359.3 456.7,359.3 456.95,359.3 457.2,359.3 457.45,359.3 457.7,359.3 457.95,359.3 458.2,359.3 458.45,359.3 458.7,359.3 458.95,359.3 459.2,359.3 459.45,359.3 459.7,359.3 459.95,359.3 460.2,359.3 460.45,359.3 460.7,359.3 460.95,359.3 461.2,359.3 461.45,359.3 461.7,359.3" fill="none" stroke="#1e1e1e" stroke-width="1" stroke-linejoin="round"/>
<rect x="369" y="218.9" width="8.8" height="141.2" fill="rgba(255,40,40,0.33)"/>
<rect x="417" y="218.9" width="14" height="141.2" fill="rgba(255,40,40,0.33)"/>
<polyline points="468.4,252.91 468.65,253.34 468.9,253.76 469.15,253.1 469.4,252.6 469.65,252.79 469.9,251.94 470.15,251.75 470.4,251.6 470.65,252.43 470.9,253.34 471.15,252.66 471.4,252.46 471.65,252.13 471.9,252.13 472.15,251.67 472.4,252.29 472.65,252.08 472.9,252.83 473.15,253.98 473.4,253.54 473.65,252.24 473.9,253.34 474.15,252.41 474.4,252.88 474.65,252.96 474.9,252.75 475.15,252.56 475.4,253.11 475.65,252.79 475.9,252.45 476.15,252.06 476.4,252.75 476.65,251.82 476.9,251.16 477.15,250.55 477.4,252.31 477.65,252.36 477.9,253.5 478.15,252.84 478.4,252.41 478.65,253.14 478.9,253.74 479.15,253.07 479.4,252.49 479.65,252.98 479.9,252.93 480.15,254.15 480.4,253.76 480.65,253.1 480.9,252.76 481.15,251.81 481.4,252.83 481.65,253.95 481.9,253.03 482.15,253.14 482.4,252.71 482.65,252.26 482.9,252.1 483.15,251.55 483.4,251.33 483.65,252.88 483.9,252.77 484.15,251.58 484.4,252.31 484.65,251.92 484.9,252.29 485.15,252.67 485.4,251.76 485.65,251.61 485.9,252.24 486.15,251.92 486.4,252.98 486.65,253.19 486.9,252.39 487.15,252.47 487.4,253.12 487.65,252.61 487.9,252.42 488.15,251.8 488.4,251.67 488.65,252.28 488.9,252.71 489.15,252.73 489.4,252.79 489.65,251.89 489.9,251.37 490.15,251.23 490.4,251.71 490.65,252.28 490.9,251.94 491.15,252.45 491.4,252.38 491.65,253.4 491.9,253.22 492.15,252.11 492.4,252.91 492.65,253.56 492.9,253.16 493.15,251.95 493.4,251.46 493.65,252.22 493.9,252.66 494.15,252.67 494.4,253.13 494.65,252.83 494.9,252.86 495.15,253.53 495.4,253.36 495.65,253.1 495.9,253.3 496.15,253.55 496.4,252.55 496.65,251.51 496.9,252.19 497.15,252.6 497.4,252.3 497.65,252.54 497.9,252.97 498.15,251.99 498.4,252.83 498.65,253.08 498.9,253.16 499.15,253.32 499.4,253.04 499.65,252.45 499.9,251.67 500.15,251.71 500.4,252.06 500.65,252.94 500.9,252.71 501.15,253.07 501.4,252.77 501.65,252.01 501.9,252.03 502.15,252.24 502.4,252.61 502.65,252.33 502.9,252.05 503.15,252.37 503.4,252.08 503.65,250.7 503.9,250.23 504.15,246.96 504.4,242.11 504.65,234.74 504.9,231.55 505.15,234.57 505.4,240.65 505.65,245.9 505.9,249.05 506.15,251.58 506.4,251.72 506.65,251.58 506.9,252.65 507.15,251.97 507.4,251.75 507.65,252.86 507.9,252.85 508.15,252.77 508.4,252.86 508.65,252.41 508.9,253.11 509.15,252.88 509.4,252.53 509.65,252.08 509.9,252.23 510.15,252.46 510.4,252.07 510.65,253.35 510.9,252.38 511.15,252.57 511.4,253.19 511.65,253.04 511.9,253.74 512.15,254.19 512.4,253.48 512.65,253.36 512.9,252.45 513.15,252.89 513.4,253.32 513.65,253.34 513.9,251.86 514.15,252.03 514.4,252.44 514.65,252.83 514.9,253.04 515.15,252.59 515.4,251.97 515.65,251.17 515.9,250.62 516.15,250.51 516.4,250.24 516.65,248.61 516.9,245.82 517.15,240.39 517.4,235.21 517.5,234.63 517.65,235.03 517.9,239.29 518.15,239.84 518.3,240.35 518.4,242.08 518.65,245.99 518.9,244.92 519.1,241.53 519.15,241.86 519.4,245.09 519.65,245.41 519.9,242.65 520.15,244.71 520.4,244.94 520.65,238.65 520.7,239 520.9,242.24 521.15,245.58 521.3,243.28 521.4,242.98 521.5,241.29 521.65,243.3 521.9,245.66 522.15,242.56 522.3,240.17 522.4,241.11 522.65,245.8 522.9,245.22 523.1,243.3 523.15,243.26 523.4,247.24 523.65,247.38 523.9,244.85 524.15,247.62 524.4,249.65 524.65,247.62 524.7,247.77 524.9,249.96 525.15,251.06 525.4,250.65 525.65,251.53 525.9,252.4 526.15,252.81 526.4,252.07 526.65,252.53 526.9,252.67 527.15,252.16 527.4,252.28 527.65,252.29 527.9,252.67 528.15,252.91 528.4,252.6 528.65,252.45 528.9,252.14 529.15,252.59 529.4,252.36 529.65,252.17 529.9,252.29 530.15,252.1 530.4,251.75 530.65,252.03 530.9,252.24 531.15,252.92 531.4,252.56 531.65,252.61 531.9,252.75 532.15,253.11 532.4,252.52 532.65,251.13 532.9,251.61 533.15,252.04 533.4,252.06 533.65,252.64 533.9,252.55 534.15,252.92 534.4,253.1 534.65,252.7 534.9,252.51 535.15,252.6 535.4,253.02 535.65,252.65 535.9,253.21 536.15,252.47 536.4,252.71 536.65,252.64 536.9,252.18 537.15,252.07 537.4,253.04 537.65,252.94 537.9,252.56 538.15,253.17 538.4,254.2 538.65,253.43 538.9,253.03 539.15,252.57 539.4,252.53 539.65,252.48 539.9,252.4 540.15,251.74 540.4,251.89 540.65,251.94 540.9,252.48 541.15,251.91 541.4,252.35 541.65,252.06 541.9,253.48 542.15,252.9 542.4,252.79 542.65,252.94 542.9,252.06 543.15,252.1 543.4,252.42 543.65,252.79 543.9,251.66 544.15,251.71 544.4,251.79 544.65,252.61 544.9,251.88 545.15,251.93 545.4,252.4 545.65,252.55 545.9,253.46 546.15,252.67 546.4,253.23 546.65,252.44 546.9,252.76 547.15,253.01 547.4,252.6 547.65,252.48 547.9,253.15 548.15,252.91 548.4,252.42 548.65,252.64 548.9,253.35 549.15,253.1 549.4,253.37 549.65,253.3 549.9,252.92 550.15,252.78 550.4,252.8 550.65,253.6 550.9,252.9 551.15,252.86 551.4,252.95 551.65,252.68 551.9,251.58 552.15,252.79 552.4,253.57 552.65,252.66 552.9,253.06 553.15,252.11 553.4,252.89 553.65,253.01 553.9,252.34 554.15,251.97 554.4,252.03 554.65,252.06 554.9,252.4 555.15,252.73 555.4,252.77 555.65,251.99 555.9,251.9 556.15,252.23 556.4,252.24 556.65,251.96 556.9,251.63 557.15,252.18 557.4,252.43 557.65,252.33 557.9,251.03 558.15,251.68 558.4,251.44 558.65,252.85 558.9,252.26 559.15,253.19 559.4,253.48 559.65,253.38 559.9,253.06 560.15,252.73 560.4,252.46 560.65,252.4 560.9,252.73 561.15,251.24 561.4,251.7 561.65,251.78 561.9,251.08 562.15,251.3 562.4,251.63 562.65,251.93 562.9,251.24 563.15,252.5 563.4,253.06 563.65,252.74 563.9,253.78 564.15,253.6 564.4,252.48 564.65,252.78 564.9,252.59 565.15,252.21 565.4,253.03 565.65,252.66 565.9,252.96 566.15,253.36 566.4,253.12 566.65,252.88 566.9,252.95 567.15,253.12 567.4,252.33 567.65,251.82 567.9,251.89 568.15,252.29 568.4,253 568.65,253.24 568.9,253.51 569.15,252.92 569.4,252.25 569.65,251.91 569.9,252.25 570.15,252.62 570.4,252.49 570.65,252.46 570.9,252.19 571.15,251.57 571.4,252.44 571.65,251.36 571.9,253.1 572.15,253.8 572.4,254 572.65,253.84 572.9,253.32 573.15,251.81 573.4,252.56 573.65,251.95 573.9,252.44 574.15,252.41 574.4,253.03 574.65,251.54 574.9,252.05 575.15,252.62 575.4,251.33 575.65,251.82 575.9,251.93 576.15,252.29 576.4,252.84 576.65,253.44 576.9,253.04 577.15,251.86 577.4,251.9 577.65,252.21 577.9,251.66 578.15,252.4 578.4,251.42 578.65,251.59 578.9,252 579.15,251.28 579.4,250.96 579.5,251.31 579.65,251.18 579.9,250.72 580.15,250.26 580.4,251.18 580.65,252.5 580.9,250.44 581.15,250.53 581.4,250.6 581.5,250.24 581.65,250.54 581.9,249.97 582.15,250.92 582.4,250.67 582.65,250.79 582.9,248.96 583.15,248.8 583.3,248.14 583.4,247.76 583.65,249.43 583.9,250.14 584.15,250.16 584.4,250.01 584.65,247.01 584.8,244.81 584.9,245.4 585.15,249.58 585.4,248.75 585.65,243.45 585.7,243.17 585.9,246.41 586.15,250.01 586.4,247.16 586.6,245.57 586.65,245.68 586.9,248.46 587.15,248.14 587.4,243.16 587.5,242.47 587.65,244.26 587.9,247.6 588.15,246.66 588.3,244.24 588.4,243.51 588.65,246.93 588.9,247.23 589.15,244.39 589.3,242.19 589.4,242.95 589.65,247.91 589.9,248.94 590.15,246.43 590.2,245.04 590.4,248.11 590.65,249.88 590.9,246.92 591.1,244.06 591.15,245.43 591.4,250.69 591.65,251.19 591.9,249.05 592,248.27 592.15,249.22 592.4,251.37 592.65,252.63 592.9,253.34 593.15,252.28 593.4,252.63 593.65,253.12 593.9,253.84 594.15,252.82 594.4,253.3 594.65,253.44 594.9,252.61 595.15,252.37 595.4,252.11 595.65,252.99 595.9,254.3 596.15,253.93 596.4,253.38 596.65,253.3 596.9,252.42 597.15,252.27 597.4,252.96 597.65,252.42 597.9,252.54 598.15,252.79 598.4,252.04 598.65,253.19 598.9,252.28 599.15,251.8 599.4,253.28 599.65,253 599.9,252.85 600.15,253.3 600.4,253.22 600.65,253.31 600.9,252.88 601.15,253 601.4,253.93 601.65,252.57 601.9,252.05 602.15,252.74 602.4,252.14 602.65,251.22 602.9,252.71 603.15,252.83 603.4,252.95 603.65,252.41 603.9,252.62 604.15,253.32 604.4,252.21 604.65,252.51 604.9,252.09 605.15,251.02 605.4,252.14 605.65,252.51 605.9,251.97 606.15,252.24 606.4,252.03 606.65,252.2 606.9,250.73 607.15,251.18 607.4,251.54 607.65,251.83 607.9,251.8 608.15,252.87 608.4,252.62 608.65,251.89 608.9,252.54 609.15,252.09 609.4,251.83 609.65,251.75 609.9,249.68 610.15,248.77 610.4,246.56 610.65,242.47 610.9,235.24 611.15,228.69 611.3,227.12 611.4,227.52 611.65,231.78 611.9,238.48 612.15,242.5 612.4,243.62 612.65,241.5 612.9,240.53 613.15,239.54 613.3,238.91 613.4,239.03 613.65,241.26 613.9,244.77 614.15,247.09 614.4,248.3 614.65,249.97 614.9,251.11 615.15,250.91 615.4,251.65 615.65,252.08 615.9,251.95 616.15,253.34 616.4,251.77 616.65,252.09 616.9,251.92 617.15,251.96 617.4,251.94 617.65,252.9 617.9,251.68 618.15,251.73 618.4,251.91 618.65,250.44 618.9,252.14 619.15,251.87 619.4,252.21 619.65,253.15 619.9,251.73 620.15,252.94 620.4,252.62 620.65,252.58 620.9,252.41 621.15,252.94 621.4,251.94 621.65,252.04 621.9,252.93 622.15,253.34 622.4,252.71 622.65,253.18 622.9,252.53 623.15,252.24 623.4,252.58 623.65,253.47 623.9,253.52 624.15,252.57 624.4,252.44 624.65,250.75 624.9,250.43 625.15,248.48 625.4,245.55 625.65,243.24 625.8,242.67 625.9,242.52 626.15,245.2 626.4,247.92 626.65,250.3 626.9,250.26 627.15,251.19 627.4,251.25 627.65,253.37 627.9,253.07 628.15,253.28 628.4,252.74 628.65,252.73 628.9,253.06 629.15,252.78 629.4,252.02 629.65,251.48 629.9,252.06 630.15,251.44 630.4,251.99 630.65,251.51 630.9,251.97 631.15,250.97 631.4,249.39 631.65,249.14 631.9,246.13 632.15,242.3 632.4,234.99 632.65,226.24 632.8,225.34 632.9,226.04 633.15,233.43 633.4,240.84 633.65,246.7 633.9,248.72 634.15,250.42 634.4,249.23 634.65,250.09 634.9,248.67 635.15,247.72 635.4,245.12 635.6,243.3 635.65,243.59 635.9,246.07 636.15,248.02 636.4,249.48 636.65,250.62 636.9,250.85 637.15,252.24 637.4,251.14 637.65,251.19 637.9,252.74 638.15,251.25 638.4,251.58 638.65,250.72 638.9,250.81 639.15,249.1 639.4,248.41 639.5,247.1 639.65,247.43 639.9,249.27 640.15,250.71 640.4,250.88 640.65,252.02 640.9,251.8 641.15,252.63 641.4,253.29 641.65,252.96 641.9,252.66 642.15,252.22 642.4,251.51 642.65,251.82 642.9,251.8 643.15,250.83 643.4,249.7 643.65,247.57 643.9,243.17 644.15,238.49 644.4,233.42 644.5,233.33 644.65,234.06 644.9,238.57 645.15,245.33 645.4,248.33 645.65,250.7 645.9,251.56 646.15,252.08 646.4,251.71 646.65,252.33 646.9,253.44 647.15,252.69 647.4,252.6 647.65,252.14 647.9,251.93 648.15,252.84 648.4,252.52 648.65,252.42 648.9,252.48 649.15,252.42 649.4,252.28 649.65,252.69 649.9,252.66 650.15,252.03 650.4,252.84 650.65,252.71 650.9,253.16 651.15,253.41 651.4,253.18 651.65,252.74 651.9,251.78 652.15,252.25 652.4,251.85 652.65,251.87 652.9,252.13 653.15,254.01 653.4,253.17 653.65,252.78 653.9,253.18 654.15,252.73 654.4,251.75 654.65,252.69 654.9,252.79 655.15,252.02 655.4,253.09 655.65,253.12 655.9,252.24 656.15,251.03 656.4,249.41 656.65,247.43 656.9,244.06 657.15,243.01 657.2,244.19 657.4,245.05 657.65,247.01 657.9,249.21 658.15,251.89 658.4,251.95 658.65,252.56 658.9,252.52 659.15,251.59 659.4,252.01 659.65,252.5 659.9,252.44 660.15,252.68 660.4,251.31 660.65,251.26 660.9,251.16 661.15,251.93 661.4,252.22 661.65,251.77 661.9,252.69 662.15,251 662.4,250.44 662.65,247.24 662.9,241.75 663.15,235.13 663.4,229.03 663.5,228 663.65,228.54 663.9,235.35 664.15,241.61 664.4,246.71 664.65,249.7 664.9,250.46 665.15,251.54 665.4,251.73 665.65,251.59 665.9,251.28 666.15,251.62 666.4,252.77 666.65,251.85 666.9,252.02 667.15,252.38 667.4,252.85 667.65,252.33 667.9,252.21 668.15,251.97 668.4,252.3 668.65,251.55 668.9,252.17 669.15,252.12 669.4,252.21 669.65,251.78 669.9,252.53 670.15,252.7 670.4,252.74 670.65,253 670.9,253.13 671.15,253.51 671.4,252.62 671.65,251.77 671.9,252.71 672.15,252.21 672.4,253.02 672.65,253.24 672.9,253.08 673.15,252.76 673.4,252.42 673.65,253.56 673.9,253.79 674.15,253.14 674.4,252.99 674.65,251.62 674.9,252.25 675.15,252.77 675.4,252.02 675.65,253.76 675.9,254.2 676.15,251.9 676.4,252.59 676.65,252.55 676.9,252.67 677.15,253.12 677.4,252.95 677.65,253.5 677.9,252.52 678.15,252.14 678.4,252 678.65,252.8 678.9,253.77 679.15,253.45 679.4,253.63 679.65,252.9 679.9,253.64 680.15,253.63 680.4,253.04 680.65,252.59 680.9,252.55 681.15,253.27 681.4,253.31 681.65,251.86 681.9,251.72 682.15,252.61 682.4,251.56 682.65,252.16 682.9,252.38 683.15,252.95 683.4,251.95 683.65,252.22 683.9,252.46 684.15,253.04 684.4,253.52 684.65,252.97 684.9,252.78 685.15,251.84 685.4,252.72" fill="none" stroke="#1e1e1e" stroke-width="1.2" stroke-linejoin="round"/>
<polyline points="468.4,306.41 468.65,305.76 468.9,305.54 469.15,306.24 469.4,305.42 469.65,305.55 469.9,305.39 470.15,305.61 470.4,305.37 470.65,306.02 470.9,306.23 471.15,305.62 471.4,305.7 471.65,305.75 471.9,305.35 472.15,305.65 472.4,305.71 472.65,307.16 472.9,306.97 473.15,306.14 473.4,306.66 473.65,306.59 473.9,306.27 474.15,306.32 474.4,305.79 474.65,305.74 474.9,306.07 475.15,305.54 475.4,306.07 475.65,306.53 475.9,306.19 476.15,305.85 476.4,306.11 476.65,306.75 476.9,306.76 477.15,306.36 477.4,305.91 477.65,305.08 477.9,305.73 478.15,306.09 478.4,307.33 478.65,306.06 478.9,305.63 479.15,305.92 479.4,306.45 479.65,307.76 479.9,306.58 480.15,306.82 480.4,305.69 480.65,305.53 480.9,305.16 481.15,305.76 481.4,305.33 481.65,306.54 481.9,305.57 482.15,305.91 482.4,306.7 482.65,306.68 482.9,306.97 483.15,306.45 483.4,306.72 483.65,307.16 483.9,306.88 484.15,306.67 484.4,306.33 484.65,305.88 484.9,305.35 485.15,305.55 485.4,304.98 485.65,306.95 485.9,306.62 486.15,305.9 486.4,306.77 486.65,306.6 486.9,306.28 487.15,307.09 487.4,306.96 487.65,306.26 487.9,306.4 488.15,305.46 488.4,304.54 488.65,305.41 488.9,306.44 489.15,306.34 489.4,306.58 489.65,307.18 489.9,306.91 490.15,306.82 490.4,306.71 490.65,305.95 490.9,305.49 491.15,305.62 491.4,306.11 491.65,305.92 491.9,306.05 492.15,306 492.4,306.64 492.65,308.11 492.9,306.67 493.15,306.76 493.4,306.76 493.65,306.49 493.9,306.38 494.15,306.45 494.4,305.49 494.65,305.78 494.9,305.86 495.15,306.52 495.4,306.41 495.65,306.05 495.9,306.17 496.15,306.01 496.4,306.62 496.65,306.2 496.9,306.76 497.15,306.72 497.4,306.88 497.65,306.44 497.9,305.72 498.15,305.8 498.4,306.48 498.65,306.26 498.9,305.66 499.15,305.53 499.4,305.59 499.65,306.51 499.9,306.65 500.15,306.79 500.4,306.75 500.65,306.34 500.9,306.24 501.15,306.4 501.4,305.98 501.65,306.46 501.9,306.49 502.15,306.27 502.4,306.95 502.65,307.01 502.9,307.32 503.15,307.28 503.4,306.73 503.65,306.41 503.9,305.86 504.15,305.33 504.4,305.4 504.65,303.24 504.9,302.17 505,303.31 505.15,303.81 505.4,304.65 505.65,305.15 505.9,305.32 506.15,305.75 506.4,307.35 506.65,305.18 506.9,305.19 507.15,305.22 507.4,306.1 507.65,306.07 507.9,305.61 508.15,306.15 508.4,305.54 508.65,305.81 508.9,305.13 509.15,305.63 509.4,305.09 509.65,306.51 509.9,305.56 510.15,305.63 510.4,306.12 510.65,305.56 510.9,306.02 511.15,305.66 511.4,305.4 511.65,305.22 511.9,304.5 512.15,304.59 512.4,304.02 512.65,304.72 512.9,305.37 513.15,305.56 513.4,305.89 513.65,306.71 513.9,306.37 514.15,306.92 514.4,306.7 514.65,306.6 514.9,306.69 515.15,307.01 515.4,306.52 515.65,306.34 515.9,305.47 516.15,305.42 516.4,305.16 516.65,305.67 516.9,305.6 517.15,305.8 517.4,305.56 517.5,304.71 517.65,304.88 517.9,305.29 518.15,305.95 518.4,305.2 518.65,305.71 518.9,305.29 519.15,305.73 519.4,305.4 519.65,306.28 519.9,306.92 520.15,305.9 520.4,306.15 520.65,305.95 520.9,305.5 521.15,305.35 521.4,305.47 521.65,306.23 521.9,305.97 522.15,304.33 522.4,302.52 522.65,303.07 522.9,302.45 523.15,299.34 523.3,297.82 523.4,297.85 523.65,302.16 523.9,302.82 524.15,300.15 524.2,299.31 524.4,300.74 524.65,301.74 524.9,298.61 525.1,295.78 525.15,296.31 525.4,300.36 525.65,301.66 525.9,299.38 526,298.44 526.15,300.45 526.4,303.25 526.65,300.43 526.9,297.41 527.15,301.24 527.4,303.58 527.65,303.67 527.8,303.05 527.9,303.05 528.15,304.18 528.4,305.9 528.65,306.71 528.9,306.08 529.15,306.26 529.4,305.41 529.65,306.38 529.9,306.61 530.15,307.86 530.4,306.38 530.65,305.54 530.9,305.62 531.15,306.05 531.4,307.21 531.65,307.44 531.9,307.09 532.15,305.59 532.4,305.39 532.65,306.12 532.9,305.92 533.15,305.75 533.4,305.69 533.65,306.45 533.9,306.56 534.15,305.83 534.4,305.64 534.65,306.1 534.9,304.81 535.15,305.35 535.4,306 535.65,305.6 535.9,305.46 536.15,305.89 536.4,305.06 536.65,305.04 536.9,305.6 537.15,305.51 537.4,305.49 537.65,305.99 537.9,305.69 538.15,306.23 538.4,306.34 538.65,305.91 538.9,306.73 539.15,306.65 539.4,306.95 539.65,306.18 539.9,306.5 540.15,305.35 540.4,304.93 540.65,305.93 540.9,305.98 541.15,306.28 541.4,306.24 541.65,305.85 541.9,305.21 542.15,304.51 542.4,304.34 542.65,305.95 542.9,306.33 543.15,306.36 543.4,306.45 543.65,306.24 543.9,305.86 544.15,306.27 544.4,306.55 544.65,305.08 544.9,305.26 545.15,304.54 545.4,305.67 545.65,305.18 545.9,304.77 546.15,304.75 546.4,305.88 546.65,305.74 546.9,306.38 547.15,306.9 547.4,306.55 547.65,306.09 547.9,306.25 548.15,306.28 548.4,305.89 548.65,306.41 548.9,306.06 549.15,305.7 549.4,305.58 549.65,305.57 549.9,306.43 550.15,306.46 550.4,306.56 550.65,305.98 550.9,307.04 551.15,306.54 551.4,307.23 551.65,306.36 551.9,306.55 552.15,306.34 552.4,305.75 552.65,305.04 552.9,306.15 553.15,306.1 553.4,307.21 553.65,306.8 553.9,306.87 554.15,306.16 554.4,306.23 554.65,306.15 554.9,306.77 555.15,306.66 555.4,307.03 555.65,306.59 555.9,307.25 556.15,306.57 556.4,305.77 556.65,304.55 556.9,304.54 557.15,304.64 557.4,304.97 557.65,304.71 557.9,305.46 558.15,305.6 558.4,306.91 558.65,306.82 558.9,305.87 559.15,306.96 559.4,306.39 559.65,306.31 559.9,306.44 560.15,306.13 560.4,306.14 560.65,306.77 560.9,306.51 561.15,307.33 561.4,305.93 561.65,306.06 561.9,305.63 562.15,306.4 562.4,305.28 562.65,305.17 562.9,305.48 563.15,305.7 563.4,305.73 563.65,306.34 563.9,306.33 564.15,306.37 564.4,306.06 564.65,305.27 564.9,305.09 565.15,305.48 565.4,305.47 565.65,305.97 565.9,306.33 566.15,307.12 566.4,307.33 566.65,307.39 566.9,306.81 567.15,306.58 567.4,306.13 567.65,305.51 567.9,305.46 568.15,305.89 568.4,306.27 568.65,306.37 568.9,305.92 569.15,306.53 569.4,307.15 569.65,306.77 569.9,305.88 570.15,305.34 570.4,305.41 570.65,306.81 570.9,306.56 571.15,305.95 571.4,305.44 571.65,304.77 571.9,305.96 572.15,305.83 572.4,306.81 572.65,306.57 572.9,306.54 573.15,305.86 573.4,305.87 573.65,306.91 573.9,306.54 574.15,306.07 574.4,305.23 574.65,305.99 574.9,306.43 575.15,306.48 575.4,305.6 575.65,305.86 575.9,305.75 576.15,305.47 576.4,305.97 576.65,305.13 576.9,306.04 577.15,304.2 577.4,304.02 577.5,304.33 577.65,304.65 577.9,305.39 578.15,304.48 578.4,302.9 578.65,304.45 578.9,304.75 579.15,303.29 579.3,303.02 579.4,302.93 579.65,304.3 579.9,303.31 580.15,301.47 580.2,301.83 580.4,302.64 580.5,303.35 580.65,304.16 580.9,303.19 581.1,301.94 581.15,302.77 581.4,304.11 581.65,303.56 581.9,301.88 582,301.12 582.15,300.84 582.4,303.97 582.65,303.55 582.9,302.93 583.15,303.26 583.4,303.85 583.65,303.79 583.8,302.45 583.9,302.98 584.15,304.88 584.4,305.48 584.65,305.52 584.9,306.13 585.15,306.21 585.4,305.31 585.65,306.18 585.9,306.4 586.15,305.78 586.4,306.41 586.65,306.34 586.9,306.03 587.15,306.55 587.4,306.49 587.65,306.79 587.9,306.56 588.15,306.18 588.4,306.15 588.65,306 588.9,305.86 589.15,305.57 589.4,306.44 589.65,306.23 589.9,305.32 590.15,305.87 590.4,306.16 590.65,306.15 590.9,306.55 591.15,306.05 591.4,306.11 591.65,306.23 591.9,305.79 592.15,305.32 592.4,306.52 592.65,306.62 592.9,306.54 593.15,307.13 593.4,306.28 593.65,305.07 593.9,305.18 594.15,304.98 594.4,306.65 594.65,306.65 594.9,307.14 595.15,306.23 595.4,306.27 595.65,306.32 595.9,305.98 596.15,305.67 596.4,305.03 596.65,304.86 596.9,305.01 597.15,306.49 597.4,305.65 597.65,305.87 597.9,306.86 598.15,306.43 598.4,306.44 598.65,306.36 598.9,305.75 599.15,306.69 599.4,306.07 599.65,305.46 599.9,306.43 600.15,305.53 600.4,306.21 600.65,306.59 600.9,305.86 601.15,306.02 601.4,307.1 601.65,306.98 601.9,306.19 602.15,306.47 602.4,306.57 602.65,306.36 602.9,306.26 603.15,306.58 603.4,306.87 603.65,306.26 603.9,305.53 604.15,307.22 604.4,306.45 604.65,305.74 604.9,306.42 605.15,305.48 605.4,306.62 605.65,305.84 605.9,305.09 606.15,304.73 606.4,306.86 606.65,306.42 606.9,306.78 607.15,306.19 607.4,305.34 607.65,305.45 607.9,304.82 608.15,306.31 608.4,306.59 608.65,306.54 608.9,305.85 609.15,305.18 609.4,305.95 609.65,306.35 609.9,305.52 610.15,306.27 610.4,305.54 610.65,305.85 610.9,305.49 611.15,303.95 611.4,304.12 611.65,303.27 611.9,301.47 612.15,296.06 612.4,287.09 612.65,277.62 612.9,273.91 613.15,278.37 613.4,287.09 613.65,296.24 613.9,301.19 614.15,303.96 614.4,304.98 614.65,305.68 614.9,306.25 615.15,305.56 615.4,305.54 615.65,306.72 615.9,306.69 616.15,306.5 616.4,306.6 616.65,305.95 616.9,305.78 617.15,305.34 617.4,306 617.65,305.9 617.9,305.55 618.15,305.14 618.4,304.52 618.65,303.52 618.9,300.47 619.15,293.44 619.4,284.38 619.65,273.8 619.9,267.38 620.15,273.52 620.4,284.22 620.65,293.54 620.9,298.84 621.15,302.19 621.4,304.66 621.65,304.05 621.9,304.15 622.15,304.05 622.4,304.71 622.65,305.31 622.9,305.43 623.15,306.53 623.4,305.53 623.65,305.91 623.9,306.08 624.15,305.59 624.4,305.95 624.65,305.02 624.9,304.85 625.15,302.16 625.4,299.93 625.65,297.7 625.9,296.77 626.15,298.35 626.4,301.31 626.65,304.46 626.9,305.53 627.15,306.15 627.4,306.25 627.65,305.96 627.9,306.9 628.15,307.03 628.4,306.79 628.65,306.54 628.9,305.66 629.15,304.25 629.4,305.07 629.65,305.01 629.9,305.32 630.15,305.28 630.4,304.39 630.65,304.74 630.9,304.56 631.15,304.58 631.4,304.58 631.65,302.73 631.9,300.4 632.15,294.47 632.4,287.89 632.65,280.4 632.8,277.99 632.9,279.54 633.15,285.77 633.4,292.95 633.65,298.9 633.9,302.77 634.15,304.21 634.4,304.36 634.65,304.65 634.9,304.07 635.15,302.31 635.4,300.62 635.65,297.16 635.8,297.3 635.9,297.52 636.15,299.49 636.4,301.24 636.65,303.67 636.9,303.63 637.15,303.66 637.4,304.25 637.65,305.68 637.9,306.34 638.15,306.02 638.4,305.38 638.65,304.42 638.9,302.85 639.15,301.56 639.4,300.69 639.5,300.53 639.65,302.13 639.9,302.37 640.15,304.7 640.4,306.35 640.65,306.51 640.9,306.39 641.15,306.74 641.4,306.34 641.65,305.96 641.9,305.45 642.15,305.28 642.4,305.64 642.65,305.38 642.9,304.46 643.15,304.49 643.4,303.6 643.65,302.37 643.9,297.16 644.15,289.7 644.4,284.8 644.5,284.8 644.65,285.49 644.9,290.78 645.15,296.53 645.4,301.86 645.65,304.58 645.9,304.78 646.15,304.93 646.4,305.06 646.65,306.23 646.9,305.59 647.15,304.67 647.4,304.64 647.65,303.87 647.9,304.66 648.15,305.25 648.4,304.63 648.65,304.77 648.9,306.66 649.15,307.2 649.4,306.48 649.65,306.56 649.9,305.31 650.15,304.81 650.4,304.73 650.65,305.57 650.9,305.94 651.15,305.57 651.4,306 651.65,305.66 651.9,305.7 652.15,305.45 652.4,305.69 652.65,306.29 652.9,307.77 653.15,307.65 653.4,307.65 653.65,306.46 653.9,307.03 654.15,306.83 654.4,306.13 654.65,305.65 654.9,305.2 655.15,305.27 655.4,304.64 655.65,305.43 655.9,304.68 656.15,305.26 656.4,304.12 656.65,301.58 656.9,298.58 657.15,297.13 657.2,297.44 657.4,298.84 657.65,302.22 657.9,304.88 658.15,304.55 658.4,306.29 658.65,306.96 658.9,307.31 659.15,306.73 659.4,306.44 659.65,306.47 659.9,306.88 660.15,306.42 660.4,306.89 660.65,306.12 660.9,305.06 661.15,305.83 661.4,305.5 661.65,305.62 661.9,305.44 662.15,305.46 662.4,303.71 662.65,300.69 662.9,294.66 663.15,286.47 663.4,282.11 663.5,280.95 663.65,283.19 663.9,289.93 664.15,297.34 664.4,301.37 664.65,303.05 664.9,304.47 665.15,304.94 665.4,305.76 665.65,305.93 665.9,306.6 666.15,306.28 666.4,307.23 666.65,305.33 666.9,304.96 667.15,305.81 667.4,306.19 667.65,306.36 667.9,306.15 668.15,305.99 668.4,304.99 668.65,305.81 668.9,307.03 669.15,306.43 669.4,306.05 669.65,306.55 669.9,305.9 670.15,306.13 670.4,306.58 670.65,306.42 670.9,307.01 671.15,306.82 671.4,305.55 671.65,305.19 671.9,305.35 672.15,305.69 672.4,305.78 672.65,306.63 672.9,306.31 673.15,306.65 673.4,306.76 673.65,305.59 673.9,306.3 674.15,306.21 674.4,306.15 674.65,305.61 674.9,306.03 675.15,305.83 675.4,305.8 675.65,306.09 675.9,306.46 676.15,306.9 676.4,305.95 676.65,306.55 676.9,305.72 677.15,305.03 677.4,305.93 677.65,306.6 677.9,306.96 678.15,306.87 678.4,305.8 678.65,306.43 678.9,306.91 679.15,307.47 679.4,306.78 679.65,306.25 679.9,305.39 680.15,305.65 680.4,305.94 680.65,306.09 680.9,304.54 681.15,304.49 681.4,304.84 681.65,305.7 681.9,306.05 682.15,306.17 682.4,306.24 682.65,305.95 682.9,306.45 683.15,305.28 683.4,306.28 683.65,305.88 683.9,305.62 684.15,305.37 684.4,305.03 684.65,305.44 684.9,305.7 685.15,305.14 685.4,304.94" fill="none" stroke="#1e1e1e" stroke-width="1.2" stroke-linejoin="round"/>
<polyline points="468.4,359.99 468.65,359.51 468.9,360.41 469.15,359.98 469.4,361.13 469.65,359.87 469.9,360.27 470.15,359.61 470.4,359.54 470.65,360.08 470.9,359.56 471.15,358.85 471.4,359.89 471.65,358.88 471.9,359.21 472.15,360.08 472.4,360.17 472.65,359.86 472.9,359.51 473.15,360.18 473.4,360.28 473.65,359.85 473.9,359.76 474.15,358.77 474.4,358.91 474.65,358.94 474.9,359.94 475.15,360.44 475.4,360.77 475.65,360.39 475.9,359.83 476.15,358.96 476.4,358.91 476.65,359.88 476.9,359.95 477.15,358.76 477.4,359.28 477.65,359.32 477.9,360.39 478.15,360.93 478.4,360.7 478.65,360.47 478.9,359.91 479.15,360 479.4,360.91 479.65,359.09 479.9,359.3 480.15,360.54 480.4,359.31 480.65,359.16 480.9,359.64 481.15,359.77 481.4,359.58 481.65,361.02 481.9,359.93 482.15,359.78 482.4,359.49 482.65,360.03 482.9,360.32 483.15,359.26 483.4,361.44 483.65,360.02 483.9,359.33 484.15,360.52 484.4,360.35 484.65,360.52 484.9,360.54 485.15,360.93 485.4,361.17 485.65,360.51 485.9,360.38 486.15,359.84 486.4,359.47 486.65,360.01 486.9,358.82 487.15,358.48 487.4,360.06 487.65,360.08 487.9,360.21 488.15,359.84 488.4,360.43 488.65,359.31 488.9,359.83 489.15,358.71 489.4,359.75 489.65,358.77 489.9,359.12 490.15,359.02 490.4,359.29 490.65,359.42 490.9,360.22 491.15,360.17 491.4,360.45 491.65,360.3 491.9,360.32 492.15,359.7 492.4,359.66 492.65,359.95 492.9,360.9 493.15,359.89 493.4,360.31 493.65,360.33 493.9,359.89 494.15,359.93 494.4,359.89 494.65,359.85 494.9,360.92 495.15,360.04 495.4,360.09 495.65,359.58 495.9,359.71 496.15,360.04 496.4,359.19 496.65,359.49 496.9,359.15 497.15,359.19 497.4,359.11 497.65,358.94 497.9,359.08 498.15,359.99 498.4,360.07 498.65,359.24 498.9,359.63 499.15,359.95 499.4,359.89 499.65,359.36 499.9,360.06 500.15,359.98 500.4,360.15 500.65,360.34 500.9,359.66 501.15,360.01 501.4,359.84 501.65,359.56 501.9,359.34 502.15,359.19 502.4,358.92 502.65,359.53 502.9,360.66 503.15,359.27 503.4,357.77 503.65,357.21 503.9,354.76 504.15,349.91 504.4,344.98 504.65,341.18 504.7,341.23 504.9,342.67 505.15,348.1 505.4,352.37 505.65,356.6 505.9,358.57 506.15,359.83 506.4,359.55 506.65,359.61 506.9,359.72 507.15,359.36 507.4,360.04 507.65,360.65 507.9,359.04 508.15,359.39 508.4,360.11 508.65,359.38 508.9,359.51 509.15,360.16 509.4,359.8 509.65,359.23 509.9,359.12 510.15,359.51 510.4,358.75 510.65,359.74 510.9,359.87 511.15,359.58 511.4,360.24 511.65,359.65 511.9,359.51 512.15,359.11 512.4,359.26 512.65,358.43 512.9,359.8 513.15,359.96 513.4,360.1 513.65,359.87 513.9,359.39 514.15,360.05 514.4,359.24 514.65,358.73 514.9,358.98 515.15,359.85 515.4,359.11 515.65,358.72 515.9,359.02 516.15,358.41 516.4,356.63 516.65,353.7 516.9,347.95 517.15,342.45 517.3,341.38 517.4,342.35 517.65,346.13 517.9,350.14 518.15,349.48 518.3,350.03 518.4,351.01 518.65,354.49 518.9,351.21 519.1,348.87 519.15,348.77 519.4,353.48 519.65,353.05 519.9,350.98 520.15,353.19 520.4,351.9 520.65,346.7 520.7,347.23 520.9,348.78 521.15,351.89 521.3,350.97 521.4,349.8 521.5,349.57 521.65,350.03 521.9,352.15 522.15,348.42 522.3,347.82 522.4,349.99 522.65,355.45 522.9,354.89 523.1,352.72 523.15,353.05 523.4,356.56 523.65,354.96 523.9,352.3 524.15,355.27 524.4,356.33 524.65,355.82 524.7,355.99 524.9,356.56 525.15,359.37 525.4,359.84 525.65,360.36 525.9,360.13 526.15,360.26 526.4,359.89 526.65,360.09 526.9,359.3 527.15,360 527.4,359.97 527.65,359.55 527.9,360.2 528.15,360.39 528.4,360.21 528.65,360.29 528.9,359.67 529.15,360.2 529.4,360.89 529.65,360.07 529.9,360.46 530.15,360.56 530.4,360.41 530.65,359.57 530.9,359.34 531.15,359.57 531.4,359.63 531.65,360.04 531.9,359.08 532.15,358.97 532.4,359.94 532.65,359.47 532.9,360.46 533.15,360.67 533.4,360.71 533.65,359.48 533.9,358.66 534.15,359.31 534.4,359.92 534.65,359.23 534.9,359.9 535.15,359.07 535.4,360.06 535.65,359.49 535.9,360.18 536.15,359.14 536.4,359.49 536.65,360.1 536.9,359.99 537.15,361.29 537.4,360.61 537.65,359.94 537.9,358.68 538.15,359.92 538.4,359.3 538.65,358.95 538.9,359.08 539.15,359.71 539.4,359.76 539.65,360.32 539.9,360 540.15,360.63 540.4,360.59 540.65,360.24 540.9,360.6 541.15,360.99 541.4,360.53 541.65,360.1 541.9,359.68 542.15,359.6 542.4,358.89 542.65,359.46 542.9,358.99 543.15,360.05 543.4,359.65 543.65,359.42 543.9,358.68 544.15,359.67 544.4,358.81 544.65,359.45 544.9,359.95 545.15,360.87 545.4,359.93 545.65,360.26 545.9,359.66 546.15,359.72 546.4,359.42 546.65,359.67 546.9,360.2 547.15,360.33 547.4,360.16 547.65,359.83 547.9,360.32 548.15,359.64 548.4,360.92 548.65,361.17 548.9,360.2 549.15,359.91 549.4,358.83 549.65,358.82 549.9,359.95 550.15,360.56 550.4,360.26 550.65,360.16 550.9,359.67 551.15,360.11 551.4,360.44 551.65,360.62 551.9,360.32 552.15,360.62 552.4,360.38 552.65,359.77 552.9,359.98 553.15,360.58 553.4,360 553.65,359.57 553.9,360.26 554.15,360.35 554.4,361.05 554.65,361.1 554.9,361.18 555.15,361.35 555.4,361.03 555.65,359.46 555.9,359.1 556.15,359.79 556.4,359.66 556.65,359.79 556.9,359.84 557.15,361.02 557.4,360.61 557.65,360.95 557.9,360.73 558.15,360.43 558.4,362.23 558.65,362.55 558.9,361.06 559.15,359.8 559.4,359.42 559.65,360.35 559.9,360.41 560.15,359.87 560.4,360.07 560.65,361.28 560.9,360.23 561.15,360.5 561.4,360.27 561.65,361.13 561.9,361.21 562.15,359.95 562.4,360.24 562.65,359.87 562.9,359.05 563.15,359.51 563.4,359.75 563.65,360.03 563.9,359.56 564.15,359.59 564.4,359.56 564.65,358.91 564.9,359.18 565.15,358.9 565.4,359.93 565.65,360.11 565.9,359.68 566.15,360.3 566.4,360.95 566.65,360.53 566.9,360.54 567.15,360.06 567.4,359.14 567.65,359.83 567.9,360.52 568.15,360.43 568.4,360.54 568.65,360.57 568.9,359.65 569.15,359.51 569.4,359.54 569.65,359.9 569.9,359.41 570.15,359.75 570.4,358.92 570.65,359.45 570.9,359.76 571.15,359.49 571.4,358.55 571.65,360.25 571.9,359.86 572.15,360.59 572.4,361.2 572.65,360.84 572.9,359.94 573.15,360.88 573.4,360.66 573.65,359.3 573.9,358.94 574.15,359.64 574.4,359.44 574.65,359.66 574.9,360.13 575.15,360.5 575.4,359.52 575.65,360.11 575.9,360.11 576.15,360.3 576.4,360.95 576.65,360.55 576.9,359.18 577.15,360.1 577.4,360.01 577.65,359.24 577.9,359.22 578.15,359.41 578.4,359.08 578.65,358.98 578.9,359.02 579.15,359.38 579.4,359.3 579.5,360.02 579.65,359.33 579.9,359.2 580.15,359.37 580.4,359.92 580.65,359.5 580.9,359.86 581.15,358.54 581.4,358.83 581.5,357.88 581.65,358.4 581.9,357.86 582.15,357.66 582.4,357.24 582.65,357.37 582.9,357.98 583.15,356.78 583.3,356.91 583.4,357.59 583.65,358.1 583.9,357.99 584.15,357.89 584.4,357.5 584.65,354.23 584.8,352.23 584.9,353.65 585.15,357.11 585.4,356.43 585.65,351.88 585.7,351.54 585.9,354.36 586.15,357.38 586.4,355.61 586.6,353.11 586.65,353.65 586.9,355.88 587.15,356.22 587.4,351.83 587.5,349.42 587.65,351.9 587.9,355.12 588.15,355.63 588.3,354.42 588.4,352.85 588.65,355.55 588.9,357.6 589.15,352.83 589.3,350.3 589.4,351.88 589.65,355.92 589.9,355.85 590.15,353.22 590.2,353.52 590.4,355.25 590.65,357.45 590.9,355.22 591.1,353.03 591.15,352.81 591.4,356.34 591.65,357.99 591.9,356.2 592,356.3 592.15,357.19 592.4,358.68 592.65,359.38 592.9,359.2 593.15,358.86 593.4,359.81 593.65,360.14 593.9,359.65 594.15,359.92 594.4,360.49 594.65,360.2 594.9,359.83 595.15,359.28 595.4,360.09 595.65,359.83 595.9,359.62 596.15,361.35 596.4,360.25 596.65,360.15 596.9,360.96 597.15,359.47 597.4,359.49 597.65,359.57 597.9,358.46 598.15,358.63 598.4,359.86 598.65,359.91 598.9,358.98 599.15,358.79 599.4,358.51 599.65,359.25 599.9,358.98 600.15,359.82 600.4,360 600.65,359.64 600.9,359.88 601.15,359.61 601.4,359.88 601.65,359.77 601.9,358.71 602.15,359.01 602.4,358.88 602.65,360.22 602.9,360.42 603.15,359.68 603.4,360.72 603.65,360.57 603.9,360.45 604.15,359.55 604.4,360.72 604.65,360.62 604.9,360.27 605.15,360.03 605.4,360.88 605.65,359.71 605.9,359.42 606.15,358.93 606.4,359.07 606.65,359.11 606.9,359.62 607.15,359.86 607.4,360.49 607.65,359.87 607.9,360.46 608.15,359.42 608.4,359.22 608.65,359.69 608.9,359.45 609.15,360.24 609.4,360.22 609.65,359.88 609.9,359.85 610.15,358.78 610.4,356.63 610.65,352.94 610.9,346.84 611.15,339.8 611.4,336.58 611.65,338.82 611.9,345.49 612.15,349.75 612.4,352.62 612.65,352.01 612.9,349.33 613.15,346.75 613.3,346.33 613.4,346.59 613.65,349.9 613.9,352.36 614.15,354.04 614.4,357.7 614.65,358.35 614.9,357.69 615.15,359.21 615.4,359.24 615.65,358.34 615.9,358.69 616.15,359.11 616.4,358.96 616.65,359.47 616.9,359.23 617.15,359.61 617.4,359.26 617.65,360.04 617.9,360.03 618.15,359.88 618.4,361.14 618.65,360.01 618.9,360.15 619.15,360.36 619.4,360.92 619.65,360.47 619.9,360.71 620.15,359.96 620.4,359.04 620.65,359.74 620.9,360.22 621.15,360.14 621.4,360.18 621.65,359.76 621.9,360.95 622.15,360.13 622.4,360.02 622.65,360.26 622.9,360.92 623.15,359.87 623.4,359.22 623.65,359.32 623.9,359.12 624.15,358.91 624.4,359.09 624.65,358.69 624.9,359.17 625.15,357.63 625.4,357.38 625.65,353.64 625.9,350.76 626,350.33 626.15,351.84 626.4,354.28 626.65,356.3 626.9,358.53 627.15,358.98 627.4,359.39 627.65,358.7 627.9,359.45 628.15,359.87 628.4,359.46 628.65,358.98 628.9,359.5 629.15,360.34 629.4,360.7 629.65,361.02 629.9,360.22 630.15,360.39 630.4,359.85 630.65,360.3 630.9,359.78 631.15,358.87 631.4,358.95 631.65,356.85 631.9,354.35 632.15,349.79 632.4,342.29 632.65,335.11 632.8,333.92 632.9,334.65 633.15,340.41 633.4,349.08 633.65,352.71 633.9,355.53 634.15,356.31 634.4,355.45 634.65,354.81 634.9,353.55 635.15,352.08 635.3,351.51 635.4,351.17 635.65,353.99 635.9,355.25 636.15,357.58 636.4,359.21 636.65,358.65 636.9,359.37 637.15,359.04 637.4,360.02 637.65,359.34 637.9,359.64 638.15,358.76 638.4,359.6 638.65,358.95 638.9,357.79 639.15,355.33 639.4,354.2 639.5,353.86 639.65,353.98 639.9,355.8 640.15,357.35 640.4,358.39 640.65,359.97 640.9,359.24 641.15,360.03 641.4,360.24 641.65,358.94 641.9,359.61 642.15,359.62 642.4,359.1 642.65,359.53 642.9,359.36 643.15,359.17 643.4,358.6 643.65,357.84 643.9,354.03 644.15,349.1 644.4,342.45 644.65,338.4 644.7,338.7 644.9,340.09 645.15,346.87 645.4,352.04 645.65,356.37 645.9,358.51 646.15,359 646.4,357.96 646.65,358.26 646.9,358.88 647.15,359.04 647.4,358.74 647.65,359.52 647.9,360.71 648.15,360.85 648.4,360.38 648.65,360.52 648.9,360.35 649.15,359.31 649.4,359.75 649.65,360.17 649.9,360 650.15,359.28 650.4,358.65 650.65,358.89 650.9,359.56 651.15,359.98 651.4,360.57 651.65,360.57 651.9,359.72 652.15,359.48 652.4,359.51 652.65,360.26 652.9,360.11 653.15,360.36 653.4,359.27 653.65,359.54 653.9,359.73 654.15,359.76 654.4,359.75 654.65,359.67 654.9,359.94 655.15,359.57 655.4,359.4 655.65,358.66 655.9,358 656.15,356.52 656.4,354.56 656.65,351.06 656.9,349.48 657,349.03 657.15,349.41 657.4,353.52 657.65,355.4 657.9,357.07 658.15,358.37 658.4,357.73 658.65,359.55 658.9,359.55 659.15,359.53 659.4,359.86 659.65,358.93 659.9,358.67 660.15,358.88 660.4,359.74 660.65,359.5 660.9,359.43 661.15,359.1 661.4,359.93 661.65,360.01 661.9,358.68 662.15,358.17 662.4,356.97 662.65,354.07 662.9,350.14 663.15,341.14 663.4,335.97 663.5,335.58 663.65,336.22 663.9,342.1 664.15,348.97 664.4,354.64 664.65,357.73 664.9,358.31 665.15,358.76 665.4,360.11 665.65,359.1 665.9,360.43 666.15,359.84 666.4,359.61 666.65,359.28 666.9,359.49 667.15,359.19 667.4,359.36 667.65,360.1 667.9,360.33 668.15,359.34 668.4,360.68 668.65,359.91 668.9,360.25 669.15,361.06 669.4,360.98 669.65,360.2 669.9,361.62 670.15,360.29 670.4,359.44 670.65,359.94 670.9,360.16 671.15,360.05 671.4,359.53 671.65,360.33 671.9,360.43 672.15,360.02 672.4,360.84 672.65,360.25 672.9,360.16 673.15,359.63 673.4,360.44 673.65,360.25 673.9,359.92 674.15,359.94 674.4,360.56 674.65,359.66 674.9,359.89 675.15,359.87 675.4,359.91 675.65,359.58 675.9,359.75 676.15,360.26 676.4,359.67 676.65,359.88 676.9,359.89 677.15,359.84 677.4,360.59 677.65,360.26 677.9,359.97 678.15,360.79 678.4,360.57 678.65,360.33 678.9,359.79 679.15,360.08 679.4,360.01 679.65,359.67 679.9,360.52 680.15,360.68 680.4,360.51 680.65,359.87 680.9,359.2 681.15,359.55 681.4,359.84 681.65,360.19 681.9,360.04 682.15,359.1 682.4,359.63 682.65,360.1 682.9,359.18 683.15,359.66 683.4,359.93 683.65,360.44 683.9,359.64 684.15,359.94 684.4,360.99 684.65,361.68 684.9,360.67 685.15,360.63 685.4,360.06" fill="none" stroke="#1e1e1e" stroke-width="1.2" stroke-linejoin="round"/>
<rect x="576.3" y="218.9" width="8.7" height="142.1" fill="rgba(255,40,40,0.33)"/>
<rect x="612.9" y="220.8" width="9.9" height="141.5" fill="rgba(255,40,40,0.33)"/>
<line x1="25" y1="373.6" x2="240.5" y2="373.6" stroke="#333" stroke-width="1.1"/>
<line x1="36.4" y1="373.6" x2="36.4" y2="375.6" stroke="#666" stroke-width="1"/>
<line x1="55.2" y1="373.6" x2="55.2" y2="375.6" stroke="#666" stroke-width="1"/>
<line x1="74" y1="373.6" x2="74" y2="375.6" stroke="#666" stroke-width="1"/>
<line x1="92.8" y1="373.6" x2="92.8" y2="375.6" stroke="#666" stroke-width="1"/>
<line x1="111.6" y1="373.6" x2="111.6" y2="375.6" stroke="#666" stroke-width="1"/>
<line x1="130.4" y1="373.6" x2="130.4" y2="375.6" stroke="#666" stroke-width="1"/>
<line x1="149.2" y1="373.6" x2="149.2" y2="375.6" stroke="#666" stroke-width="1"/>
<line x1="168" y1="373.6" x2="168" y2="375.6" stroke="#666" stroke-width="1"/>
<line x1="186.8" y1="373.6" x2="186.8" y2="375.6" stroke="#666" stroke-width="1"/>
<line x1="205.6" y1="373.6" x2="205.6" y2="375.6" stroke="#666" stroke-width="1"/>
<line x1="224.4" y1="373.6" x2="224.4" y2="375.6" stroke="#666" stroke-width="1"/>
<line x1="249.2" y1="373.6" x2="461.7" y2="373.6" stroke="#333" stroke-width="1.1"/>
<line x1="256.1" y1="373.6" x2="256.1" y2="375.6" stroke="#666" stroke-width="1"/>
<line x1="275.73" y1="373.6" x2="275.73" y2="375.6" stroke="#666" stroke-width="1"/>
<line x1="295.36" y1="373.6" x2="295.36" y2="375.6" stroke="#666" stroke-width="1"/>
<line x1="314.99" y1="373.6" x2="314.99" y2="375.6" stroke="#666" stroke-width="1"/>
<line x1="334.62" y1="373.6" x2="334.62" y2="375.6" stroke="#666" stroke-width="1"/>
<line x1="354.25" y1="373.6" x2="354.25" y2="375.6" stroke="#666" stroke-width="1"/>
<line x1="373.88" y1="373.6" x2="373.88" y2="375.6" stroke="#666" stroke-width="1"/>
<line x1="393.51" y1="373.6" x2="393.51" y2="375.6" stroke="#666" stroke-width="1"/>
<line x1="413.14" y1="373.6" x2="413.14" y2="375.6" stroke="#666" stroke-width="1"/>
<line x1="432.77" y1="373.6" x2="432.77" y2="375.6" stroke="#666" stroke-width="1"/>
<line x1="452.4" y1="373.6" x2="452.4" y2="375.6" stroke="#666" stroke-width="1"/>
<line x1="469" y1="373.6" x2="685.5" y2="373.6" stroke="#333" stroke-width="1.1"/>
<line x1="482.3" y1="373.6" x2="482.3" y2="375.6" stroke="#666" stroke-width="1"/>
<line x1="498.35" y1="373.6" x2="498.35" y2="375.6" stroke="#666" stroke-width="1"/>
<line x1="514.4" y1="373.6" x2="514.4" y2="375.6" stroke="#666" stroke-width="1"/>
<line x1="530.45" y1="373.6" x2="530.45" y2="375.6" stroke="#666" stroke-width="1"/>
<line x1="546.5" y1="373.6" x2="546.5" y2="375.6" stroke="#666" stroke-width="1"/>
<line x1="562.55" y1="373.6" x2="562.55" y2="375.6" stroke="#666" stroke-width="1"/>
<line x1="578.6" y1="373.6" x2="578.6" y2="375.6" stroke="#666" stroke-width="1"/>
<line x1="594.65" y1="373.6" x2="594.65" y2="375.6" stroke="#666" stroke-width="1"/>
<line x1="610.7" y1="373.6" x2="610.7" y2="375.6" stroke="#666" stroke-width="1"/>
<line x1="626.75" y1="373.6" x2="626.75" y2="375.6" stroke="#666" stroke-width="1"/>
<line x1="642.4" y1="373.6" x2="642.4" y2="375.6" stroke="#666" stroke-width="1"/>
<line x1="658.8" y1="373.6" x2="658.8" y2="375.6" stroke="#666" stroke-width="1"/>
<line x1="674.9" y1="373.6" x2="674.9" y2="375.6" stroke="#666" stroke-width="1"/>
<line x1="634.8" y1="376" x2="637.3" y2="371.8" stroke="#444" stroke-width="0.9"/>
<line x1="636.9" y1="376" x2="639.4" y2="371.8" stroke="#444" stroke-width="0.9"/>
<rect x="635.5" y="373.2" width="2.2" height="1.6" fill="#fff"/>
<text x="39" y="389.4" font-size="12.8" text-anchor="middle" textLength="20.4" lengthAdjust="spacingAndGlyphs" fill="#1a1a1a">8.4</text>
<text x="76.5" y="389.4" font-size="12.8" text-anchor="middle" textLength="20.4" lengthAdjust="spacingAndGlyphs" fill="#1a1a1a">8.2</text>
<text x="114" y="389.4" font-size="12.8" text-anchor="middle" textLength="20.4" lengthAdjust="spacingAndGlyphs" fill="#1a1a1a">8.0</text>
<text x="151.5" y="389.4" font-size="12.8" text-anchor="middle" textLength="20.4" lengthAdjust="spacingAndGlyphs" fill="#1a1a1a">7.8</text>
<text x="189" y="389.4" font-size="12.8" text-anchor="middle" textLength="20.4" lengthAdjust="spacingAndGlyphs" fill="#1a1a1a">7.6</text>
<text x="226.5" y="389.4" font-size="12.8" text-anchor="middle" textLength="20.4" lengthAdjust="spacingAndGlyphs" fill="#1a1a1a">7.4</text>
<text x="258" y="389.4" font-size="12.8" text-anchor="middle" textLength="20.4" lengthAdjust="spacingAndGlyphs" fill="#1a1a1a">8.5</text>
<text x="297.2" y="389.4" font-size="12.8" text-anchor="middle" textLength="20.4" lengthAdjust="spacingAndGlyphs" fill="#1a1a1a">8.3</text>
<text x="336.4" y="389.4" font-size="12.8" text-anchor="middle" textLength="20.4" lengthAdjust="spacingAndGlyphs" fill="#1a1a1a">8.1</text>
<text x="375.6" y="389.4" font-size="12.8" text-anchor="middle" textLength="20.4" lengthAdjust="spacingAndGlyphs" fill="#1a1a1a">7.9</text>
<text x="414.8" y="389.4" font-size="12.8" text-anchor="middle" textLength="20.4" lengthAdjust="spacingAndGlyphs" fill="#1a1a1a">7.7</text>
<text x="454" y="389.4" font-size="12.8" text-anchor="middle" textLength="20.4" lengthAdjust="spacingAndGlyphs" fill="#1a1a1a">7.5</text>
<text x="500.3" y="389.4" font-size="12.8" text-anchor="middle" textLength="20.4" lengthAdjust="spacingAndGlyphs" fill="#1a1a1a">8.0</text>
<text x="532.1" y="389.4" font-size="12.8" text-anchor="middle" textLength="20.4" lengthAdjust="spacingAndGlyphs" fill="#1a1a1a">7.8</text>
<text x="563.8" y="389.4" font-size="12.8" text-anchor="middle" textLength="20.4" lengthAdjust="spacingAndGlyphs" fill="#1a1a1a">7.6</text>
<text x="596.2" y="389.4" font-size="12.8" text-anchor="middle" textLength="20.4" lengthAdjust="spacingAndGlyphs" fill="#1a1a1a">7.4</text>
<text x="628" y="389.4" font-size="12.8" text-anchor="middle" textLength="20.4" lengthAdjust="spacingAndGlyphs" fill="#1a1a1a">7.2</text>
<text x="660.9" y="389.4" font-size="12.8" text-anchor="middle" textLength="20.4" lengthAdjust="spacingAndGlyphs" fill="#1a1a1a">6.8</text>
<text x="107.2" y="405.1" font-size="13.2" textLength="56.5" lengthAdjust="spacingAndGlyphs" fill="#1a1a1a">δ in ppm</text>
<text x="329.7" y="405.1" font-size="13.2" textLength="56.5" lengthAdjust="spacingAndGlyphs" fill="#1a1a1a">δ in ppm</text>
<text x="551.3" y="405.1" font-size="13.2" textLength="56.5" lengthAdjust="spacingAndGlyphs" fill="#1a1a1a">δ in ppm</text>
<text x="30" y="215.6" font-size="14.8" textLength="113.6" lengthAdjust="spacingAndGlyphs" fill="#000">before irradiation</text>
<text x="29.2" y="275.5" font-size="14.8" textLength="114.2" lengthAdjust="spacingAndGlyphs" fill="#000">300 nm, 360 min</text>
<text x="29.4" y="325.3" font-size="14.8" textLength="105.2" lengthAdjust="spacingAndGlyphs" fill="#000">450 nm, 25 min</text>
<text x="255" y="215.5" font-size="14.8" textLength="114.2" lengthAdjust="spacingAndGlyphs" fill="#000">before irradiation</text>
<text x="255.3" y="275.5" font-size="14.8" textLength="104" lengthAdjust="spacingAndGlyphs" fill="#000">365 nm, 60 min</text>
<text x="255" y="325.1" font-size="14.8" textLength="96.8" lengthAdjust="spacingAndGlyphs" fill="#000">470 nm, 6 min</text>
<text x="467.3" y="216" font-size="14.8" textLength="113.6" lengthAdjust="spacingAndGlyphs" fill="#000">before irradiation</text>
<text x="467.3" y="275.8" font-size="14.8" textLength="96.4" lengthAdjust="spacingAndGlyphs" fill="#000">340 nm, 5 min</text>
<text x="467.3" y="327" font-size="14.8" textLength="96.4" lengthAdjust="spacingAndGlyphs" fill="#000">450 nm, 1 min</text>
</svg>
</body></html>
